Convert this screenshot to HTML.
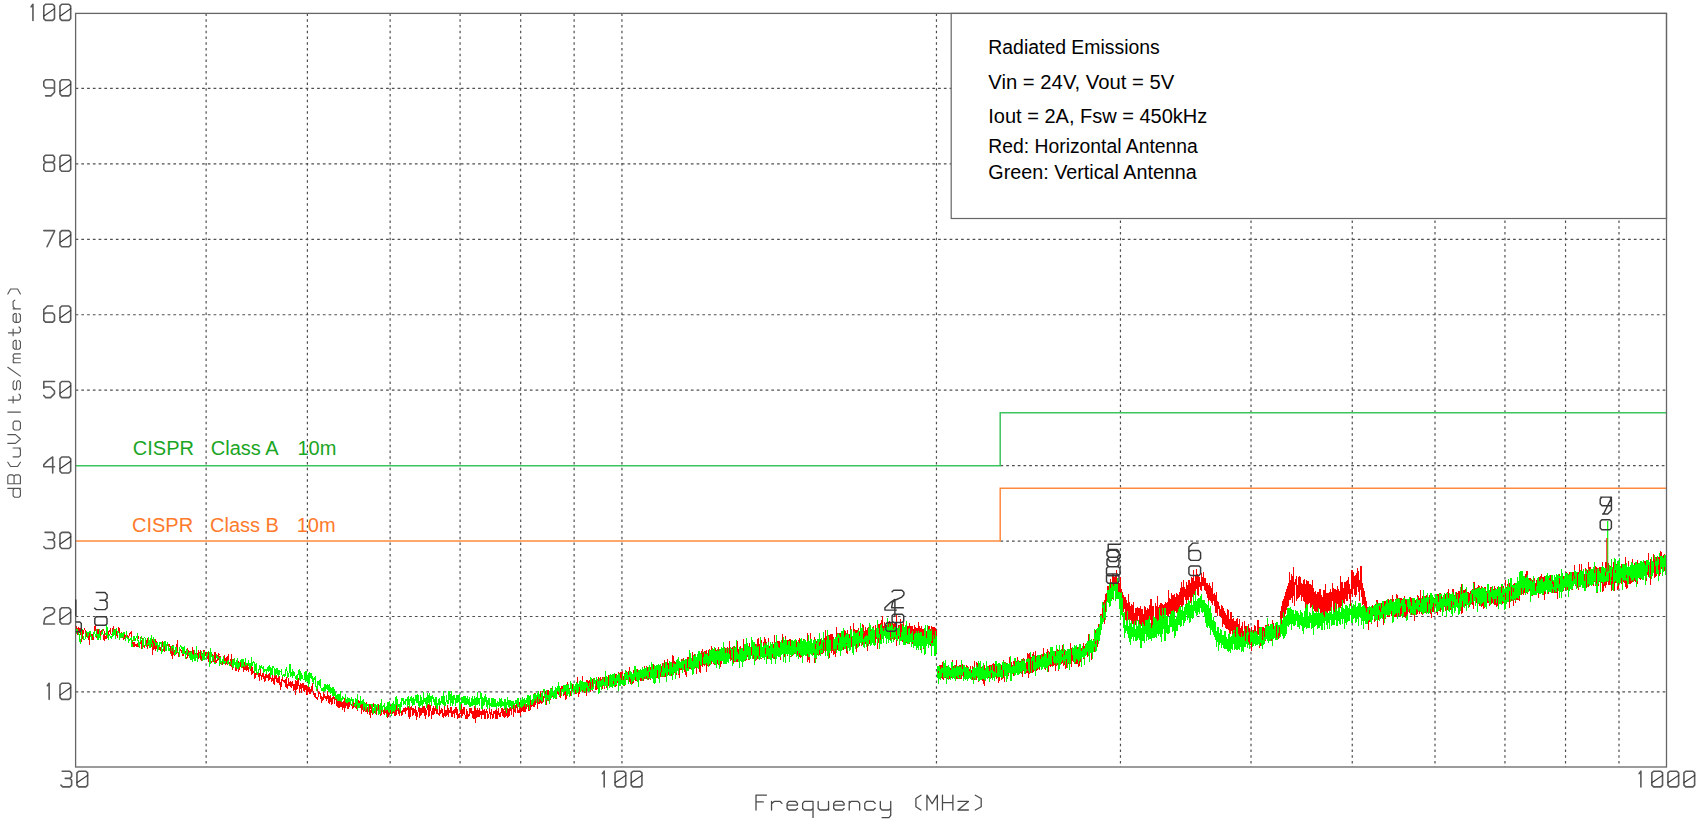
<!DOCTYPE html>
<html><head><meta charset="utf-8"><title>Radiated Emissions</title>
<style>html,body{margin:0;padding:0;background:#fff;overflow:hidden}svg{display:block}</style>
</head><body>
<svg width="1701" height="824" viewBox="0 0 1701 824"><rect x="0" y="0" width="1701" height="824" fill="#fff"/>
<path d="M75.60 691.96H1666.80 M75.60 616.52H1666.80 M1000.50 541.08H1666.80 M1000.50 465.64H1666.80 M75.60 390.20H1666.80 M75.60 314.76H1666.80 M75.60 239.32H1666.80 M75.60 163.88H1666.80 M75.60 88.44H1666.80" stroke="#4f4f4f" stroke-width="1.2" stroke-dasharray="2.7 3.05" fill="none"/>
<path d="M206.14 13.40V767.00 M307.40 13.40V767.00 M390.14 13.40V767.00 M460.09 13.40V767.00 M520.68 13.40V767.00 M574.13 13.40V767.00 M621.94 13.40V767.00 M936.47 13.40V767.00 M1120.46 13.40V767.00 M1251.01 13.40V767.00 M1352.26 13.40V767.00 M1435.00 13.40V767.00 M1504.95 13.40V767.00 M1565.54 13.40V767.00 M1618.99 13.40V767.00" stroke="#4f4f4f" stroke-width="1.2" stroke-dasharray="2.7 3.05" fill="none"/>
<rect x="951.20" y="13.40" width="715.30" height="205.10" fill="#fff" stroke="#666" stroke-width="1.2"/>
<text x="988.3" y="53.7" font-family="Liberation Sans, sans-serif" font-size="20" fill="#000" textLength="171.5" lengthAdjust="spacingAndGlyphs">Radiated Emissions</text>
<text x="988.3" y="89.3" font-family="Liberation Sans, sans-serif" font-size="20" fill="#000" textLength="186.0" lengthAdjust="spacingAndGlyphs">Vin = 24V, Vout = 5V</text>
<text x="988.3" y="122.8" font-family="Liberation Sans, sans-serif" font-size="20" fill="#000" textLength="219.0" lengthAdjust="spacingAndGlyphs">Iout = 2A, Fsw = 450kHz</text>
<text x="988.3" y="152.8" font-family="Liberation Sans, sans-serif" font-size="20" fill="#000" textLength="209.5" lengthAdjust="spacingAndGlyphs">Red: Horizontal Antenna</text>
<text x="988.3" y="179.4" font-family="Liberation Sans, sans-serif" font-size="20" fill="#000" textLength="208.5" lengthAdjust="spacingAndGlyphs">Green: Vertical Antenna</text>
<path d="M75.60 465.64H1000.20V412.83H1666.80" stroke="#3cc45e" stroke-width="1.5" fill="none"/>
<path d="M75.60 541.08H1000.20V488.27H1666.80" stroke="#ff8a3c" stroke-width="1.5" fill="none"/>
<text x="132.8" y="455" font-family="Liberation Sans, sans-serif" font-size="20" fill="#1aa524">CISPR</text>
<text x="210.8" y="455" font-family="Liberation Sans, sans-serif" font-size="20" fill="#1aa524">Class A</text>
<text x="297.5" y="455" font-family="Liberation Sans, sans-serif" font-size="20" fill="#1aa524">10m</text>
<text x="132" y="531.8" font-family="Liberation Sans, sans-serif" font-size="20" fill="#ff7a2a">CISPR</text>
<text x="210" y="531.8" font-family="Liberation Sans, sans-serif" font-size="20" fill="#ff7a2a">Class B</text>
<text x="296.7" y="531.8" font-family="Liberation Sans, sans-serif" font-size="20" fill="#ff7a2a">10m</text>
<polyline points="75.6,633.4 76.4,626.1 77.1,628.9 77.9,634.6 78.7,628.0 79.4,628.1 80.2,634.8 81.0,627.8 81.7,641.7 82.5,629.5 83.2,634.3 84.0,630.2 84.7,628.3 85.5,633.6 86.3,632.7 87.0,636.4 87.8,636.6 88.5,631.8 89.3,644.6 90.0,632.3 90.7,632.0 91.5,637.9 92.2,638.9 93.0,640.3 93.7,634.3 94.4,631.0 95.2,624.6 95.9,629.3 96.7,638.1 97.4,629.4 98.1,640.4 98.9,629.8 99.6,629.6 100.3,638.3 101.0,635.3 101.8,630.7 102.5,630.0 103.2,629.8 104.0,631.0 104.7,640.5 105.4,637.5 106.1,639.2 106.8,633.0 107.6,632.6 108.3,632.0 109.0,630.9 109.7,631.7 110.4,628.4 111.1,634.6 111.8,634.7 112.5,632.8 113.3,625.9 114.0,633.8 114.7,628.7 115.4,634.6 116.1,635.7 116.8,628.8 117.5,638.1 118.2,628.2 118.9,627.5 119.6,630.0 120.3,636.4 121.0,638.2 121.7,632.0 122.4,637.6 123.1,631.9 123.8,640.0 124.5,633.2 125.1,636.6 125.8,636.0 126.5,633.0 127.2,638.2 127.9,635.9 128.6,639.0 129.3,633.6 129.9,634.2 130.6,633.0 131.3,632.2 132.0,645.4 132.7,641.7 133.4,643.2 134.0,646.8 134.7,641.6 135.4,646.3 136.1,644.1 136.7,646.8 137.4,644.1 138.1,645.9 138.7,646.6 139.4,643.7 140.1,643.4 140.7,637.3 141.4,648.7 142.1,638.6 142.7,641.5 143.4,644.0 144.1,647.3 144.7,646.3 145.4,644.6 146.1,640.2 146.7,643.6 147.4,648.9 148.0,637.9 148.7,646.2 149.3,640.1 150.0,641.0 150.6,639.3 151.3,646.5 151.9,643.8 152.6,654.5 153.2,645.9 153.9,640.5 154.5,649.2 155.2,639.4 155.8,650.8 156.5,641.4 157.1,642.9 157.8,644.7 158.4,645.8 159.0,650.1 159.7,644.0 160.3,650.8 161.0,648.9 161.6,644.1 162.2,640.7 162.9,646.2 163.5,650.8 164.1,642.6 164.8,648.6 165.4,648.8 166.0,651.0 166.7,648.1 167.3,644.0 167.9,643.9 168.6,647.6 169.2,644.2 169.8,646.4 170.4,648.7 171.1,651.7 171.7,652.3 172.3,658.7 172.9,644.6 173.5,650.8 174.2,656.0 174.8,650.4 175.4,653.5 176.0,651.7 176.6,652.8 177.2,640.5 177.9,653.0 178.5,655.4 179.1,657.4 179.7,648.7 180.3,650.1 180.9,649.9 181.5,652.0 182.1,651.4 182.8,655.4 183.4,655.5 184.0,650.0 184.6,647.8 185.2,652.5 185.8,656.5 186.4,658.0 187.0,658.2 187.6,649.5 188.2,650.5 188.8,654.9 189.4,657.5 190.0,651.2 190.6,657.7 191.2,655.5 191.8,657.9 192.4,646.8 193.0,654.3 193.6,655.2 194.2,659.6 194.7,652.8 195.3,653.0 195.9,654.0 196.5,649.0 197.1,653.2 197.7,658.1 198.3,649.9 198.9,658.3 199.5,652.5 200.0,652.4 200.6,656.1 201.2,661.2 201.8,651.1 202.4,657.1 203.0,653.2 203.5,650.2 204.1,650.5 204.7,652.1 205.3,655.5 205.9,653.7 206.4,655.6 207.0,651.9 207.6,657.3 208.2,660.0 208.7,660.3 209.3,659.0 209.9,663.2 210.5,654.6 211.0,661.0 211.6,662.9 212.2,659.7 212.7,654.4 213.3,661.4 213.9,661.1 214.4,656.6 215.0,652.2 215.6,660.3 216.1,661.3 216.7,663.3 217.3,658.7 217.8,655.1 218.4,654.3 219.0,659.8 219.5,660.2 220.1,655.8 220.6,663.8 221.2,664.2 221.8,661.7 222.3,661.4 222.9,663.6 223.4,660.3 224.0,660.0 224.5,655.2 225.1,665.3 225.6,660.8 226.2,660.4 226.7,657.7 227.3,656.2 227.8,664.9 228.4,654.4 228.9,661.5 229.5,662.9 230.0,664.5 230.6,659.4 231.1,666.9 231.7,654.2 232.2,670.4 232.8,667.4 233.3,663.3 233.9,659.5 234.4,664.5 234.9,663.3 235.5,666.8 236.0,670.8 236.6,663.8 237.1,666.8 237.6,664.9 238.2,661.2 238.7,672.3 239.3,668.2 239.8,664.1 240.3,661.9 240.9,666.0 241.4,664.7 241.9,661.4 242.5,668.2 243.0,658.8 243.5,672.3 244.1,669.9 244.6,663.6 245.1,661.9 245.7,669.1 246.2,669.6 246.7,664.5 247.2,664.2 247.8,668.6 248.3,672.3 248.8,668.0 249.3,668.4 249.9,668.0 250.4,667.1 250.9,670.1 251.4,674.8 252.0,666.5 252.5,674.0 253.0,671.5 253.5,672.2 254.0,672.9 254.6,679.4 255.1,672.7 255.6,676.2 256.1,674.9 256.6,670.1 257.1,674.2 257.7,673.3 258.2,673.7 258.7,675.4 259.2,677.9 259.7,680.8 260.2,668.3 260.7,672.1 261.3,680.1 261.8,677.1 262.3,673.1 262.8,676.8 263.3,677.7 263.8,672.6 264.3,682.1 264.8,677.7 265.3,674.0 265.8,678.3 266.3,677.5 266.8,672.2 267.3,677.9 267.9,675.9 268.4,674.1 268.9,680.6 269.4,676.8 269.9,673.5 270.4,671.6 270.9,677.4 271.4,682.1 271.9,680.4 272.4,672.3 272.9,679.4 273.4,684.0 273.9,677.6 274.4,683.7 274.9,674.4 275.3,679.3 275.8,677.3 276.3,674.8 276.8,681.9 277.3,677.7 277.8,682.5 278.3,676.1 278.8,683.2 279.3,676.1 279.8,681.6 280.3,690.4 280.8,684.7 281.3,679.0 281.7,686.5 282.2,677.1 282.7,680.0 283.2,680.1 283.7,680.5 284.2,682.8 284.7,682.6 285.2,679.2 285.6,686.9 286.1,676.9 286.6,683.2 287.1,688.4 287.6,686.6 288.1,683.7 288.5,678.4 289.0,686.3 289.5,682.3 290.0,685.4 290.5,686.9 290.9,681.1 291.4,687.4 291.9,687.5 292.4,682.6 292.8,681.8 293.3,687.5 293.8,690.0 294.3,689.1 294.8,689.5 295.2,680.0 295.7,695.2 296.2,686.1 296.6,689.5 297.1,685.2 297.6,689.1 298.1,677.8 298.5,682.6 299.0,685.8 299.5,692.5 299.9,684.8 300.4,688.9 300.9,683.5 301.3,687.0 301.8,692.5 302.3,683.1 302.8,684.6 303.2,690.7 303.7,685.0 304.1,685.8 304.6,691.6 305.1,689.3 305.5,684.7 306.0,689.5 306.5,685.5 306.9,694.9 307.4,686.2 307.9,694.9 308.3,684.8 308.8,687.1 309.2,694.3 309.7,686.9 310.2,689.8 310.6,693.8 311.1,691.6 311.5,686.4 312.0,687.7 312.4,683.3 312.9,690.4 313.4,691.9 313.8,695.0 314.3,695.9 314.7,693.4 315.2,695.3 315.6,692.8 316.1,698.7 316.5,697.8 317.0,697.3 317.4,699.1 317.9,698.3 318.3,695.3 318.8,691.0 319.2,693.4 319.7,693.4 320.1,693.7 320.6,698.8 321.0,698.8 321.5,695.6 321.9,702.7 322.4,697.0 322.8,700.2 323.3,698.8 323.7,692.5 324.2,697.8 324.6,695.2 325.1,696.3 325.5,699.3 325.9,697.1 326.4,701.1 326.8,695.7 327.3,697.3 327.7,691.5 328.2,703.4 328.6,695.4 329.0,701.9 329.5,696.1 329.9,704.0 330.4,695.2 330.8,696.1 331.2,699.2 331.7,705.4 332.1,700.7 332.5,703.8 333.0,697.5 333.4,698.9 333.9,695.2 334.3,703.4 334.7,703.1 335.2,695.6 335.6,699.5 336.0,696.8 336.5,701.7 336.9,705.5 337.3,697.7 337.8,706.5 338.2,700.1 338.6,697.7 339.0,707.7 339.5,704.6 339.9,694.5 340.3,707.4 340.8,698.6 341.2,699.2 341.6,704.6 342.1,707.4 342.5,702.0 342.9,708.1 343.3,707.3 343.8,703.3 344.2,699.8 344.6,712.1 345.0,698.3 345.5,702.3 345.9,707.5 346.3,703.8 346.7,705.6 347.2,697.5 347.6,708.8 348.0,709.3 348.4,700.9 348.8,706.1 349.3,704.4 349.7,706.9 350.1,699.2 350.5,704.3 350.9,703.8 351.4,704.4 351.8,705.3 352.2,705.7 352.6,709.2 353.0,703.4 353.5,705.3 353.9,707.0 354.3,703.8 354.7,704.4 355.1,707.5 355.5,705.0 356.0,700.1 356.4,704.8 356.8,709.4 357.2,699.4 357.6,709.5 358.0,706.1 358.4,702.7 358.9,700.1 359.3,704.6 359.7,704.1 360.1,707.8 360.5,702.5 360.9,704.5 361.3,700.7 361.7,713.6 362.1,704.4 362.5,709.7 363.0,709.2 363.4,711.1 363.8,709.9 364.2,707.0 364.6,710.7 365.0,704.7 365.4,711.6 365.8,707.0 366.2,705.4 366.6,701.9 367.0,712.1 367.4,707.4 367.8,713.5 368.2,705.3 368.6,706.9 369.0,711.3 369.4,707.7 369.8,712.6 370.2,717.7 370.7,709.9 371.1,712.9 371.5,703.9 371.9,706.4 372.3,714.5 372.7,711.2 373.1,702.8 373.5,704.1 373.9,706.9 374.3,705.7 374.7,706.3 375.0,712.9 375.4,711.4 375.8,706.3 376.2,714.6 376.6,706.9 377.0,704.7 377.4,707.5 377.8,709.9 378.2,704.2 378.6,707.1 379.0,713.2 379.4,707.1 379.8,706.7 380.2,710.2 380.6,714.4 381.0,715.5 381.4,708.3 381.8,710.9 382.2,706.0 382.5,711.4 382.9,711.6 383.3,710.0 383.7,713.8 384.1,710.0 384.5,714.0 384.9,711.1 385.3,709.1 385.7,713.2 386.1,706.7 386.4,706.6 386.8,709.9 387.2,711.0 387.6,710.7 388.0,718.1 388.4,705.8 388.8,709.9 389.1,709.3 389.5,713.5 389.9,714.8 390.3,710.5 390.7,706.9 391.1,707.8 391.5,707.9 391.8,710.4 392.2,711.2 392.6,714.0 393.0,707.3 393.4,712.5 393.8,710.7 394.1,708.8 394.5,715.9 394.9,710.3 395.3,716.2 395.7,710.0 396.0,705.1 396.4,715.2 396.8,709.4 397.2,709.8 397.6,705.3 397.9,708.9 398.3,713.6 398.7,708.0 399.1,707.9 399.4,716.0 399.8,709.1 400.2,709.9 400.6,712.8 400.9,709.3 401.3,715.4 401.7,715.7 402.1,710.0 402.4,710.3 402.8,714.6 403.2,709.6 403.6,712.0 403.9,708.0 404.3,711.1 404.7,710.9 405.1,707.0 405.4,710.2 405.8,713.9 406.2,709.0 406.5,708.0 406.9,710.5 407.3,702.4 407.7,709.1 408.0,707.8 408.4,706.2 408.8,716.8 409.1,709.9 409.5,707.1 409.9,718.9 410.2,715.2 410.6,706.8 411.0,708.9 411.3,707.9 411.7,706.5 412.1,711.1 412.4,707.7 412.8,709.2 413.2,714.0 413.5,708.5 413.9,714.5 414.3,710.7 414.6,712.7 415.0,708.7 415.4,706.4 415.7,712.8 416.1,716.3 416.5,709.7 416.8,719.5 417.2,714.2 417.5,717.3 417.9,712.7 418.3,711.2 418.6,706.8 419.0,710.0 419.4,709.4 419.7,710.9 420.1,708.1 420.4,708.9 420.8,710.1 421.2,707.8 421.5,714.2 421.9,714.2 422.2,710.5 422.6,706.6 422.9,706.5 423.3,712.7 423.7,709.6 424.0,706.0 424.4,716.2 424.7,708.8 425.1,707.8 425.4,712.8 425.8,718.9 426.2,712.3 426.5,712.4 426.9,710.3 427.2,708.7 427.6,704.0 427.9,702.7 428.3,707.0 428.6,709.0 429.0,716.8 429.3,707.5 429.7,713.2 430.0,705.2 430.4,709.8 430.8,710.9 431.1,711.5 431.5,711.6 431.8,718.7 432.2,708.4 432.5,715.0 432.9,713.3 433.2,713.0 433.6,712.1 433.9,710.6 434.3,709.2 434.6,713.7 435.0,707.7 435.3,708.7 435.7,711.0 436.0,705.7 436.3,706.2 436.7,706.4 437.0,714.1 437.4,707.0 437.7,708.2 438.1,714.8 438.4,714.5 438.8,713.6 439.1,713.6 439.5,709.1 439.8,715.1 440.2,712.5 440.5,710.2 440.8,712.6 441.2,712.1 441.5,713.2 441.9,707.6 442.2,712.3 442.6,708.7 442.9,716.7 443.2,712.9 443.6,716.4 443.9,717.4 444.3,713.9 444.6,706.1 445.0,714.2 445.3,714.9 445.6,712.0 446.0,710.0 446.3,715.1 446.7,714.8 447.0,710.3 447.3,714.7 447.7,705.4 448.0,715.2 448.4,707.9 448.7,716.8 449.0,711.6 449.4,709.7 449.7,712.6 450.0,713.3 450.4,708.6 450.7,710.3 451.1,706.6 451.4,716.5 451.7,707.0 452.1,711.8 452.4,717.2 452.7,716.3 453.1,711.0 453.4,710.6 453.7,713.9 454.1,709.5 454.4,713.2 454.7,717.8 455.1,712.0 455.4,708.4 455.7,708.3 456.1,707.3 456.4,715.2 456.7,712.4 457.1,708.9 457.4,718.7 457.7,712.8 458.1,715.1 458.4,715.9 458.7,714.1 459.1,717.7 459.4,714.9 459.7,717.3 460.0,713.4 460.4,711.2 460.7,714.4 461.0,703.2 461.4,714.2 461.7,710.0 462.0,711.6 462.3,715.4 462.7,715.5 463.0,714.7 463.3,708.0 463.7,710.9 464.0,706.9 464.3,711.6 464.6,713.1 465.0,714.8 465.3,717.2 465.6,715.7 465.9,718.5 466.3,718.2 466.6,711.7 466.9,709.0 467.2,714.9 467.6,711.4 467.9,718.6 468.2,714.4 468.5,714.6 468.9,714.2 469.2,715.9 469.5,708.6 469.8,708.4 470.2,708.4 470.5,712.4 470.8,712.0 471.1,709.8 471.4,713.8 471.8,707.6 472.1,712.4 472.4,714.1 472.7,716.5 473.0,717.9 473.4,710.9 473.7,718.8 474.0,717.4 474.3,718.8 474.6,710.0 475.0,705.8 475.3,703.8 475.6,713.3 475.9,722.5 476.2,710.3 476.6,717.4 476.9,713.7 477.2,714.7 477.5,708.3 477.8,716.6 478.1,710.3 478.5,717.4 478.8,713.9 479.1,717.3 479.4,709.3 479.7,708.7 480.0,711.6 480.4,714.7 480.7,712.1 481.0,711.1 481.3,718.1 481.6,719.1 481.9,715.0 482.2,713.0 482.6,712.7 482.9,711.6 483.2,715.0 483.5,714.7 483.8,709.7 484.1,715.7 484.4,709.1 484.8,718.6 485.1,711.8 485.4,719.2 485.7,716.1 486.0,711.2 486.3,709.2 486.6,712.5 486.9,709.9 487.2,712.8 487.6,718.5 487.9,715.7 488.2,714.2 488.5,717.6 488.8,717.4 489.1,712.7 489.4,706.7 489.7,712.6 490.0,712.3 490.3,712.5 490.7,718.8 491.0,715.4 491.3,710.2 491.6,708.9 491.9,713.1 492.2,716.8 492.5,718.6 492.8,713.6 493.1,717.7 493.4,711.5 493.7,715.7 494.0,711.2 494.3,714.1 494.6,712.7 494.9,712.6 495.3,715.0 495.6,718.5 495.9,712.6 496.2,705.2 496.5,715.3 496.8,718.9 497.1,712.5 497.4,714.7 497.7,718.6 498.0,711.4 498.3,711.6 498.6,708.0 498.9,714.6 499.2,715.6 499.5,716.4 499.8,716.0 500.1,712.4 500.4,717.0 500.7,713.7 501.0,713.2 501.3,708.2 501.6,710.4 501.9,708.3 502.2,708.4 502.5,712.8 502.8,715.9 503.1,711.7 503.4,709.4 503.7,713.3 504.0,716.7 504.3,716.7 504.6,718.1 504.9,711.5 505.2,716.8 505.5,711.9 505.8,706.9 506.1,716.2 506.4,715.0 506.7,712.9 507.0,708.0 507.3,717.8 507.6,716.3 507.9,711.2 508.2,709.3 508.5,716.8 508.8,711.7 509.1,716.2 509.4,706.0 509.7,709.0 510.0,709.1 510.3,708.5 510.6,710.4 510.9,709.5 511.1,710.4 511.4,714.8 511.7,711.1 512.0,709.5 512.3,705.9 512.6,708.3 512.9,707.2 513.2,710.1 513.5,709.1 513.8,717.0 514.1,710.2 514.4,711.0 514.7,707.4 515.0,710.7 515.3,709.5 515.5,712.4 515.8,704.6 516.1,706.5 516.4,708.2 516.7,705.5 517.0,704.1 517.3,711.2 517.6,706.5 517.9,712.6 518.2,710.1 518.5,711.4 518.7,709.7 519.0,713.1 519.3,702.5 519.6,708.0 519.9,710.6 520.2,709.8 520.5,700.7 520.8,715.6 521.1,710.4 521.3,706.7 521.6,702.8 521.9,709.9 522.2,702.7 522.5,711.2 522.8,707.5 523.1,702.5 523.4,712.1 523.6,711.6 523.9,705.7 524.2,710.5 524.5,710.8 524.8,701.0 525.1,704.9 525.4,711.2 525.6,708.4 525.9,709.3 526.2,708.8 526.5,706.9 526.8,704.1 527.1,704.1 527.4,706.0 527.6,706.5 527.9,701.2 528.2,711.1 528.5,707.7 528.8,702.6 529.1,706.1 529.3,700.1 529.6,710.5 529.9,707.5 530.2,706.2 530.5,710.2 530.8,698.7 531.0,707.3 531.3,701.9 531.6,705.6 531.9,706.1 532.2,704.2 532.4,699.4 532.7,704.1 533.0,706.4 533.3,699.4 533.6,704.0 533.8,705.6 534.1,707.0 534.4,692.8 534.7,700.4 535.0,700.9 535.2,697.3 535.5,698.7 535.8,695.6 536.1,698.2 536.4,698.0 536.6,700.6 536.9,698.0 537.2,700.5 537.5,705.8 537.8,708.9 538.0,700.4 538.3,700.1 538.6,704.4 538.9,696.5 539.1,704.3 539.4,702.3 539.7,698.2 540.0,701.3 540.2,691.5 540.5,695.1 540.8,697.8 541.1,703.1 541.4,692.6 541.6,703.1 541.9,703.2 542.2,701.6 542.5,699.0 542.7,691.2 543.0,702.4 543.3,700.7 543.6,696.5 543.8,696.4 544.1,696.3 544.4,695.9 544.6,698.3 544.9,695.6 545.2,695.5 545.5,701.3 545.7,691.2 546.0,693.5 546.3,700.7 546.6,699.5 546.8,704.9 547.1,690.4 547.4,695.0 547.7,697.3 547.9,696.4 548.2,700.6 548.5,698.3 548.7,690.1 549.0,695.9 549.3,698.7 549.5,694.9 549.8,697.7 550.1,694.2 550.4,689.2 550.6,700.1 550.9,690.1 551.2,688.3 551.4,691.2 551.7,694.4 552.0,696.1 552.2,690.7 552.5,696.6 552.8,689.5 553.1,693.5 553.3,691.6 553.6,695.5 553.9,693.8 554.1,698.1 554.4,690.1 554.7,691.2 554.9,695.4 555.2,693.7 555.5,696.4 555.7,689.6 556.0,699.0 556.3,691.2 556.5,698.3 556.8,696.4 557.1,690.7 557.3,691.2 557.6,693.8 557.9,692.2 558.1,692.1 558.4,692.4 558.7,687.0 558.9,694.6 559.2,695.2 559.5,696.8 559.7,689.9 560.0,694.7 560.3,693.0 560.5,696.6 560.8,697.4 561.0,690.2 561.3,688.9 561.6,694.4 561.8,687.6 562.1,685.9 562.4,687.5 562.6,691.7 562.9,692.1 563.2,691.5 563.4,694.6 563.7,688.7 563.9,696.3 564.2,686.7 564.5,691.7 564.7,694.5 565.0,692.7 565.2,692.0 565.5,687.0 565.8,691.4 566.0,700.0 566.3,684.8 566.6,686.2 566.8,686.7 567.1,686.7 567.3,690.2 567.6,689.7 567.9,683.9 568.1,684.2 568.4,691.4 568.6,689.5 568.9,687.5 569.2,694.6 569.4,688.6 569.7,689.1 569.9,694.8 570.2,695.0 570.5,690.9 570.7,692.9 571.0,695.1 571.2,685.0 571.5,685.8 571.7,684.7 572.0,688.5 572.3,687.0 572.5,688.8 572.8,691.3 573.0,687.2 573.3,688.6 573.5,689.6 573.8,688.1 574.1,688.5 574.3,690.2 574.6,687.2 574.8,692.2 575.1,692.5 575.3,685.1 575.6,694.3 575.8,687.1 576.1,693.8 576.4,687.8 576.6,692.3 576.9,685.8 577.1,684.2 577.4,693.1 577.6,677.4 577.9,691.5 578.1,691.6 578.4,692.3 578.7,684.2 578.9,697.0 579.2,687.5 579.4,691.1 579.7,692.6 579.9,685.9 580.2,682.1 580.4,685.4 580.7,685.6 580.9,690.3 581.2,690.4 581.4,682.0 581.7,681.1 581.9,688.0 582.2,676.5 582.4,692.4 582.7,686.5 582.9,684.6 583.2,682.1 583.4,682.9 583.7,690.0 584.0,686.5 584.2,683.3 584.5,688.1 584.7,691.9 585.0,691.7 585.2,682.4 585.5,692.0 585.7,683.7 586.0,686.2 586.2,679.7 586.5,696.2 586.7,685.4 587.0,682.4 587.2,686.7 587.5,683.3 587.7,679.6 587.9,685.8 588.2,681.5 588.4,681.8 588.7,691.3 588.9,684.3 589.2,688.6 589.4,687.0 589.7,680.3 589.9,684.9 590.2,692.4 590.4,680.8 590.7,679.0 590.9,685.5 591.2,687.6 591.4,682.3 591.7,686.6 591.9,684.0 592.2,679.3 592.4,690.5 592.7,686.5 592.9,686.9 593.1,679.3 593.4,685.2 593.6,682.9 593.9,686.5 594.1,678.0 594.4,679.1 594.6,683.6 594.9,678.2 595.1,683.4 595.4,689.9 595.6,684.5 595.8,684.9 596.1,690.1 596.3,681.0 596.6,688.4 596.8,682.3 597.1,688.6 597.3,687.3 597.6,682.6 597.8,682.4 598.0,680.7 598.3,682.0 598.5,686.8 598.8,682.7 599.0,677.4 599.3,684.6 599.5,684.3 599.7,686.1 600.0,685.8 600.2,676.8 600.5,685.0 600.7,684.8 600.9,686.3 601.2,689.1 601.4,685.4 601.7,681.4 601.9,679.2 602.2,678.7 602.4,689.1 602.6,688.0 602.9,683.5 603.1,685.5 603.4,685.1 603.6,685.6 603.8,678.8 604.1,683.0 604.3,688.7 604.6,685.9 604.8,685.1 605.0,676.8 605.3,682.8 605.5,681.8 605.8,683.5 606.0,679.2 606.2,677.4 606.5,676.9 606.7,681.1 607.0,688.3 607.2,687.8 607.4,685.1 607.7,678.8 607.9,684.1 608.1,677.8 608.4,681.9 608.6,679.6 608.9,676.5 609.1,686.4 609.3,684.6 609.6,676.8 609.8,675.5 610.0,684.4 610.3,680.9 610.5,674.5 610.8,683.7 611.0,683.7 611.2,686.1 611.5,680.5 611.7,680.0 611.9,677.5 612.2,682.2 612.4,681.4 612.6,675.8 612.9,685.0 613.1,679.7 613.3,685.1 613.6,678.8 613.8,683.3 614.1,685.7 614.3,676.9 614.5,678.5 614.8,683.3 615.0,683.0 615.2,684.9 615.5,681.3 615.7,673.8 615.9,686.8 616.2,685.1 616.4,674.5 616.6,682.7 616.9,676.8 617.1,682.6 617.3,679.4 617.6,680.7 617.8,677.8 618.0,676.8 618.3,672.9 618.5,680.9 618.7,674.2 619.0,672.2 619.2,684.9 619.4,681.2 619.7,682.1 619.9,678.2 620.1,679.4 620.4,679.7 620.6,683.3 620.8,680.7 621.0,672.5 621.3,672.6 621.5,680.8 621.7,674.8 622.0,684.0 622.2,682.5 622.4,677.5 622.7,684.3 622.9,670.6 623.1,680.1 623.4,685.4 623.6,678.9 623.8,683.8 624.0,685.5 624.3,685.5 624.5,673.5 624.7,680.4 625.0,679.3 625.2,676.2 625.4,682.0 625.6,679.4 625.9,677.7 626.1,676.1 626.3,678.7 626.6,679.1 626.8,671.1 627.0,680.2 627.2,671.8 627.5,675.5 627.7,673.8 627.9,672.0 628.2,674.3 628.4,675.9 628.6,670.9 628.8,672.4 629.1,670.8 629.3,677.0 629.5,666.7 629.7,673.9 630.0,680.9 630.2,683.5 630.4,678.1 630.7,681.8 630.9,680.1 631.1,676.9 631.3,685.4 631.6,673.7 631.8,675.8 632.0,673.0 632.2,681.7 632.5,683.6 632.7,678.5 632.9,679.7 633.1,670.2 633.4,674.8 633.6,669.9 633.8,683.4 634.0,673.9 634.3,677.6 634.5,674.1 634.7,676.2 634.9,680.0 635.2,672.3 635.4,679.3 635.6,681.3 635.8,671.4 636.1,680.9 636.3,679.4 636.5,679.0 636.7,680.5 637.0,670.8 637.2,668.8 637.4,673.5 637.6,680.6 637.8,681.6 638.1,669.8 638.3,670.9 638.5,671.0 638.7,670.4 639.0,675.8 639.2,670.1 639.4,675.3 639.6,674.7 639.8,676.7 640.1,672.6 640.3,680.6 640.5,673.3 640.7,681.3 641.0,673.1 641.2,672.9 641.4,680.7 641.6,671.5 641.8,678.3 642.1,677.5 642.3,676.4 642.5,672.9 642.7,674.7 642.9,671.1 643.2,679.7 643.4,675.8 643.6,681.2 643.8,669.0 644.0,679.3 644.3,665.9 644.5,672.6 644.7,668.5 644.9,667.5 645.1,670.6 645.4,675.4 645.6,673.0 645.8,679.0 646.0,676.6 646.2,678.8 646.5,674.5 646.7,666.2 646.9,666.1 647.1,670.1 647.3,673.0 647.5,666.9 647.8,669.3 648.0,676.6 648.2,679.7 648.4,671.7 648.6,676.8 648.9,675.9 649.1,677.3 649.3,670.2 649.5,674.7 649.7,666.0 649.9,668.1 650.2,673.9 650.4,679.8 650.6,666.7 650.8,672.1 651.0,669.2 651.2,664.8 651.5,666.7 651.7,665.4 651.9,665.4 652.1,665.8 652.3,666.8 652.5,677.2 652.8,666.5 653.0,675.7 653.2,663.7 653.4,669.1 653.6,679.2 653.8,676.2 654.0,671.5 654.3,671.6 654.5,673.4 654.7,672.0 654.9,666.2 655.1,674.5 655.3,673.2 655.5,671.8 655.8,666.2 656.0,678.0 656.2,670.0 656.4,669.3 656.6,678.1 656.8,674.1 657.0,666.0 657.3,672.9 657.5,670.4 657.7,669.2 657.9,673.2 658.1,663.7 658.3,667.5 658.5,677.0 658.8,664.4 659.0,666.6 659.2,672.5 659.4,677.6 659.6,665.4 659.8,664.8 660.0,673.1 660.2,676.9 660.5,666.2 660.7,672.2 660.9,667.5 661.1,670.9 661.3,672.7 661.5,677.0 661.7,665.9 661.9,676.6 662.1,663.3 662.4,664.8 662.6,677.2 662.8,666.1 663.0,671.0 663.2,665.0 663.4,674.1 663.6,668.8 663.8,673.5 664.0,664.1 664.3,664.8 664.5,659.9 664.7,667.8 664.9,677.1 665.1,664.0 665.3,671.2 665.5,673.8 665.7,675.4 665.9,669.8 666.1,671.8 666.3,668.1 666.6,671.7 666.8,667.1 667.0,672.6 667.2,659.3 667.4,671.5 667.6,666.4 667.8,673.8 668.0,666.9 668.2,663.5 668.4,675.2 668.6,665.2 668.9,664.7 669.1,675.4 669.3,668.5 669.5,665.6 669.7,665.3 669.9,661.4 670.1,673.4 670.3,663.8 670.5,662.0 670.7,670.2 670.9,667.8 671.1,665.7 671.3,667.2 671.6,675.8 671.8,675.0 672.0,665.1 672.2,666.6 672.4,669.1 672.6,661.8 672.8,662.8 673.0,655.5 673.2,661.0 673.4,670.3 673.6,672.4 673.8,662.6 674.0,666.5 674.2,671.2 674.4,668.9 674.6,672.9 674.9,662.1 675.1,662.3 675.3,664.9 675.5,668.6 675.7,672.0 675.9,673.0 676.1,674.6 676.3,668.2 676.5,673.5 676.7,663.7 676.9,668.8 677.1,665.9 677.3,662.5 677.5,663.3 677.7,660.9 677.9,662.3 678.1,668.4 678.3,674.8 678.5,663.9 678.7,669.8 678.9,672.1 679.1,677.6 679.3,667.7 679.6,662.4 679.8,670.1 680.0,662.8 680.2,662.3 680.4,669.9 680.6,665.3 680.8,665.7 681.0,665.5 681.2,669.5 681.4,667.1 681.6,658.7 681.8,663.7 682.0,659.1 682.2,672.9 682.4,666.3 682.6,662.7 682.8,662.6 683.0,667.0 683.2,662.2 683.4,657.6 683.6,661.0 683.8,669.9 684.0,660.2 684.2,669.5 684.4,661.9 684.6,662.7 684.8,669.7 685.0,669.9 685.2,667.9 685.4,672.1 685.6,675.3 685.8,669.5 686.0,661.4 686.2,670.0 686.4,659.6 686.6,677.3 686.8,661.9 687.0,660.9 687.2,671.3 687.4,669.3 687.6,659.9 687.8,661.4 688.0,656.8 688.2,662.4 688.4,662.1 688.6,660.3 688.8,666.5 689.0,663.4 689.2,659.8 689.4,660.1 689.6,657.1 689.8,663.0 690.0,669.4 690.2,662.3 690.4,655.4 690.6,667.7 690.8,662.9 691.0,667.0 691.2,667.6 691.4,662.6 691.6,661.1 691.8,663.2 692.0,663.0 692.2,651.6 692.4,674.1 692.6,664.0 692.8,666.3 693.0,661.9 693.2,669.6 693.4,663.2 693.6,666.2 693.8,665.9 694.0,668.2 694.2,657.4 694.4,668.0 694.5,658.1 694.7,665.1 694.9,654.4 695.1,659.7 695.3,658.8 695.5,667.8 695.7,661.0 695.9,660.4 696.1,664.1 696.3,658.4 696.5,660.7 696.7,662.6 696.9,674.2 697.1,654.2 697.3,656.6 697.5,663.2 697.7,658.3 697.9,660.1 698.1,655.8 698.3,666.2 698.5,656.1 698.7,665.2 698.9,661.7 699.0,653.7 699.2,671.9 699.4,664.3 699.6,660.3 699.8,660.5 700.0,657.1 700.2,654.0 700.4,657.7 700.6,655.2 700.8,673.0 701.0,654.4 701.2,663.8 701.4,663.4 701.6,650.7 701.8,662.0 702.0,659.1 702.2,660.0 702.3,648.6 702.5,662.4 702.7,661.4 702.9,665.7 703.1,664.0 703.3,654.0 703.5,661.9 703.7,652.3 703.9,657.1 704.1,654.2 704.3,657.3 704.5,665.6 704.7,650.7 704.9,662.3 705.0,662.5 705.2,656.1 705.4,651.4 705.6,651.0 705.8,665.3 706.0,660.2 706.2,671.7 706.4,654.9 706.6,650.2 706.8,660.6 707.0,652.8 707.2,663.7 707.3,666.3 707.5,664.0 707.7,666.3 707.9,664.7 708.1,649.8 708.3,655.5 708.5,653.3 708.7,654.1 708.9,651.1 709.1,656.1 709.3,659.4 709.4,662.8 709.6,665.7 709.8,658.2 710.0,649.5 710.2,664.2 710.4,657.4 710.6,653.6 710.8,650.2 711.0,653.8 711.2,658.9 711.3,663.5 711.5,649.9 711.7,661.5 711.9,645.6 712.1,657.9 712.3,659.3 712.5,651.0 712.7,652.7 712.9,653.2 713.0,654.9 713.2,653.0 713.4,653.6 713.6,653.9 713.8,663.7 714.0,658.8 714.2,661.9 714.4,654.0 714.6,658.1 714.7,649.9 714.9,665.1 715.1,648.2 715.3,649.2 715.5,665.2 715.7,648.3 715.9,659.9 716.1,656.9 716.2,656.6 716.4,649.9 716.6,659.8 716.8,660.9 717.0,654.8 717.2,652.4 717.4,662.8 717.6,660.8 717.7,650.9 717.9,664.0 718.1,664.2 718.3,648.6 718.5,648.3 718.7,658.0 718.9,654.3 719.1,649.9 719.2,655.7 719.4,653.6 719.6,661.1 719.8,661.3 720.0,648.9 720.2,657.5 720.4,666.9 720.5,658.8 720.7,659.3 720.9,651.2 721.1,663.4 721.3,664.0 721.5,653.2 721.7,651.0 721.8,652.0 722.0,661.9 722.2,648.3 722.4,650.3 722.6,657.4 722.8,648.5 722.9,647.8 723.1,660.6 723.3,660.8 723.5,653.5 723.7,646.8 723.9,655.9 724.1,662.9 724.2,650.5 724.4,654.9 724.6,656.1 724.8,658.5 725.0,647.5 725.2,662.6 725.3,660.8 725.5,650.0 725.7,659.0 725.9,655.3 726.1,648.0 726.3,655.8 726.4,654.7 726.6,657.5 726.8,648.8 727.0,657.5 727.2,657.0 727.4,648.9 727.5,646.9 727.7,651.3 727.9,660.3 728.1,662.1 728.3,661.6 728.5,652.3 728.6,659.5 728.8,663.3 729.0,653.7 729.2,642.6 729.4,655.6 729.5,641.1 729.7,656.9 729.9,657.9 730.1,650.5 730.3,647.4 730.5,647.6 730.6,660.3 730.8,660.9 731.0,653.8 731.2,659.7 731.4,653.2 731.5,654.0 731.7,648.2 731.9,653.4 732.1,660.3 732.3,661.0 732.5,648.8 732.6,660.5 732.8,657.2 733.0,646.8 733.2,653.4 733.4,654.4 733.5,649.5 733.7,655.6 733.9,662.0 734.1,649.5 734.3,646.4 734.4,651.3 734.6,655.3 734.8,650.1 735.0,661.6 735.2,650.7 735.3,650.8 735.5,650.3 735.7,655.6 735.9,661.2 736.1,662.3 736.2,650.2 736.4,651.1 736.6,646.4 736.8,649.9 737.0,659.1 737.1,658.8 737.3,652.0 737.5,661.3 737.7,641.3 737.8,661.8 738.0,655.7 738.2,652.2 738.4,649.9 738.6,660.6 738.7,649.4 738.9,651.9 739.1,660.2 739.3,654.4 739.5,655.0 739.6,655.0 739.8,649.4 740.0,652.9 740.2,660.0 740.3,654.1 740.5,648.2 740.7,646.5 740.9,649.8 741.1,648.3 741.2,654.0 741.4,656.0 741.6,655.6 741.8,655.4 741.9,652.7 742.1,648.3 742.3,654.7 742.5,651.0 742.7,654.0 742.8,649.4 743.0,651.9 743.2,656.8 743.4,660.9 743.5,638.9 743.7,650.8 743.9,644.3 744.1,656.5 744.2,657.6 744.4,656.9 744.6,654.9 744.8,655.4 744.9,645.3 745.1,656.0 745.3,660.6 745.5,646.5 745.6,649.8 745.8,659.0 746.0,655.9 746.2,652.4 746.4,652.8 746.5,658.3 746.7,660.3 746.9,641.2 747.1,646.0 747.2,650.8 747.4,655.3 747.6,652.4 747.8,652.6 747.9,653.3 748.1,659.5 748.3,647.5 748.5,657.9 748.6,654.0 748.8,647.6 749.0,646.6 749.1,649.9 749.3,647.2 749.5,650.7 749.7,656.5 749.8,659.4 750.0,648.1 750.2,654.8 750.4,654.3 750.5,657.4 750.7,657.6 750.9,649.3 751.1,651.4 751.2,652.1 751.4,650.9 751.6,647.6 751.8,643.2 751.9,650.8 752.1,651.0 752.3,653.0 752.5,645.2 752.6,643.2 752.8,651.0 753.0,641.8 753.1,658.4 753.3,646.5 753.5,650.8 753.7,658.7 753.8,645.9 754.0,656.6 754.2,652.7 754.4,646.6 754.5,651.3 754.7,646.4 754.9,652.7 755.0,660.0 755.2,660.0 755.4,651.4 755.6,643.9 755.7,644.2 755.9,643.9 756.1,645.9 756.2,656.0 756.4,645.0 756.6,660.1 756.8,650.3 756.9,654.9 757.1,638.7 757.3,646.8 757.4,644.3 757.6,651.5 757.8,652.4 758.0,659.2 758.1,657.0 758.3,638.3 758.5,649.6 758.6,654.2 758.8,655.4 759.0,648.1 759.2,648.8 759.3,656.3 759.5,651.1 759.7,645.1 759.8,647.0 760.0,646.9 760.2,650.2 760.3,650.1 760.5,652.4 760.7,651.3 760.9,647.9 761.0,638.4 761.2,653.8 761.4,646.5 761.5,643.0 761.7,653.2 761.9,650.6 762.0,654.4 762.2,656.3 762.4,646.8 762.6,656.3 762.7,651.7 762.9,652.5 763.1,652.0 763.2,643.8 763.4,652.0 763.6,650.9 763.7,652.7 763.9,650.0 764.1,637.3 764.2,648.3 764.4,653.2 764.6,647.0 764.7,654.4 764.9,653.5 765.1,653.4 765.3,646.8 765.4,654.9 765.6,639.1 765.8,648.0 765.9,650.0 766.1,655.9 766.3,656.8 766.4,659.7 766.6,650.3 766.8,647.9 766.9,642.2 767.1,648.7 767.3,647.1 767.4,659.2 767.6,658.3 767.8,656.1 767.9,647.1 768.1,657.8 768.3,647.3 768.4,644.0 768.6,637.6 768.8,651.0 768.9,648.7 769.1,656.6 769.3,653.8 769.4,646.4 769.6,652.2 769.8,654.6 769.9,658.6 770.1,651.9 770.3,653.6 770.4,652.4 770.6,656.7 770.8,642.4 770.9,645.2 771.1,652.9 771.3,651.7 771.4,646.1 771.6,649.9 771.8,651.9 771.9,646.0 772.1,641.9 772.3,654.7 772.4,657.6 772.6,653.2 772.8,657.5 772.9,656.5 773.1,658.4 773.3,644.4 773.4,644.0 773.6,648.0 773.8,647.7 773.9,648.3 774.1,655.5 774.3,653.9 774.4,658.7 774.6,645.7 774.8,635.5 774.9,640.7 775.1,647.5 775.3,652.2 775.4,654.5 775.6,648.5 775.8,656.1 775.9,643.5 776.1,645.0 776.3,648.2 776.4,655.5 776.6,645.6 776.8,658.0 776.9,645.0 777.1,652.8 777.3,656.1 777.4,649.5 777.6,652.8 777.8,641.4 777.9,646.0 778.1,645.7 778.3,640.9 778.4,654.2 778.6,642.1 778.8,641.8 778.9,649.2 779.1,654.6 779.3,649.8 779.4,640.7 779.6,652.8 779.8,655.2 779.9,648.0 780.1,642.9 780.3,657.1 780.4,659.5 780.6,651.0 780.8,643.2 780.9,648.1 781.1,640.7 781.3,642.0 781.4,648.7 781.6,654.1 781.8,645.2 781.9,639.9 782.1,640.5 782.3,648.9 782.4,634.3 782.6,652.2 782.8,647.7 782.9,647.2 783.1,645.9 783.3,643.4 783.4,647.4 783.6,640.6 783.8,652.6 783.9,648.2 784.1,643.3 784.3,652.9 784.4,657.2 784.6,646.7 784.8,639.9 784.9,644.3 785.1,652.8 785.3,635.8 785.4,651.4 785.6,647.9 785.8,648.2 785.9,646.8 786.1,642.8 786.3,648.6 786.4,650.4 786.6,645.3 786.8,644.0 786.9,648.4 787.1,642.1 787.3,642.4 787.4,639.7 787.6,651.2 787.8,656.4 787.9,647.3 788.1,642.6 788.3,652.4 788.4,640.1 788.6,652.6 788.8,641.0 788.9,642.0 789.1,650.3 789.3,640.2 789.4,652.3 789.6,639.5 789.8,654.5 789.9,643.1 790.1,654.2 790.3,640.6 790.4,642.6 790.6,639.0 790.8,644.7 790.9,652.8 791.1,652.9 791.3,640.2 791.4,649.1 791.6,657.1 791.8,652.5 791.9,654.2 792.1,648.1 792.3,642.3 792.4,647.1 792.6,653.4 792.8,656.2 792.9,655.4 793.1,647.0 793.3,650.3 793.4,649.7 793.6,652.2 793.8,642.0 793.9,647.0 794.1,644.0 794.3,652.5 794.4,644.8 794.6,653.4 794.8,654.3 794.9,640.1 795.1,647.4 795.3,654.1 795.4,639.2 795.6,639.8 795.8,650.1 795.9,648.9 796.1,649.3 796.3,644.5 796.4,641.8 796.6,645.7 796.8,651.4 796.9,650.2 797.1,652.7 797.3,649.9 797.4,653.7 797.6,655.8 797.8,650.3 797.9,650.5 798.1,642.2 798.3,651.0 798.4,656.0 798.6,640.6 798.8,645.2 798.9,639.9 799.1,655.1 799.3,639.1 799.4,637.7 799.6,656.9 799.8,647.7 799.9,639.4 800.1,658.1 800.3,651.5 800.4,640.4 800.6,653.6 800.8,657.1 800.9,653.4 801.1,653.5 801.3,649.5 801.4,641.6 801.6,647.0 801.8,656.7 801.9,653.1 802.1,640.9 802.3,643.1 802.4,650.1 802.6,646.4 802.8,641.6 802.9,645.9 803.1,654.2 803.3,646.9 803.4,656.4 803.6,642.7 803.8,639.3 803.9,640.3 804.1,648.5 804.3,643.0 804.4,644.8 804.6,640.0 804.8,643.4 804.9,650.7 805.1,656.0 805.3,646.7 805.4,647.5 805.6,650.0 805.8,642.3 805.9,651.0 806.1,643.1 806.3,643.5 806.4,652.0 806.6,654.1 806.8,644.8 806.9,650.5 807.1,649.4 807.3,643.5 807.4,640.1 807.6,640.7 807.8,633.4 807.9,661.7 808.1,639.2 808.3,645.8 808.4,640.3 808.6,639.4 808.8,648.1 808.9,656.4 809.1,663.4 809.3,654.1 809.4,653.2 809.6,645.7 809.8,645.6 809.9,646.9 810.1,652.5 810.3,648.4 810.4,633.5 810.6,652.1 810.8,652.0 810.9,637.8 811.1,651.5 811.3,649.1 811.4,646.8 811.6,644.9 811.8,651.0 811.9,643.0 812.1,646.5 812.3,647.9 812.4,652.0 812.6,653.7 812.8,650.7 812.9,650.6 813.1,648.6 813.3,654.7 813.4,641.9 813.6,654.1 813.8,653.6 813.9,654.2 814.1,650.7 814.3,647.9 814.4,646.2 814.6,637.0 814.8,663.1 814.9,650.1 815.1,644.1 815.3,655.5 815.4,656.8 815.6,650.2 815.8,656.3 815.9,643.6 816.1,641.5 816.3,648.9 816.4,641.0 816.6,651.0 816.8,659.4 816.9,647.7 817.1,640.7 817.3,655.4 817.4,654.3 817.6,651.7 817.8,647.1 817.9,650.4 818.1,655.6 818.3,641.2 818.4,652.5 818.6,650.0 818.8,641.3 818.9,651.1 819.1,639.1 819.3,645.2 819.4,640.5 819.6,649.5 819.8,648.0 819.9,654.5 820.1,648.8 820.3,653.1 820.4,648.6 820.6,650.9 820.8,638.6 820.9,641.1 821.1,643.6 821.3,653.6 821.4,641.8 821.6,637.8 821.8,650.2 821.9,648.4 822.1,646.6 822.3,641.9 822.4,646.8 822.6,654.0 822.8,643.0 822.9,650.3 823.1,640.3 823.3,644.2 823.4,644.4 823.6,651.6 823.8,647.1 823.9,643.8 824.1,637.6 824.3,640.8 824.4,642.3 824.6,646.8 824.8,640.4 824.9,639.2 825.1,638.3 825.3,639.3 825.4,645.3 825.6,629.9 825.8,646.1 825.9,641.9 826.1,635.6 826.3,637.9 826.4,643.6 826.6,641.4 826.8,651.4 826.9,643.6 827.1,639.9 827.3,641.5 827.4,653.6 827.6,631.0 827.8,639.3 827.9,645.3 828.1,651.3 828.3,647.0 828.4,638.5 828.6,635.5 828.8,652.9 828.9,648.7 829.1,635.1 829.3,639.7 829.4,643.8 829.6,652.0 829.8,658.0 829.9,650.6 830.1,641.0 830.3,635.2 830.4,634.3 830.6,647.8 830.8,639.2 830.9,639.7 831.1,642.2 831.3,636.4 831.4,644.6 831.6,641.7 831.8,634.5 831.9,648.1 832.1,651.2 832.3,637.1 832.4,646.6 832.6,640.2 832.8,633.8 832.9,644.4 833.1,639.5 833.3,654.9 833.4,651.4 833.6,644.3 833.8,637.5 833.9,650.3 834.1,646.8 834.3,641.6 834.4,654.1 834.6,641.9 834.8,650.2 834.9,649.9 835.1,640.8 835.3,642.4 835.4,651.8 835.6,656.5 835.8,646.9 835.9,640.5 836.1,634.7 836.3,626.9 836.4,637.3 836.6,642.8 836.8,650.6 836.9,640.7 837.1,633.4 837.3,644.1 837.4,642.0 837.6,649.6 837.8,636.7 837.9,638.3 838.1,640.4 838.3,646.7 838.4,642.7 838.6,638.6 838.8,638.8 838.9,634.0 839.1,642.7 839.3,640.8 839.4,642.2 839.6,640.6 839.8,636.2 839.9,633.2 840.1,648.6 840.3,643.0 840.4,647.0 840.6,640.2 840.8,649.5 840.9,633.4 841.1,633.2 841.3,635.9 841.4,644.0 841.6,648.8 841.8,635.3 841.9,638.4 842.1,631.4 842.3,646.5 842.4,638.0 842.6,636.7 842.8,642.6 842.9,631.6 843.1,649.9 843.3,636.3 843.4,629.3 843.6,642.8 843.8,636.1 843.9,635.2 844.1,632.5 844.3,640.5 844.4,633.1 844.6,643.5 844.8,634.6 844.9,630.9 845.1,631.1 845.3,632.8 845.4,639.6 845.6,631.9 845.8,648.6 845.9,643.9 846.1,647.2 846.3,633.1 846.4,648.7 846.6,637.4 846.8,633.9 846.9,652.5 847.1,654.1 847.3,643.5 847.4,641.0 847.6,636.9 847.8,630.4 847.9,646.6 848.1,639.1 848.3,639.6 848.4,646.5 848.6,647.7 848.8,646.0 848.9,635.8 849.1,633.8 849.3,644.9 849.4,647.0 849.6,635.0 849.8,644.7 849.9,648.5 850.1,632.8 850.3,643.6 850.4,625.9 850.6,637.2 850.8,640.0 850.9,644.9 851.1,645.5 851.3,632.3 851.4,641.7 851.6,632.1 851.8,640.4 851.9,645.0 852.1,648.3 852.3,646.5 852.4,636.8 852.6,645.1 852.8,646.4 852.9,645.9 853.1,642.7 853.3,647.6 853.4,640.0 853.6,629.9 853.8,622.8 853.9,631.7 854.1,644.3 854.3,628.9 854.4,635.9 854.6,638.7 854.8,638.9 854.9,643.1 855.1,629.6 855.3,636.4 855.4,638.9 855.6,635.9 855.8,644.1 855.9,631.8 856.1,633.3 856.3,652.0 856.4,645.0 856.6,635.0 856.8,637.6 856.9,629.6 857.1,640.2 857.3,640.0 857.4,638.8 857.6,640.9 857.8,631.7 857.9,632.6 858.1,627.8 858.3,637.9 858.4,644.2 858.6,630.0 858.8,629.1 858.9,636.2 859.1,646.4 859.3,630.6 859.4,640.5 859.6,635.2 859.8,635.2 859.9,638.7 860.1,636.8 860.3,638.5 860.4,641.9 860.6,636.2 860.8,629.2 860.9,630.8 861.1,638.3 861.3,643.7 861.4,645.8 861.6,635.9 861.8,638.0 861.9,638.3 862.1,624.4 862.3,633.9 862.4,637.5 862.6,644.6 862.8,628.1 862.9,644.3 863.1,641.1 863.3,632.2 863.4,635.1 863.6,625.2 863.8,645.5 863.9,636.9 864.1,634.5 864.3,638.8 864.4,631.2 864.6,633.2 864.8,634.4 864.9,636.0 865.1,644.0 865.3,627.2 865.4,639.0 865.6,635.9 865.8,638.6 865.9,631.7 866.1,631.4 866.3,642.7 866.4,638.4 866.6,633.4 866.8,638.5 866.9,640.4 867.1,636.5 867.3,651.0 867.4,628.2 867.6,632.3 867.8,637.4 867.9,636.0 868.1,637.5 868.3,639.5 868.4,641.5 868.6,637.8 868.8,626.9 868.9,638.6 869.1,644.0 869.3,634.8 869.4,644.1 869.6,630.1 869.8,632.2 869.9,627.7 870.1,642.6 870.3,636.3 870.4,643.3 870.6,638.6 870.8,635.3 870.9,643.4 871.1,641.2 871.3,629.4 871.4,632.9 871.6,631.8 871.8,632.2 871.9,633.9 872.1,628.2 872.3,635.9 872.4,639.0 872.6,628.7 872.8,636.1 872.9,630.4 873.1,632.5 873.3,641.2 873.4,635.0 873.6,626.8 873.8,626.9 873.9,638.5 874.1,638.0 874.3,637.2 874.4,642.6 874.6,641.1 874.8,631.7 874.9,640.4 875.1,640.8 875.3,632.0 875.4,634.0 875.6,641.5 875.8,632.0 875.9,635.0 876.1,633.5 876.3,633.6 876.4,634.5 876.6,638.5 876.8,629.0 876.9,628.2 877.1,631.9 877.3,638.5 877.4,648.5 877.6,629.2 877.8,623.5 877.9,624.1 878.1,634.8 878.3,642.7 878.4,623.6 878.6,627.9 878.8,637.7 878.9,640.5 879.1,627.6 879.3,633.5 879.4,629.1 879.6,623.6 879.8,627.1 879.9,641.4 880.1,629.3 880.3,627.8 880.4,635.5 880.6,636.6 880.8,622.6 880.9,623.0 881.1,640.0 881.3,632.5 881.4,633.7 881.6,620.4 881.8,639.9 881.9,632.5 882.1,628.3 882.3,623.8 882.4,623.7 882.6,630.7 882.8,627.8 882.9,616.3 883.1,639.7 883.3,632.9 883.4,640.7 883.6,632.6 883.8,631.0 883.9,630.8 884.1,623.5 884.3,622.5 884.4,623.8 884.6,633.5 884.8,627.2 884.9,627.5 885.1,627.7 885.3,634.5 885.4,632.3 885.6,626.8 885.8,628.7 885.9,627.0 886.1,634.3 886.3,630.9 886.4,638.7 886.6,638.5 886.8,642.8 886.9,629.3 887.1,621.6 887.3,633.2 887.4,634.2 887.6,628.6 887.8,635.4 887.9,625.7 888.1,640.3 888.3,623.1 888.4,639.2 888.6,638.3 888.8,623.8 888.9,635.4 889.1,621.4 889.3,624.5 889.4,629.2 889.6,620.9 889.8,630.3 889.9,630.4 890.1,629.9 890.3,633.5 890.4,631.6 890.6,625.4 890.8,622.9 890.9,638.9 891.1,623.4 891.3,627.3 891.4,627.6 891.6,632.7 891.8,629.1 891.9,638.3 892.1,632.3 892.3,639.0 892.4,625.0 892.6,622.7 892.8,629.5 892.9,624.5 893.1,637.0 893.3,635.1 893.4,628.3 893.6,626.4 893.8,629.0 893.9,626.3 894.1,622.1 894.3,624.8 894.4,629.0 894.6,638.2 894.8,640.3 894.9,637.2 895.1,625.7 895.3,627.9 895.4,623.5 895.6,635.2 895.8,630.6 895.9,631.3 896.1,629.2 896.3,646.3 896.4,629.6 896.6,615.5 896.8,628.2 896.9,634.3 897.1,641.2 897.3,638.3 897.4,635.5 897.6,636.4 897.8,634.8 897.9,636.4 898.1,636.3 898.3,631.6 898.4,631.3 898.6,632.1 898.8,625.0 898.9,638.4 899.1,639.0 899.3,629.1 899.4,633.4 899.6,625.1 899.8,639.8 899.9,629.3 900.1,640.3 900.3,625.1 900.4,618.6 900.6,632.7 900.8,640.6 900.9,626.8 901.1,631.8 901.3,631.8 901.4,623.7 901.6,639.1 901.8,626.3 901.9,641.3 902.1,626.0 902.3,640.3 902.4,637.2 902.6,641.2 902.8,641.6 902.9,637.6 903.1,623.7 903.3,628.1 903.4,622.4 903.6,636.4 903.8,624.1 903.9,629.3 904.1,638.6 904.3,636.4 904.4,629.7 904.6,638.4 904.8,634.1 904.9,629.7 905.1,632.7 905.3,638.9 905.4,632.1 905.6,633.5 905.8,639.0 905.9,633.8 906.1,630.4 906.3,639.6 906.4,639.9 906.6,642.2 906.8,642.9 906.9,643.0 907.1,634.3 907.3,635.1 907.4,637.4 907.6,634.7 907.8,626.5 907.9,629.6 908.1,632.4 908.3,630.7 908.4,626.1 908.6,631.8 908.8,625.8 908.9,643.6 909.1,629.2 909.3,631.9 909.4,628.2 909.6,643.4 909.8,644.0 909.9,623.2 910.1,635.3 910.3,632.2 910.4,634.0 910.6,633.8 910.8,632.7 910.9,635.4 911.1,631.0 911.3,637.3 911.4,642.7 911.6,626.2 911.8,626.7 911.9,628.5 912.1,628.0 912.3,628.5 912.4,628.6 912.6,625.9 912.8,643.7 912.9,631.1 913.1,635.1 913.3,637.8 913.4,643.0 913.6,643.1 913.8,640.2 913.9,629.0 914.1,642.0 914.3,625.5 914.4,627.8 914.6,643.6 914.8,641.7 914.9,641.1 915.1,636.4 915.3,639.6 915.4,638.6 915.6,630.0 915.8,628.2 915.9,627.4 916.1,628.7 916.3,644.9 916.4,635.2 916.6,630.4 916.8,637.6 916.9,628.7 917.1,640.1 917.3,631.1 917.4,630.7 917.6,636.7 917.8,628.3 917.9,630.8 918.1,628.7 918.3,626.6 918.4,622.5 918.6,625.6 918.8,638.0 918.9,642.0 919.1,635.8 919.3,629.0 919.4,630.7 919.6,625.8 919.8,642.1 919.9,625.7 920.1,642.0 920.3,634.0 920.4,644.0 920.6,650.2 920.8,631.8 920.9,629.5 921.1,626.2 921.3,647.2 921.4,639.1 921.6,643.9 921.8,635.3 921.9,636.7 922.1,628.8 922.3,638.0 922.4,645.3 922.6,640.3 922.8,632.6 922.9,630.6 923.1,648.6 923.3,630.9 923.4,642.8 923.6,636.8 923.8,630.4 923.9,629.1 924.1,638.3 924.3,634.7 924.4,628.8 924.6,628.7 924.8,635.3 924.9,627.6 925.1,635.0 925.3,629.0 925.4,636.9 925.6,647.9 925.8,636.0 925.9,631.1 926.1,639.5 926.3,631.0 926.4,645.6 926.6,639.6 926.8,644.6 926.9,635.8 927.1,634.3 927.3,629.8 927.4,627.8 927.6,632.4 927.8,632.0 927.9,634.0 928.1,626.4 928.3,626.9 928.4,632.1 928.6,628.6 928.8,631.6 928.9,632.0 929.1,632.7 929.3,626.3 929.4,631.6 929.6,642.8 929.8,638.7 929.9,627.0 930.1,635.9 930.3,642.6 930.4,629.2 930.6,634.1 930.8,629.3 930.9,645.7 931.1,626.0 931.3,630.0 931.4,645.1 931.6,639.2 931.8,626.2 931.9,632.4 932.1,636.7 932.3,626.8 932.4,628.7 932.6,644.0 932.8,638.9 932.9,645.6 933.1,634.0 933.3,646.0 933.4,626.6 933.6,645.9 933.8,630.0 933.9,629.0 934.1,632.8 934.3,643.6 934.4,627.4 934.6,640.6 934.8,635.2 934.9,632.2 935.1,630.2 935.3,649.3 935.4,638.6 935.6,628.2 935.8,642.5 935.9,641.2 936.1,634.3 936.3,630.4 936.4,639.5 936.6,639.4 936.8,638.2" stroke="#ff0000" stroke-width="1" fill="none" shape-rendering="crispEdges"/>
<polyline points="937.2,671.7 937.4,671.2 937.5,674.4 937.7,674.0 937.9,669.0 938.0,666.6 938.2,669.1 938.4,678.8 938.5,677.9 938.7,671.2 938.9,673.9 939.0,667.9 939.2,668.4 939.4,669.7 939.5,674.1 939.7,670.6 939.9,665.1 940.0,677.9 940.2,668.0 940.4,669.1 940.5,665.5 940.7,675.4 940.9,677.1 941.0,678.3 941.2,676.4 941.4,673.7 941.5,664.8 941.7,668.0 941.9,670.0 942.0,674.4 942.2,669.3 942.4,678.8 942.5,674.3 942.7,661.6 942.9,666.0 943.0,666.3 943.2,673.9 943.4,679.8 943.5,678.8 943.7,666.8 943.9,668.3 944.0,664.6 944.2,678.3 944.4,666.7 944.5,665.1 944.7,675.5 944.9,665.1 945.0,667.5 945.2,678.4 945.4,666.0 945.5,670.7 945.7,666.2 945.9,677.1 946.0,677.8 946.2,667.6 946.4,674.5 946.5,674.0 946.7,673.8 946.9,669.1 947.0,666.3 947.2,679.4 947.4,672.0 947.5,671.6 947.7,672.0 947.9,665.7 948.0,674.5 948.2,669.2 948.4,676.6 948.5,665.2 948.7,667.0 948.9,670.5 949.0,667.8 949.2,675.3 949.4,667.8 949.5,673.9 949.7,678.1 949.9,673.9 950.0,678.9 950.2,667.8 950.4,677.2 950.5,678.9 950.7,674.1 950.9,678.3 951.0,673.7 951.2,672.2 951.4,673.2 951.5,675.2 951.7,678.1 951.9,664.8 952.0,669.1 952.2,659.9 952.4,674.4 952.5,675.9 952.7,678.8 952.9,667.5 953.0,667.2 953.2,665.6 953.4,666.7 953.5,676.2 953.7,670.8 953.9,666.2 954.0,675.6 954.2,666.3 954.4,667.4 954.5,670.1 954.7,667.3 954.9,678.8 955.0,676.3 955.2,670.7 955.4,672.8 955.5,679.5 955.7,674.3 955.9,679.0 956.0,665.3 956.2,670.5 956.4,659.9 956.5,679.1 956.7,677.8 956.9,673.2 957.0,679.1 957.2,677.2 957.4,678.1 957.5,672.6 957.7,677.1 957.9,673.7 958.0,669.0 958.2,670.9 958.4,673.7 958.5,665.7 958.7,678.4 958.9,668.9 959.0,678.9 959.2,675.4 959.4,676.8 959.5,671.6 959.7,678.9 959.9,664.8 960.0,678.0 960.2,678.9 960.4,677.2 960.5,679.1 960.7,664.6 960.9,665.8 961.0,679.1 961.2,678.0 961.4,662.3 961.5,677.2 961.7,678.5 961.9,672.7 962.0,670.9 962.2,676.0 962.4,667.7 962.5,665.2 962.7,664.6 962.9,666.1 963.0,668.7 963.2,672.2 963.4,664.7 963.5,668.5 963.7,666.5 963.9,672.0 964.0,666.3 964.2,669.3 964.4,667.5 964.5,679.2 964.7,678.2 964.9,678.8 965.0,674.4 965.2,668.8 965.4,680.3 965.5,677.0 965.7,676.8 965.9,669.9 966.0,673.0 966.2,665.1 966.4,668.3 966.5,671.1 966.7,672.9 966.9,672.9 967.0,665.5 967.2,670.4 967.4,668.8 967.5,672.6 967.7,671.3 967.9,675.9 968.0,671.2 968.2,679.2 968.4,674.5 968.5,671.5 968.7,668.2 968.9,668.3 969.0,674.1 969.2,673.9 969.4,674.1 969.5,677.4 969.7,672.0 969.9,672.1 970.0,668.8 970.2,673.0 970.4,668.9 970.5,666.7 970.7,666.3 970.9,674.7 971.0,669.2 971.2,676.2 971.4,678.6 971.5,670.5 971.7,670.2 971.9,669.8 972.0,675.1 972.2,680.0 972.4,666.7 972.5,666.5 972.7,679.7 972.9,676.4 973.0,678.8 973.2,667.6 973.4,676.4 973.5,673.3 973.7,671.7 973.9,666.7 974.0,676.6 974.2,678.0 974.4,661.2 974.5,679.9 974.7,675.9 974.9,675.5 975.0,667.5 975.2,672.0 975.4,673.9 975.5,676.0 975.7,671.4 975.9,674.1 976.0,673.6 976.2,669.9 976.4,670.6 976.5,671.8 976.7,667.5 976.9,679.5 977.0,662.3 977.2,668.4 977.4,666.4 977.5,673.6 977.7,673.3 977.9,675.5 978.0,677.6 978.2,681.6 978.4,679.5 978.5,666.9 978.7,670.7 978.9,676.9 979.0,663.6 979.2,669.7 979.4,675.9 979.5,678.2 979.7,669.2 979.9,678.8 980.0,670.4 980.2,680.1 980.4,676.6 980.5,675.0 980.7,670.2 980.9,668.0 981.0,666.5 981.2,675.6 981.4,673.8 981.5,667.5 981.7,671.3 981.9,678.4 982.0,668.5 982.2,670.1 982.4,667.0 982.5,678.2 982.7,680.8 982.9,675.5 983.0,672.4 983.2,684.3 983.4,670.1 983.5,673.5 983.7,673.4 983.9,667.6 984.0,674.7 984.2,680.6 984.4,673.2 984.5,685.5 984.7,665.9 984.9,665.8 985.0,678.9 985.2,676.5 985.4,671.3 985.5,670.0 985.7,677.4 985.9,669.5 986.0,668.7 986.2,675.9 986.4,673.0 986.5,669.7 986.7,671.0 986.9,677.6 987.0,671.1 987.2,669.9 987.4,675.2 987.5,669.8 987.7,668.8 987.9,667.6 988.0,676.6 988.2,666.8 988.4,667.9 988.5,674.2 988.7,666.6 988.9,666.8 989.0,678.1 989.2,670.2 989.4,675.9 989.5,676.5 989.7,676.0 989.9,668.0 990.0,665.4 990.2,677.7 990.4,667.2 990.5,666.1 990.7,666.6 990.9,673.1 991.0,664.7 991.2,676.5 991.4,664.6 991.5,672.8 991.7,671.3 991.9,667.7 992.0,672.8 992.2,667.7 992.4,676.4 992.5,666.9 992.7,664.3 992.9,668.4 993.0,664.4 993.2,673.5 993.4,664.9 993.5,667.3 993.7,666.6 993.9,671.1 994.0,663.4 994.2,674.3 994.4,668.3 994.5,679.0 994.7,666.6 994.9,668.8 995.0,674.3 995.2,668.1 995.4,665.5 995.5,670.2 995.7,667.6 995.9,667.8 996.0,666.3 996.2,678.5 996.4,669.9 996.5,671.6 996.7,671.0 996.9,669.1 997.0,672.1 997.2,677.6 997.4,670.1 997.5,676.4 997.7,667.9 997.9,677.8 998.0,673.4 998.2,671.2 998.4,668.6 998.5,667.7 998.7,673.5 998.9,666.7 999.0,682.5 999.2,674.7 999.4,676.0 999.5,674.5 999.7,670.3 999.9,663.7 1000.0,677.2 1000.2,673.9 1000.4,676.8 1000.5,666.6 1000.7,672.7 1000.9,673.3 1001.0,676.2 1001.2,666.2 1001.4,674.9 1001.5,676.9 1001.7,676.4 1001.9,674.0 1002.0,680.4 1002.2,668.1 1002.4,672.1 1002.5,664.5 1002.7,662.8 1002.9,677.7 1003.0,671.7 1003.2,667.5 1003.4,668.0 1003.5,677.9 1003.7,674.8 1003.9,663.5 1004.0,660.0 1004.2,675.1 1004.4,670.7 1004.5,671.3 1004.7,663.3 1004.9,682.4 1005.0,662.3 1005.2,672.3 1005.4,669.7 1005.5,663.6 1005.7,666.4 1005.9,666.4 1006.0,664.3 1006.2,672.9 1006.4,663.4 1006.5,677.6 1006.7,670.3 1006.9,666.0 1007.0,666.9 1007.2,671.7 1007.4,674.0 1007.5,672.4 1007.7,666.3 1007.9,671.7 1008.0,677.2 1008.2,669.9 1008.4,675.0 1008.5,673.1 1008.7,675.8 1008.9,666.3 1009.0,673.2 1009.2,669.6 1009.4,668.9 1009.5,673.1 1009.7,656.7 1009.9,667.9 1010.0,664.2 1010.2,662.1 1010.4,674.9 1010.5,668.8 1010.7,670.0 1010.9,661.6 1011.0,671.5 1011.2,674.7 1011.4,668.6 1011.5,662.3 1011.7,670.3 1011.9,676.3 1012.0,673.0 1012.2,671.0 1012.4,670.3 1012.5,666.7 1012.7,665.4 1012.9,668.9 1013.0,665.5 1013.2,670.8 1013.4,672.8 1013.5,661.1 1013.7,674.9 1013.9,661.8 1014.0,663.0 1014.2,672.1 1014.4,675.8 1014.5,660.6 1014.7,660.7 1014.9,667.1 1015.0,669.3 1015.2,665.8 1015.4,674.7 1015.5,673.0 1015.7,662.0 1015.9,666.7 1016.0,668.1 1016.2,660.9 1016.4,668.2 1016.5,662.1 1016.7,665.5 1016.9,670.1 1017.0,672.6 1017.2,669.2 1017.4,670.7 1017.5,660.9 1017.7,675.3 1017.9,657.3 1018.0,663.2 1018.2,668.7 1018.4,669.2 1018.5,674.6 1018.7,673.3 1018.9,659.9 1019.0,660.4 1019.2,668.5 1019.4,671.9 1019.5,665.2 1019.7,667.9 1019.9,664.4 1020.0,672.3 1020.2,664.8 1020.4,665.9 1020.5,664.8 1020.7,672.7 1020.9,668.2 1021.0,661.1 1021.2,659.6 1021.4,664.6 1021.5,668.9 1021.7,660.7 1021.9,663.3 1022.0,661.3 1022.2,659.5 1022.4,661.7 1022.5,676.8 1022.7,665.7 1022.9,664.4 1023.0,672.5 1023.2,657.7 1023.4,669.0 1023.5,661.9 1023.7,659.6 1023.9,658.7 1024.0,665.5 1024.2,662.2 1024.4,667.0 1024.5,670.1 1024.7,664.6 1024.9,659.3 1025.0,666.4 1025.2,663.4 1025.4,667.7 1025.5,673.7 1025.7,664.8 1025.9,664.0 1026.0,664.0 1026.2,662.1 1026.4,667.2 1026.5,672.8 1026.7,670.0 1026.9,665.1 1027.0,665.9 1027.2,672.5 1027.4,666.5 1027.5,670.6 1027.7,661.3 1027.9,663.9 1028.0,652.9 1028.2,662.2 1028.4,666.9 1028.5,678.0 1028.7,672.9 1028.9,661.3 1029.0,658.9 1029.2,652.7 1029.4,658.0 1029.5,667.9 1029.7,658.7 1029.9,672.9 1030.0,672.8 1030.2,671.9 1030.4,666.0 1030.5,672.3 1030.7,664.2 1030.9,657.3 1031.0,658.3 1031.2,662.2 1031.4,667.2 1031.5,666.2 1031.7,657.2 1031.9,661.5 1032.0,663.7 1032.2,664.2 1032.4,666.0 1032.5,654.2 1032.7,669.5 1032.9,668.3 1033.0,663.8 1033.2,651.7 1033.4,657.1 1033.5,671.5 1033.7,661.5 1033.9,668.9 1034.0,663.7 1034.2,657.0 1034.4,658.5 1034.5,663.8 1034.7,666.5 1034.9,659.9 1035.0,663.1 1035.2,665.9 1035.4,651.0 1035.5,658.7 1035.7,661.7 1035.9,666.5 1036.0,671.0 1036.2,670.2 1036.4,659.8 1036.5,662.3 1036.7,656.1 1036.9,665.2 1037.0,660.0 1037.2,665.3 1037.4,669.7 1037.5,665.2 1037.7,655.2 1037.9,669.6 1038.0,666.5 1038.2,655.6 1038.4,659.7 1038.5,663.1 1038.7,663.3 1038.9,661.2 1039.0,666.0 1039.2,657.9 1039.4,657.3 1039.5,669.6 1039.7,664.2 1039.9,666.8 1040.0,657.2 1040.2,659.9 1040.4,658.8 1040.5,654.6 1040.7,664.2 1040.9,664.3 1041.0,655.1 1041.2,668.9 1041.4,665.1 1041.5,661.6 1041.7,654.0 1041.9,657.1 1042.0,664.9 1042.2,658.9 1042.4,668.0 1042.5,660.7 1042.7,654.5 1042.9,661.5 1043.0,665.4 1043.2,659.8 1043.4,666.1 1043.5,657.0 1043.7,667.1 1043.9,648.2 1044.0,657.9 1044.2,657.9 1044.4,660.2 1044.5,661.4 1044.7,662.6 1044.9,666.4 1045.0,654.5 1045.2,669.8 1045.4,662.7 1045.5,663.7 1045.7,661.8 1045.9,657.4 1046.0,660.2 1046.2,663.5 1046.4,652.5 1046.5,655.1 1046.7,659.4 1046.9,658.0 1047.0,665.3 1047.2,654.1 1047.4,648.9 1047.5,665.4 1047.7,665.0 1047.9,664.5 1048.0,665.5 1048.2,672.3 1048.4,650.8 1048.5,657.8 1048.7,657.6 1048.9,665.4 1049.0,662.9 1049.2,653.1 1049.4,662.0 1049.5,665.9 1049.7,652.4 1049.9,662.0 1050.0,652.7 1050.2,657.4 1050.4,654.9 1050.5,664.9 1050.7,666.1 1050.9,665.9 1051.0,652.2 1051.2,655.2 1051.4,665.4 1051.5,663.3 1051.7,656.9 1051.9,665.8 1052.0,663.2 1052.2,655.9 1052.4,662.8 1052.5,651.0 1052.7,654.9 1052.9,664.7 1053.0,655.4 1053.2,654.9 1053.4,661.7 1053.5,662.4 1053.7,661.7 1053.9,657.9 1054.0,660.4 1054.2,652.6 1054.4,660.6 1054.5,664.4 1054.7,654.9 1054.9,652.8 1055.0,665.4 1055.2,663.9 1055.4,671.0 1055.5,650.8 1055.7,663.9 1055.9,655.2 1056.0,658.8 1056.2,666.1 1056.4,664.5 1056.5,657.2 1056.7,657.6 1056.9,662.5 1057.0,664.2 1057.2,658.5 1057.4,661.7 1057.5,663.7 1057.7,652.3 1057.9,649.5 1058.0,665.1 1058.2,650.0 1058.4,659.2 1058.5,654.9 1058.7,658.3 1058.9,670.6 1059.0,651.4 1059.2,664.1 1059.4,663.0 1059.5,664.8 1059.7,664.0 1059.9,647.2 1060.0,655.9 1060.2,649.8 1060.4,655.8 1060.5,653.1 1060.7,659.1 1060.9,650.0 1061.0,663.9 1061.2,661.2 1061.4,657.7 1061.5,658.6 1061.7,655.6 1061.9,657.0 1062.0,650.6 1062.2,645.3 1062.4,653.3 1062.5,656.8 1062.7,651.2 1062.9,656.7 1063.0,663.4 1063.2,658.0 1063.4,652.4 1063.5,666.3 1063.7,653.6 1063.9,660.4 1064.0,660.4 1064.2,652.2 1064.4,663.8 1064.5,660.3 1064.7,661.8 1064.9,663.6 1065.0,664.7 1065.2,650.4 1065.4,652.3 1065.5,649.7 1065.7,664.9 1065.9,650.1 1066.0,669.3 1066.2,657.3 1066.4,660.5 1066.5,651.6 1066.7,656.3 1066.9,659.8 1067.0,659.9 1067.2,651.2 1067.4,662.1 1067.5,659.4 1067.7,652.8 1067.9,649.5 1068.0,650.8 1068.2,660.6 1068.4,651.7 1068.5,664.3 1068.7,659.1 1068.9,650.1 1069.0,663.2 1069.2,655.1 1069.4,657.6 1069.5,663.7 1069.7,652.8 1069.9,655.8 1070.0,649.6 1070.2,657.1 1070.4,642.9 1070.5,651.4 1070.7,655.6 1070.9,657.9 1071.0,658.5 1071.2,649.6 1071.4,648.5 1071.5,667.4 1071.7,649.3 1071.9,648.6 1072.0,658.0 1072.2,652.6 1072.4,658.1 1072.5,661.4 1072.7,658.2 1072.9,658.5 1073.0,648.1 1073.2,661.9 1073.4,661.1 1073.5,647.9 1073.7,661.9 1073.9,648.0 1074.0,654.7 1074.2,654.7 1074.4,645.0 1074.5,653.5 1074.7,656.6 1074.9,648.5 1075.0,650.0 1075.2,658.7 1075.4,663.8 1075.5,648.4 1075.7,658.6 1075.9,661.3 1076.0,663.0 1076.2,658.3 1076.4,648.8 1076.5,652.1 1076.7,656.1 1076.9,663.6 1077.0,652.0 1077.2,658.0 1077.4,663.7 1077.5,655.9 1077.7,657.1 1077.9,646.8 1078.0,660.5 1078.2,659.8 1078.4,654.2 1078.5,646.9 1078.7,650.9 1078.9,653.5 1079.0,666.9 1079.2,650.6 1079.4,654.9 1079.5,648.2 1079.7,654.7 1079.9,654.4 1080.0,662.1 1080.2,661.0 1080.4,654.1 1080.5,651.4 1080.7,646.7 1080.9,660.3 1081.0,661.6 1081.2,653.1 1081.4,648.0 1081.5,658.4 1081.7,656.0 1081.9,654.4 1082.0,650.8 1082.2,656.5 1082.4,649.0 1082.5,648.3 1082.7,648.2 1082.9,651.7 1083.0,650.9 1083.2,642.6 1083.4,647.8 1083.5,644.8 1083.7,649.6 1083.9,658.0 1084.0,658.4 1084.2,647.2 1084.4,645.8 1084.5,647.2 1084.7,647.4 1084.9,646.4 1085.0,647.8 1085.2,652.5 1085.4,653.9 1085.5,643.6 1085.7,654.8 1085.9,651.9 1086.0,643.7 1086.2,651.6 1086.4,654.3 1086.5,646.7 1086.7,643.3 1086.9,644.1 1087.0,655.3 1087.2,645.2 1087.4,647.6 1087.5,643.1 1087.7,645.0 1087.9,651.6 1088.0,656.6 1088.2,651.7 1088.4,653.4 1088.5,634.0 1088.7,642.0 1088.9,643.4 1089.0,655.8 1089.2,648.7 1089.4,648.3 1089.5,642.9 1089.7,643.8 1089.9,640.5 1090.0,652.7 1090.2,649.0 1090.4,648.8 1090.5,649.5 1090.7,643.0 1090.9,642.6 1091.0,652.9 1091.2,654.4 1091.4,641.6 1091.5,646.8 1091.7,660.3 1091.9,653.3 1092.0,656.9 1092.2,647.7 1092.4,650.3 1092.5,645.4 1092.7,651.6 1092.9,641.7 1093.0,646.1 1093.2,647.1 1093.4,645.9 1093.5,645.5 1093.7,640.2 1093.9,638.8 1094.0,648.3 1094.2,651.7 1094.4,642.2 1094.5,634.0 1094.7,643.9 1094.9,633.0 1095.0,648.7 1095.2,641.6 1095.4,639.0 1095.5,644.7 1095.7,637.9 1095.9,629.6 1096.0,635.9 1096.2,643.7 1096.4,636.6 1096.5,637.1 1096.7,634.7 1096.9,637.5 1097.0,634.8 1097.2,633.0 1097.4,628.6 1097.5,647.3 1097.7,634.3 1097.9,636.7 1098.0,635.4 1098.2,635.4 1098.4,625.0 1098.5,623.6 1098.7,624.8 1098.9,635.4 1099.0,630.1 1099.2,625.6 1099.4,625.5 1099.5,631.8 1099.7,640.7 1099.9,631.8 1100.0,631.7 1100.2,616.8 1100.4,613.6 1100.5,619.4 1100.7,616.1 1100.9,617.7 1101.0,620.3 1101.2,618.1 1101.4,627.2 1101.5,614.5 1101.7,618.9 1101.9,620.6 1102.0,617.4 1102.2,617.1 1102.4,613.6 1102.5,607.3 1102.7,602.9 1102.9,608.6 1103.0,622.2 1103.2,617.6 1103.4,607.1 1103.5,602.9 1103.7,610.1 1103.9,601.9 1104.0,604.0 1104.2,600.4 1104.4,623.8 1104.5,612.6 1104.7,611.9 1104.9,600.9 1105.0,601.8 1105.2,608.5 1105.4,596.4 1105.5,604.3 1105.7,605.0 1105.9,611.2 1106.0,594.4 1106.2,612.3 1106.4,597.4 1106.5,599.3 1106.7,592.7 1106.9,605.9 1107.0,602.5 1107.2,595.0 1107.4,591.3 1107.5,600.3 1107.7,588.2 1107.9,596.3 1108.0,585.6 1108.2,601.4 1108.4,593.6 1108.5,600.6 1108.7,593.2 1108.9,588.4 1109.0,590.3 1109.2,599.5 1109.4,599.9 1109.5,583.0 1109.7,584.1 1109.9,596.7 1110.0,598.7 1110.2,579.7 1110.4,580.0 1110.5,594.5 1110.7,587.7 1110.9,595.1 1111.0,596.7 1111.2,583.4 1111.4,586.1 1111.5,589.4 1111.7,593.7 1111.9,588.4 1112.0,594.5 1112.2,584.9 1112.4,575.2 1112.5,599.3 1112.7,577.3 1112.9,586.2 1113.0,574.5 1113.2,587.8 1113.4,591.1 1113.5,583.6 1113.7,578.9 1113.9,576.3 1114.0,576.1 1114.2,581.8 1114.4,588.5 1114.5,589.5 1114.7,584.5 1114.9,581.6 1115.0,588.0 1115.2,581.7 1115.4,575.4 1115.5,580.7 1115.7,588.1 1115.9,585.7 1116.0,594.7 1116.2,578.2 1116.4,570.0 1116.5,591.3 1116.7,577.7 1116.9,576.6 1117.0,595.2 1117.2,578.8 1117.4,596.3 1117.5,594.2 1117.7,578.9 1117.9,592.2 1118.0,584.6 1118.2,584.3 1118.4,580.7 1118.5,582.0 1118.7,593.2 1118.9,583.1 1119.0,597.5 1119.2,585.7 1119.4,583.0 1119.5,583.6 1119.7,591.7 1119.9,588.8 1120.0,586.7 1120.2,599.0 1120.4,595.5 1120.5,592.3 1120.7,577.1 1120.9,586.6 1121.0,602.2 1121.2,604.7 1121.4,604.8 1121.5,607.3 1121.7,588.7 1121.9,593.4 1122.0,611.9 1122.2,602.7 1122.4,592.8 1122.5,594.3 1122.7,599.3 1122.9,592.4 1123.0,606.8 1123.2,609.6 1123.4,594.7 1123.5,610.8 1123.7,611.9 1123.9,608.8 1124.0,597.6 1124.2,607.5 1124.4,597.0 1124.5,609.3 1124.7,597.8 1124.9,608.0 1125.0,597.1 1125.2,617.1 1125.4,602.5 1125.5,609.3 1125.7,620.4 1125.9,605.3 1126.0,615.1 1126.2,604.5 1126.4,615.0 1126.5,601.3 1126.7,599.8 1126.9,602.2 1127.0,619.3 1127.2,613.1 1127.4,609.1 1127.5,602.8 1127.7,614.1 1127.9,602.7 1128.0,616.4 1128.2,608.0 1128.4,594.5 1128.5,614.4 1128.7,609.4 1128.9,619.5 1129.0,610.2 1129.2,607.5 1129.4,621.2 1129.5,602.1 1129.7,612.2 1129.9,606.4 1130.0,619.4 1130.2,607.2 1130.4,606.2 1130.5,617.8 1130.7,619.3 1130.9,620.3 1131.0,615.0 1131.2,618.8 1131.4,606.1 1131.5,604.3 1131.7,622.7 1131.9,609.3 1132.0,622.9 1132.2,623.9 1132.4,608.0 1132.5,604.6 1132.7,615.6 1132.9,617.7 1133.0,612.6 1133.2,622.2 1133.4,616.1 1133.5,614.5 1133.7,602.2 1133.9,612.0 1134.0,625.8 1134.2,622.2 1134.4,615.7 1134.5,620.0 1134.7,612.7 1134.9,621.0 1135.0,625.4 1135.2,617.6 1135.4,614.5 1135.5,608.4 1135.7,614.3 1135.9,624.7 1136.0,623.2 1136.2,616.0 1136.4,608.4 1136.5,611.3 1136.7,609.1 1136.9,617.2 1137.0,613.7 1137.2,610.0 1137.4,607.3 1137.5,611.4 1137.7,620.0 1137.9,620.0 1138.0,616.0 1138.2,612.7 1138.4,608.1 1138.5,607.7 1138.7,609.4 1138.9,609.5 1139.0,613.2 1139.2,608.2 1139.4,617.2 1139.5,608.5 1139.7,614.3 1139.9,615.0 1140.0,624.3 1140.2,607.9 1140.4,627.4 1140.5,624.8 1140.7,607.6 1140.9,607.9 1141.0,618.5 1141.2,621.4 1141.4,625.6 1141.5,608.7 1141.7,621.3 1141.9,612.5 1142.0,618.9 1142.2,618.6 1142.4,612.7 1142.5,617.8 1142.7,608.6 1142.9,634.6 1143.0,620.3 1143.2,627.4 1143.4,614.2 1143.5,615.3 1143.7,618.3 1143.9,614.7 1144.0,627.2 1144.2,618.7 1144.4,606.2 1144.5,619.0 1144.7,630.6 1144.9,612.7 1145.0,624.5 1145.2,616.2 1145.4,611.5 1145.5,606.7 1145.7,615.9 1145.9,611.9 1146.0,625.5 1146.2,617.3 1146.4,609.6 1146.5,622.3 1146.7,615.1 1146.9,622.6 1147.0,627.4 1147.2,618.0 1147.4,607.6 1147.5,620.8 1147.7,610.2 1147.9,618.3 1148.0,611.0 1148.2,608.7 1148.4,628.0 1148.5,623.7 1148.7,612.8 1148.9,619.8 1149.0,615.2 1149.2,626.0 1149.4,625.4 1149.5,606.8 1149.7,604.7 1149.9,606.2 1150.0,621.3 1150.2,615.6 1150.4,615.4 1150.5,619.3 1150.7,602.2 1150.9,617.5 1151.0,599.4 1151.2,618.8 1151.4,612.0 1151.5,623.0 1151.7,627.8 1151.9,608.4 1152.0,615.8 1152.2,606.3 1152.4,624.6 1152.5,619.1 1152.7,607.0 1152.9,631.5 1153.0,613.1 1153.2,626.9 1153.4,609.7 1153.5,609.8 1153.7,610.0 1153.9,624.8 1154.0,621.0 1154.2,624.3 1154.4,626.1 1154.5,621.0 1154.7,626.2 1154.9,625.4 1155.0,624.5 1155.2,612.2 1155.4,607.0 1155.5,625.0 1155.7,602.8 1155.9,629.0 1156.0,627.4 1156.2,612.9 1156.4,606.4 1156.5,615.3 1156.7,614.9 1156.9,610.2 1157.0,622.5 1157.2,611.0 1157.4,620.9 1157.5,617.7 1157.7,595.8 1157.9,619.4 1158.0,615.0 1158.2,607.5 1158.4,615.9 1158.5,619.5 1158.7,621.0 1158.9,622.5 1159.0,618.5 1159.2,621.6 1159.4,612.6 1159.5,609.4 1159.7,605.1 1159.9,607.3 1160.0,620.2 1160.2,607.4 1160.4,606.6 1160.5,603.9 1160.7,615.9 1160.9,604.9 1161.0,603.2 1161.2,620.8 1161.4,620.3 1161.5,614.9 1161.7,614.8 1161.9,613.0 1162.0,620.2 1162.2,619.4 1162.4,619.0 1162.5,614.9 1162.7,604.5 1162.9,617.7 1163.0,617.3 1163.2,607.3 1163.4,608.6 1163.5,607.7 1163.7,604.7 1163.9,609.5 1164.0,618.5 1164.2,614.0 1164.4,604.0 1164.5,616.9 1164.7,613.3 1164.9,615.8 1165.0,615.4 1165.2,607.5 1165.4,601.6 1165.5,617.7 1165.7,604.0 1165.9,611.8 1166.0,602.3 1166.2,609.3 1166.4,606.5 1166.5,602.7 1166.7,613.3 1166.9,612.0 1167.0,615.3 1167.2,613.6 1167.4,605.6 1167.5,605.0 1167.7,609.2 1167.9,616.0 1168.0,603.5 1168.2,610.3 1168.4,590.4 1168.5,603.6 1168.7,616.2 1168.9,606.0 1169.0,597.6 1169.2,601.2 1169.4,607.3 1169.5,614.3 1169.7,601.4 1169.9,598.6 1170.0,612.4 1170.2,599.3 1170.4,598.6 1170.5,604.2 1170.7,615.4 1170.9,612.1 1171.0,613.2 1171.2,592.9 1171.4,604.1 1171.5,605.1 1171.7,611.9 1171.9,608.3 1172.0,609.9 1172.2,612.3 1172.4,598.3 1172.5,604.6 1172.7,615.6 1172.9,612.8 1173.0,595.3 1173.2,610.9 1173.4,598.3 1173.5,598.9 1173.7,595.5 1173.9,608.9 1174.0,599.5 1174.2,594.4 1174.4,610.7 1174.5,601.7 1174.7,612.0 1174.9,599.3 1175.0,604.5 1175.2,599.1 1175.4,596.9 1175.5,607.8 1175.7,604.5 1175.9,611.0 1176.0,605.6 1176.2,593.2 1176.4,612.8 1176.5,604.6 1176.7,613.0 1176.9,595.9 1177.0,600.8 1177.2,610.6 1177.4,596.7 1177.5,596.9 1177.7,609.5 1177.9,595.0 1178.0,594.4 1178.2,603.4 1178.4,597.6 1178.5,608.3 1178.7,601.7 1178.9,609.1 1179.0,596.4 1179.2,607.7 1179.4,601.7 1179.5,609.0 1179.7,600.1 1179.9,591.8 1180.0,605.1 1180.2,604.6 1180.4,591.0 1180.5,592.4 1180.7,592.4 1180.9,591.0 1181.0,596.4 1181.2,605.3 1181.4,607.3 1181.5,601.2 1181.7,592.7 1181.9,581.6 1182.0,601.7 1182.2,597.8 1182.4,606.7 1182.5,600.3 1182.7,587.2 1182.9,593.2 1183.0,595.6 1183.2,604.9 1183.4,602.8 1183.5,596.3 1183.7,590.4 1183.9,579.8 1184.0,594.8 1184.2,586.8 1184.4,590.7 1184.5,597.0 1184.7,590.2 1184.9,596.3 1185.0,595.8 1185.2,591.5 1185.4,600.0 1185.5,588.7 1185.7,598.7 1185.9,597.9 1186.0,592.2 1186.2,593.2 1186.4,585.9 1186.5,582.3 1186.7,595.6 1186.9,607.9 1187.0,595.3 1187.2,590.7 1187.4,599.6 1187.5,586.2 1187.7,585.8 1187.9,586.1 1188.0,592.4 1188.2,592.8 1188.4,599.5 1188.5,582.1 1188.7,595.1 1188.9,599.1 1189.0,579.8 1189.2,592.8 1189.4,595.7 1189.5,594.6 1189.7,583.4 1189.9,597.0 1190.0,583.1 1190.2,584.7 1190.4,584.5 1190.5,591.9 1190.7,584.8 1190.9,587.5 1191.0,603.0 1191.2,591.2 1191.4,578.5 1191.5,599.8 1191.7,584.4 1191.9,577.3 1192.0,577.6 1192.2,580.8 1192.4,593.4 1192.5,587.8 1192.7,596.5 1192.9,583.1 1193.0,580.1 1193.2,595.1 1193.4,585.1 1193.5,570.3 1193.7,579.9 1193.9,581.5 1194.0,593.6 1194.2,593.9 1194.4,580.9 1194.5,587.7 1194.7,582.7 1194.9,581.3 1195.0,595.3 1195.2,582.2 1195.4,587.8 1195.5,586.0 1195.7,577.5 1195.9,589.7 1196.0,577.5 1196.2,588.7 1196.4,568.8 1196.5,582.5 1196.7,575.6 1196.9,586.3 1197.0,588.6 1197.2,573.9 1197.4,579.8 1197.5,586.8 1197.7,594.8 1197.9,590.3 1198.0,575.5 1198.2,596.1 1198.4,575.7 1198.5,580.1 1198.7,590.8 1198.9,576.7 1199.0,576.7 1199.2,586.0 1199.4,586.2 1199.5,578.5 1199.7,582.3 1199.9,586.8 1200.0,587.4 1200.2,585.6 1200.4,583.3 1200.5,582.5 1200.7,589.8 1200.9,585.3 1201.0,587.8 1201.2,578.6 1201.4,586.4 1201.5,573.4 1201.7,582.6 1201.9,590.9 1202.0,576.0 1202.2,583.3 1202.4,582.3 1202.5,585.3 1202.7,586.4 1202.9,584.3 1203.0,581.6 1203.2,579.8 1203.4,586.1 1203.5,577.2 1203.7,582.0 1203.9,572.2 1204.0,580.7 1204.2,589.6 1204.4,584.6 1204.5,584.8 1204.7,580.9 1204.9,580.7 1205.0,578.3 1205.2,580.8 1205.4,578.0 1205.5,590.9 1205.7,582.2 1205.9,581.1 1206.0,582.1 1206.2,590.3 1206.4,588.8 1206.5,594.2 1206.7,593.4 1206.9,590.2 1207.0,591.4 1207.2,592.6 1207.4,583.0 1207.5,584.6 1207.7,586.4 1207.9,593.1 1208.0,598.3 1208.2,590.3 1208.4,585.2 1208.5,595.6 1208.7,592.9 1208.9,598.9 1209.0,600.7 1209.2,590.0 1209.4,583.0 1209.5,589.5 1209.7,589.4 1209.9,585.7 1210.0,586.5 1210.2,592.0 1210.4,600.9 1210.5,594.1 1210.7,595.9 1210.9,586.3 1211.0,592.7 1211.2,601.1 1211.4,593.6 1211.5,600.9 1211.7,593.2 1211.9,588.2 1212.0,596.4 1212.2,603.6 1212.4,594.3 1212.5,581.9 1212.7,594.1 1212.9,604.7 1213.0,598.6 1213.2,593.6 1213.4,595.1 1213.5,599.9 1213.7,601.2 1213.9,599.6 1214.0,599.1 1214.2,606.2 1214.4,600.1 1214.5,603.7 1214.7,593.4 1214.9,596.3 1215.0,600.6 1215.2,610.4 1215.4,603.7 1215.5,598.1 1215.7,594.9 1215.9,607.4 1216.0,613.2 1216.2,606.1 1216.4,613.4 1216.5,598.0 1216.7,592.3 1216.9,596.5 1217.0,598.8 1217.2,612.2 1217.4,615.9 1217.5,611.4 1217.7,616.4 1217.9,603.4 1218.0,609.4 1218.2,604.0 1218.4,606.9 1218.5,604.0 1218.7,606.5 1218.9,602.1 1219.0,608.5 1219.2,607.6 1219.4,605.9 1219.5,616.4 1219.7,611.8 1219.9,610.5 1220.0,610.5 1220.2,610.5 1220.4,615.7 1220.5,609.2 1220.7,608.7 1220.9,612.9 1221.0,616.4 1221.2,614.9 1221.4,617.6 1221.5,614.9 1221.7,617.8 1221.9,605.2 1222.0,606.1 1222.2,607.5 1222.4,626.5 1222.5,618.4 1222.7,624.1 1222.9,608.2 1223.0,624.3 1223.2,617.9 1223.4,609.3 1223.5,618.3 1223.7,615.3 1223.9,624.3 1224.0,611.2 1224.2,620.6 1224.4,615.2 1224.5,624.0 1224.7,610.8 1224.9,612.5 1225.0,622.0 1225.2,613.4 1225.4,628.1 1225.5,613.1 1225.7,614.1 1225.9,622.9 1226.0,617.5 1226.2,629.4 1226.4,625.2 1226.5,621.2 1226.7,625.7 1226.9,614.6 1227.0,624.4 1227.2,618.9 1227.4,615.0 1227.5,617.3 1227.7,617.9 1227.9,628.9 1228.0,608.9 1228.2,619.7 1228.4,619.4 1228.5,625.5 1228.7,621.7 1228.9,625.3 1229.0,629.6 1229.2,624.1 1229.4,624.8 1229.5,626.3 1229.7,625.4 1229.9,633.1 1230.0,618.6 1230.2,620.7 1230.4,623.9 1230.5,625.3 1230.7,631.0 1230.9,634.3 1231.0,611.7 1231.2,620.2 1231.4,631.3 1231.5,626.0 1231.7,620.2 1231.9,624.5 1232.0,624.4 1232.2,630.7 1232.4,626.9 1232.5,622.4 1232.7,619.0 1232.9,634.3 1233.0,619.3 1233.2,636.3 1233.4,622.4 1233.5,630.4 1233.7,620.5 1233.9,618.4 1234.0,620.5 1234.2,626.9 1234.4,624.6 1234.5,630.8 1234.7,634.9 1234.9,627.4 1235.0,637.0 1235.2,620.9 1235.4,635.6 1235.5,634.1 1235.7,622.0 1235.9,636.4 1236.0,637.8 1236.2,637.3 1236.4,634.1 1236.5,633.4 1236.7,633.2 1236.9,630.0 1237.0,619.4 1237.2,633.5 1237.4,617.8 1237.5,623.0 1237.7,625.6 1237.9,627.2 1238.0,628.6 1238.2,630.7 1238.4,624.2 1238.5,635.5 1238.7,631.5 1238.9,634.6 1239.0,630.3 1239.2,632.3 1239.4,631.5 1239.5,636.2 1239.7,628.8 1239.9,619.4 1240.0,630.3 1240.2,647.0 1240.4,637.8 1240.5,639.5 1240.7,639.5 1240.9,635.8 1241.0,628.4 1241.2,637.1 1241.4,626.0 1241.5,642.3 1241.7,632.3 1241.9,628.6 1242.0,641.3 1242.2,631.8 1242.4,639.7 1242.5,632.6 1242.7,621.6 1242.9,631.2 1243.0,634.6 1243.2,639.6 1243.4,632.4 1243.5,634.6 1243.7,641.5 1243.9,632.9 1244.0,631.2 1244.2,643.0 1244.4,632.4 1244.5,636.4 1244.7,620.8 1244.9,641.4 1245.0,646.1 1245.2,642.7 1245.4,643.7 1245.5,630.2 1245.7,625.7 1245.9,635.8 1246.0,630.2 1246.2,637.6 1246.4,625.6 1246.5,630.6 1246.7,640.9 1246.9,641.8 1247.0,632.5 1247.2,641.4 1247.4,636.6 1247.5,635.3 1247.7,630.9 1247.9,635.3 1248.0,634.2 1248.2,637.5 1248.4,624.5 1248.5,628.9 1248.7,627.9 1248.9,644.8 1249.0,643.3 1249.2,629.0 1249.4,638.9 1249.5,642.3 1249.7,640.5 1249.9,637.3 1250.0,634.6 1250.2,634.7 1250.4,630.8 1250.5,631.2 1250.7,645.1 1250.9,637.5 1251.0,630.9 1251.2,629.7 1251.4,637.1 1251.5,627.5 1251.7,650.6 1251.9,637.5 1252.0,639.4 1252.2,640.6 1252.4,644.0 1252.5,634.4 1252.7,640.5 1252.9,644.7 1253.0,629.6 1253.2,644.8 1253.4,641.2 1253.5,640.8 1253.7,643.3 1253.9,641.1 1254.0,642.0 1254.2,629.4 1254.4,639.2 1254.5,641.6 1254.7,625.4 1254.9,634.1 1255.0,642.1 1255.2,643.9 1255.4,626.5 1255.5,626.8 1255.7,628.4 1255.9,630.6 1256.0,633.7 1256.2,643.0 1256.4,637.5 1256.5,645.2 1256.7,643.0 1256.9,633.7 1257.0,642.3 1257.2,628.9 1257.4,629.6 1257.5,643.4 1257.7,643.7 1257.9,620.4 1258.0,635.8 1258.2,631.6 1258.4,628.8 1258.5,620.2 1258.7,630.3 1258.9,632.2 1259.0,632.0 1259.2,632.8 1259.4,647.5 1259.5,626.7 1259.7,627.7 1259.9,626.8 1260.0,646.7 1260.2,629.8 1260.4,641.4 1260.5,632.6 1260.7,639.3 1260.9,642.9 1261.0,627.8 1261.2,638.3 1261.4,630.8 1261.5,641.9 1261.7,631.0 1261.9,634.3 1262.0,629.9 1262.2,639.0 1262.4,639.5 1262.5,637.9 1262.7,632.2 1262.9,626.8 1263.0,642.1 1263.2,641.1 1263.4,627.5 1263.5,635.4 1263.7,628.2 1263.9,631.4 1264.0,629.9 1264.2,628.9 1264.4,638.3 1264.5,637.4 1264.7,637.5 1264.9,640.3 1265.0,630.9 1265.2,627.5 1265.4,634.1 1265.5,634.0 1265.7,641.1 1265.9,624.9 1266.0,640.0 1266.2,628.0 1266.4,626.9 1266.5,635.6 1266.7,626.5 1266.9,638.9 1267.0,624.9 1267.2,628.5 1267.4,628.0 1267.5,627.5 1267.7,625.8 1267.9,628.8 1268.0,640.6 1268.2,640.7 1268.4,631.1 1268.5,639.0 1268.7,638.5 1268.9,624.1 1269.0,637.8 1269.2,635.3 1269.4,638.5 1269.5,629.8 1269.7,625.6 1269.9,628.4 1270.0,628.5 1270.2,632.0 1270.4,636.0 1270.5,638.4 1270.7,626.4 1270.9,635.2 1271.0,625.6 1271.2,639.0 1271.4,634.6 1271.5,640.5 1271.7,636.7 1271.9,628.9 1272.0,625.0 1272.2,628.6 1272.4,620.4 1272.5,629.4 1272.7,626.7 1272.9,635.7 1273.0,626.6 1273.2,629.5 1273.4,623.4 1273.5,635.5 1273.7,635.1 1273.9,638.5 1274.0,633.8 1274.2,631.0 1274.4,629.6 1274.5,633.8 1274.7,634.5 1274.9,625.8 1275.0,628.2 1275.2,635.9 1275.4,631.1 1275.5,637.8 1275.7,628.7 1275.9,639.2 1276.0,635.5 1276.2,631.5 1276.4,633.7 1276.5,623.8 1276.7,629.9 1276.9,640.1 1277.0,635.4 1277.2,629.4 1277.4,627.5 1277.5,634.6 1277.7,638.3 1277.9,630.0 1278.0,624.2 1278.2,634.9 1278.4,636.6 1278.5,626.8 1278.7,639.3 1278.9,627.7 1279.0,625.9 1279.2,630.1 1279.4,628.1 1279.5,635.9 1279.7,632.8 1279.9,637.6 1280.0,626.9 1280.2,633.0 1280.4,618.6 1280.5,622.0 1280.7,627.3 1280.9,632.2 1281.0,610.9 1281.2,628.0 1281.4,624.2 1281.5,618.5 1281.7,621.3 1281.9,605.6 1282.0,610.0 1282.2,606.3 1282.4,616.0 1282.5,614.9 1282.7,611.6 1282.9,601.5 1283.0,617.5 1283.2,605.0 1283.4,600.5 1283.5,602.9 1283.7,605.9 1283.9,598.6 1284.0,626.9 1284.2,602.6 1284.4,613.8 1284.5,615.1 1284.7,596.2 1284.9,604.4 1285.0,614.8 1285.2,599.2 1285.4,601.3 1285.5,595.2 1285.7,600.0 1285.9,592.0 1286.0,606.9 1286.2,606.4 1286.4,603.4 1286.5,609.5 1286.7,593.0 1286.9,589.2 1287.0,589.7 1287.2,590.2 1287.4,590.4 1287.5,601.3 1287.7,604.4 1287.9,586.0 1288.0,607.0 1288.2,583.0 1288.4,603.1 1288.5,594.1 1288.7,587.6 1288.9,590.5 1289.0,599.4 1289.2,584.3 1289.4,599.8 1289.5,589.3 1289.7,572.4 1289.9,592.7 1290.0,583.8 1290.2,588.1 1290.4,587.7 1290.5,599.7 1290.7,584.7 1290.9,579.6 1291.0,600.2 1291.2,588.6 1291.4,587.3 1291.5,587.6 1291.7,574.4 1291.9,587.6 1292.0,591.9 1292.2,576.5 1292.4,602.8 1292.5,576.0 1292.7,579.4 1292.9,576.9 1293.0,586.2 1293.2,579.4 1293.4,594.1 1293.5,566.6 1293.7,586.9 1293.9,596.4 1294.0,588.9 1294.2,595.9 1294.4,594.2 1294.5,593.9 1294.7,592.8 1294.9,606.4 1295.0,582.0 1295.2,579.7 1295.4,579.1 1295.5,581.9 1295.7,585.3 1295.9,583.8 1296.0,581.2 1296.2,593.3 1296.4,579.2 1296.5,576.4 1296.7,601.3 1296.9,593.0 1297.0,586.0 1297.2,597.7 1297.4,591.5 1297.5,598.7 1297.7,590.8 1297.9,585.4 1298.0,595.8 1298.2,580.8 1298.4,586.8 1298.5,597.6 1298.7,584.8 1298.9,580.6 1299.0,576.6 1299.2,576.0 1299.4,577.5 1299.5,596.9 1299.7,576.8 1299.9,590.0 1300.0,583.5 1300.2,582.8 1300.4,594.6 1300.5,576.7 1300.7,579.0 1300.9,593.4 1301.0,594.4 1301.2,589.7 1301.4,601.3 1301.5,586.2 1301.7,584.0 1301.9,590.5 1302.0,583.2 1302.2,591.1 1302.4,595.3 1302.5,594.8 1302.7,596.5 1302.9,589.1 1303.0,586.8 1303.2,593.9 1303.4,581.1 1303.5,582.5 1303.7,579.8 1303.9,583.0 1304.0,600.9 1304.2,592.4 1304.4,602.0 1304.5,598.2 1304.7,580.4 1304.9,578.7 1305.0,601.2 1305.2,591.4 1305.4,606.5 1305.5,588.1 1305.7,587.1 1305.9,583.7 1306.0,608.1 1306.2,599.1 1306.4,594.7 1306.5,582.2 1306.7,590.9 1306.9,579.8 1307.0,595.7 1307.2,587.8 1307.4,612.2 1307.5,604.1 1307.7,593.9 1307.9,602.9 1308.0,580.6 1308.2,600.3 1308.4,587.7 1308.5,598.6 1308.7,599.4 1308.9,592.7 1309.0,603.5 1309.2,598.5 1309.4,592.0 1309.5,602.9 1309.7,601.6 1309.9,592.7 1310.0,584.1 1310.2,606.9 1310.4,606.7 1310.5,606.3 1310.7,605.9 1310.9,607.6 1311.0,604.2 1311.2,586.3 1311.4,600.0 1311.5,585.5 1311.7,587.7 1311.9,603.9 1312.0,606.5 1312.2,603.3 1312.4,579.6 1312.5,600.9 1312.7,605.2 1312.9,586.0 1313.0,587.8 1313.2,594.6 1313.4,604.0 1313.5,599.8 1313.7,605.4 1313.9,600.2 1314.0,608.6 1314.2,598.8 1314.4,591.7 1314.5,611.3 1314.7,593.6 1314.9,592.5 1315.0,607.0 1315.2,591.4 1315.4,591.8 1315.5,610.4 1315.7,595.9 1315.9,612.3 1316.0,594.1 1316.2,610.1 1316.4,603.8 1316.5,602.9 1316.7,602.1 1316.9,596.4 1317.0,611.1 1317.2,591.6 1317.4,597.8 1317.5,611.0 1317.7,603.8 1317.9,611.6 1318.0,596.3 1318.2,592.2 1318.4,592.7 1318.5,599.2 1318.7,602.2 1318.9,598.0 1319.0,610.0 1319.2,598.0 1319.4,597.7 1319.5,607.4 1319.7,598.2 1319.9,597.3 1320.0,588.9 1320.2,607.5 1320.4,619.5 1320.5,614.4 1320.7,600.4 1320.9,599.9 1321.0,609.0 1321.2,594.6 1321.4,603.3 1321.5,614.8 1321.7,615.9 1321.9,603.0 1322.0,611.2 1322.2,616.1 1322.4,603.7 1322.5,597.0 1322.7,614.9 1322.9,612.4 1323.0,607.3 1323.2,589.9 1323.4,609.7 1323.5,593.2 1323.7,597.1 1323.9,593.3 1324.0,619.4 1324.2,624.7 1324.4,596.2 1324.5,609.4 1324.7,608.6 1324.9,590.2 1325.0,597.9 1325.2,596.2 1325.4,596.4 1325.5,596.0 1325.7,608.2 1325.9,584.0 1326.0,615.4 1326.2,592.8 1326.4,613.4 1326.5,618.3 1326.7,608.3 1326.9,599.0 1327.0,599.8 1327.2,612.7 1327.4,593.0 1327.5,613.6 1327.7,604.0 1327.9,607.9 1328.0,612.7 1328.2,600.9 1328.4,599.4 1328.5,593.1 1328.7,602.2 1328.9,605.4 1329.0,597.5 1329.2,614.5 1329.4,596.0 1329.5,592.0 1329.7,594.1 1329.9,593.6 1330.0,608.9 1330.2,604.0 1330.4,589.5 1330.5,605.5 1330.7,611.0 1330.9,609.6 1331.0,604.8 1331.2,592.0 1331.4,607.2 1331.5,595.0 1331.7,607.7 1331.9,609.8 1332.0,593.1 1332.2,591.5 1332.4,594.1 1332.5,582.9 1332.7,594.1 1332.9,600.7 1333.0,587.8 1333.2,611.7 1333.4,604.2 1333.5,606.4 1333.7,589.7 1333.9,610.1 1334.0,588.8 1334.2,611.5 1334.4,601.6 1334.5,611.1 1334.7,600.4 1334.9,606.6 1335.0,597.5 1335.2,598.4 1335.4,588.9 1335.5,608.6 1335.7,592.0 1335.9,604.2 1336.0,590.4 1336.2,606.5 1336.4,598.7 1336.5,599.0 1336.7,609.9 1336.9,604.5 1337.0,604.9 1337.2,589.1 1337.4,593.0 1337.5,593.9 1337.7,587.1 1337.9,587.2 1338.0,601.5 1338.2,588.6 1338.4,595.3 1338.5,600.2 1338.7,612.4 1338.9,597.5 1339.0,592.9 1339.2,591.1 1339.4,598.4 1339.5,608.0 1339.7,601.6 1339.9,606.7 1340.0,601.8 1340.2,589.0 1340.4,585.9 1340.5,575.6 1340.7,591.7 1340.9,597.9 1341.0,607.5 1341.2,585.3 1341.4,591.0 1341.5,582.3 1341.7,602.9 1341.9,596.3 1342.0,594.2 1342.2,583.9 1342.4,586.8 1342.5,611.3 1342.7,605.3 1342.9,581.7 1343.0,600.1 1343.2,590.7 1343.4,589.5 1343.5,588.6 1343.7,588.5 1343.9,602.9 1344.0,587.7 1344.2,587.2 1344.4,583.5 1344.5,581.8 1344.7,604.0 1344.9,602.5 1345.0,583.4 1345.2,588.2 1345.4,596.9 1345.5,588.4 1345.7,599.3 1345.9,582.5 1346.0,591.0 1346.2,581.0 1346.4,583.4 1346.5,590.5 1346.7,582.7 1346.9,600.7 1347.0,582.8 1347.2,601.3 1347.4,583.1 1347.5,582.1 1347.7,583.6 1347.9,581.5 1348.0,581.7 1348.2,593.5 1348.4,588.7 1348.5,577.1 1348.7,579.6 1348.9,577.1 1349.0,584.5 1349.2,591.2 1349.4,591.9 1349.5,597.7 1349.7,598.7 1349.9,586.5 1350.0,589.1 1350.2,605.7 1350.4,594.6 1350.5,599.5 1350.7,591.6 1350.9,588.9 1351.0,594.6 1351.2,590.8 1351.4,576.4 1351.5,591.3 1351.7,586.3 1351.9,583.7 1352.0,569.9 1352.2,593.8 1352.4,597.4 1352.5,592.8 1352.7,581.6 1352.9,593.3 1353.0,587.2 1353.2,581.6 1353.4,589.4 1353.5,580.4 1353.7,580.7 1353.9,572.2 1354.0,576.6 1354.2,594.5 1354.4,577.3 1354.5,594.6 1354.7,576.4 1354.9,578.2 1355.0,589.4 1355.2,575.5 1355.4,592.0 1355.5,594.2 1355.7,596.7 1355.9,583.6 1356.0,579.4 1356.2,594.8 1356.4,572.7 1356.5,591.7 1356.7,575.6 1356.9,593.0 1357.0,573.8 1357.2,568.5 1357.4,571.6 1357.5,587.4 1357.7,577.5 1357.9,574.4 1358.0,578.5 1358.2,571.0 1358.4,585.0 1358.5,576.8 1358.7,575.7 1358.9,591.8 1359.0,591.3 1359.2,589.2 1359.4,600.8 1359.5,583.9 1359.7,596.1 1359.9,579.6 1360.0,590.8 1360.2,584.9 1360.4,586.9 1360.5,576.7 1360.7,586.9 1360.9,583.1 1361.0,566.1 1361.2,583.0 1361.4,589.0 1361.5,596.8 1361.7,587.8 1361.9,592.1 1362.0,590.9 1362.2,590.0 1362.4,583.2 1362.5,588.1 1362.7,597.3 1362.9,597.6 1363.0,604.7 1363.2,600.0 1363.4,588.2 1363.5,589.5 1363.7,600.4 1363.9,596.0 1364.0,599.4 1364.2,613.5 1364.4,591.0 1364.5,607.2 1364.7,599.9 1364.9,596.0 1365.0,610.6 1365.2,600.9 1365.4,600.8 1365.5,600.7 1365.7,596.8 1365.9,613.6 1366.0,619.4 1366.2,600.8 1366.4,603.5 1366.5,613.8 1366.7,617.7 1366.9,624.4 1367.0,608.8 1367.2,618.8 1367.4,609.6 1367.5,606.6 1367.7,615.0 1367.9,619.0 1368.0,613.5 1368.2,618.7 1368.4,607.1 1368.5,612.4 1368.7,630.3 1368.9,616.2 1369.0,615.7 1369.2,619.4 1369.4,621.7 1369.5,618.8 1369.7,613.3 1369.9,607.1 1370.0,622.1 1370.2,613.8 1370.4,614.0 1370.5,613.8 1370.7,618.6 1370.9,621.6 1371.0,606.8 1371.2,605.9 1371.4,617.7 1371.5,620.8 1371.7,623.6 1371.9,611.0 1372.0,612.5 1372.2,620.4 1372.4,605.5 1372.5,619.4 1372.7,608.5 1372.9,605.7 1373.0,613.5 1373.2,612.9 1373.4,615.5 1373.5,610.9 1373.7,605.9 1373.9,609.6 1374.0,616.2 1374.2,606.5 1374.4,616.0 1374.5,621.5 1374.7,610.1 1374.9,610.5 1375.0,618.6 1375.2,618.3 1375.4,609.7 1375.5,604.2 1375.7,617.0 1375.9,620.6 1376.0,607.9 1376.2,607.3 1376.4,607.3 1376.5,612.9 1376.7,604.9 1376.9,608.4 1377.0,600.0 1377.2,614.5 1377.4,603.9 1377.5,610.9 1377.7,604.3 1377.9,627.1 1378.0,614.3 1378.2,620.2 1378.4,618.9 1378.5,616.5 1378.7,608.3 1378.9,613.4 1379.0,610.9 1379.2,607.6 1379.4,603.9 1379.5,611.0 1379.7,603.9 1379.9,619.1 1380.0,616.4 1380.2,618.0 1380.4,618.2 1380.5,616.2 1380.7,604.6 1380.9,604.5 1381.0,603.2 1381.2,602.6 1381.4,607.1 1381.5,617.2 1381.7,606.4 1381.9,607.8 1382.0,610.9 1382.2,604.3 1382.4,606.8 1382.5,605.6 1382.7,605.0 1382.9,609.6 1383.0,617.6 1383.2,619.2 1383.4,625.2 1383.5,615.4 1383.7,615.7 1383.9,617.0 1384.0,612.2 1384.2,606.7 1384.4,601.1 1384.5,610.7 1384.7,619.8 1384.9,603.2 1385.0,615.0 1385.2,618.7 1385.4,612.4 1385.5,601.1 1385.7,614.8 1385.9,612.9 1386.0,613.4 1386.2,608.7 1386.4,606.1 1386.5,602.3 1386.7,609.5 1386.9,614.4 1387.0,615.4 1387.2,601.4 1387.4,606.5 1387.5,603.0 1387.7,601.0 1387.9,603.4 1388.0,617.2 1388.2,610.8 1388.4,602.5 1388.5,614.8 1388.7,616.8 1388.9,599.0 1389.0,612.1 1389.2,612.1 1389.4,600.1 1389.5,616.6 1389.7,602.6 1389.9,609.4 1390.0,604.6 1390.2,611.2 1390.4,609.5 1390.5,607.7 1390.7,605.7 1390.9,600.2 1391.0,599.4 1391.2,601.7 1391.4,606.5 1391.5,598.8 1391.7,615.5 1391.9,610.7 1392.0,610.1 1392.2,616.3 1392.4,605.1 1392.5,611.3 1392.7,595.3 1392.9,601.7 1393.0,607.2 1393.2,618.6 1393.4,611.6 1393.5,612.5 1393.7,599.0 1393.9,615.5 1394.0,608.6 1394.2,604.7 1394.4,609.4 1394.5,611.6 1394.7,616.0 1394.9,611.4 1395.0,616.8 1395.2,613.9 1395.4,613.8 1395.5,604.9 1395.7,598.9 1395.9,609.4 1396.0,604.5 1396.2,611.2 1396.4,613.7 1396.5,615.4 1396.7,607.2 1396.9,616.5 1397.0,594.0 1397.2,605.5 1397.4,606.6 1397.5,615.0 1397.7,615.2 1397.9,606.5 1398.0,599.4 1398.2,600.5 1398.4,608.5 1398.5,598.5 1398.7,614.6 1398.9,610.5 1399.0,607.1 1399.2,603.8 1399.4,606.9 1399.5,601.4 1399.7,612.1 1399.9,614.7 1400.0,598.0 1400.2,615.9 1400.4,608.9 1400.5,603.9 1400.7,605.2 1400.9,615.9 1401.0,613.7 1401.2,610.1 1401.4,613.7 1401.5,599.6 1401.7,598.3 1401.9,602.6 1402.0,599.3 1402.2,598.7 1402.4,603.0 1402.5,606.3 1402.7,608.9 1402.9,612.0 1403.0,609.3 1403.2,615.3 1403.4,616.0 1403.5,615.9 1403.7,610.8 1403.9,600.2 1404.0,606.7 1404.2,603.0 1404.4,595.6 1404.5,599.8 1404.7,603.8 1404.9,600.0 1405.0,615.5 1405.2,603.7 1405.4,618.3 1405.5,599.5 1405.7,604.0 1405.9,615.6 1406.0,602.9 1406.2,606.1 1406.4,610.1 1406.5,611.7 1406.7,613.9 1406.9,605.3 1407.0,608.2 1407.2,612.5 1407.4,612.1 1407.5,606.0 1407.7,605.9 1407.9,602.4 1408.0,604.2 1408.2,611.1 1408.4,610.6 1408.5,598.6 1408.7,600.8 1408.9,610.7 1409.0,608.8 1409.2,608.4 1409.4,613.0 1409.5,603.1 1409.7,602.0 1409.9,607.1 1410.0,603.8 1410.2,615.3 1410.4,596.9 1410.5,604.5 1410.7,614.2 1410.9,608.2 1411.0,602.9 1411.2,598.5 1411.4,615.0 1411.5,611.5 1411.7,611.4 1411.9,604.1 1412.0,601.6 1412.2,609.7 1412.4,608.7 1412.5,607.7 1412.7,609.4 1412.9,604.9 1413.0,600.6 1413.2,602.2 1413.4,607.3 1413.5,615.4 1413.7,612.1 1413.9,614.1 1414.0,597.8 1414.2,601.9 1414.4,602.5 1414.5,610.4 1414.7,614.0 1414.9,620.7 1415.0,606.6 1415.2,608.6 1415.4,600.3 1415.5,605.3 1415.7,602.7 1415.9,602.7 1416.0,606.9 1416.2,600.1 1416.4,610.7 1416.5,599.1 1416.7,601.5 1416.9,614.6 1417.0,611.6 1417.2,612.7 1417.4,613.6 1417.5,596.8 1417.7,609.8 1417.9,613.4 1418.0,596.9 1418.2,597.2 1418.4,604.2 1418.5,610.8 1418.7,610.5 1418.9,595.7 1419.0,601.4 1419.2,614.4 1419.4,613.3 1419.5,603.4 1419.7,597.6 1419.9,607.4 1420.0,605.3 1420.2,610.6 1420.4,606.7 1420.5,590.4 1420.7,597.0 1420.9,604.8 1421.0,604.8 1421.2,601.6 1421.4,614.1 1421.5,606.5 1421.7,602.2 1421.9,608.6 1422.0,601.2 1422.2,596.2 1422.4,602.1 1422.5,600.0 1422.7,602.6 1422.9,614.9 1423.0,607.5 1423.2,611.3 1423.4,606.1 1423.5,596.9 1423.7,612.6 1423.9,613.4 1424.0,604.9 1424.2,599.4 1424.4,604.2 1424.5,600.7 1424.7,604.8 1424.9,604.8 1425.0,598.8 1425.2,608.5 1425.4,605.3 1425.5,613.4 1425.7,611.3 1425.9,596.6 1426.0,596.6 1426.2,595.5 1426.4,608.4 1426.5,602.0 1426.7,601.6 1426.9,608.7 1427.0,610.1 1427.2,611.6 1427.4,607.8 1427.5,608.1 1427.7,609.9 1427.9,600.9 1428.0,600.7 1428.2,608.2 1428.4,604.7 1428.5,603.5 1428.7,599.4 1428.9,606.8 1429.0,601.7 1429.2,610.9 1429.4,600.9 1429.5,595.2 1429.7,607.8 1429.9,600.3 1430.0,610.4 1430.2,614.2 1430.4,603.2 1430.5,603.5 1430.7,604.6 1430.9,602.8 1431.0,613.6 1431.2,599.7 1431.4,607.6 1431.5,617.8 1431.7,604.6 1431.9,595.2 1432.0,595.0 1432.2,611.9 1432.4,601.0 1432.5,601.7 1432.7,605.6 1432.9,600.8 1433.0,596.7 1433.2,608.7 1433.4,609.4 1433.5,608.7 1433.7,605.6 1433.9,608.0 1434.0,603.4 1434.2,597.6 1434.4,609.2 1434.5,600.4 1434.7,608.8 1434.9,610.5 1435.0,602.1 1435.2,600.1 1435.4,600.3 1435.5,603.3 1435.7,605.8 1435.9,601.9 1436.0,598.7 1436.2,598.6 1436.4,612.6 1436.5,597.4 1436.7,598.3 1436.9,595.9 1437.0,602.9 1437.2,614.7 1437.4,597.1 1437.5,610.3 1437.7,602.3 1437.9,610.5 1438.0,593.9 1438.2,609.6 1438.4,595.3 1438.5,600.6 1438.7,604.2 1438.9,602.3 1439.0,606.1 1439.2,597.8 1439.4,604.6 1439.5,593.1 1439.7,596.0 1439.9,611.3 1440.0,606.2 1440.2,593.4 1440.4,612.2 1440.5,608.8 1440.7,610.8 1440.9,601.5 1441.0,594.1 1441.2,595.0 1441.4,609.1 1441.5,599.2 1441.7,596.5 1441.9,601.1 1442.0,610.3 1442.2,604.4 1442.4,605.9 1442.5,601.1 1442.7,610.4 1442.9,609.0 1443.0,600.2 1443.2,597.2 1443.4,604.7 1443.5,610.4 1443.7,610.7 1443.9,595.2 1444.0,608.0 1444.2,593.1 1444.4,607.2 1444.5,598.9 1444.7,600.3 1444.9,603.1 1445.0,602.3 1445.2,607.7 1445.4,593.7 1445.5,601.0 1445.7,597.1 1445.9,597.9 1446.0,610.7 1446.2,593.9 1446.4,600.7 1446.5,607.9 1446.7,608.7 1446.9,602.7 1447.0,598.3 1447.2,610.4 1447.4,593.2 1447.5,594.2 1447.7,595.8 1447.9,609.1 1448.0,592.4 1448.2,589.5 1448.4,596.7 1448.5,610.6 1448.7,610.0 1448.9,605.5 1449.0,607.4 1449.2,606.2 1449.4,610.6 1449.5,592.7 1449.7,599.5 1449.9,602.3 1450.0,610.5 1450.2,595.0 1450.4,594.4 1450.5,602.8 1450.7,608.1 1450.9,598.5 1451.0,602.3 1451.2,596.3 1451.4,602.2 1451.5,608.9 1451.7,609.1 1451.9,608.2 1452.0,593.6 1452.2,597.7 1452.4,604.3 1452.5,599.6 1452.7,608.6 1452.9,604.5 1453.0,589.1 1453.2,606.7 1453.4,600.6 1453.5,604.5 1453.7,596.8 1453.9,600.4 1454.0,594.7 1454.2,598.5 1454.4,596.9 1454.5,604.3 1454.7,607.8 1454.9,595.2 1455.0,601.3 1455.2,594.3 1455.4,609.4 1455.5,596.1 1455.7,591.9 1455.9,599.1 1456.0,600.0 1456.2,592.2 1456.4,603.0 1456.5,596.9 1456.7,601.6 1456.9,603.0 1457.0,595.4 1457.2,598.0 1457.4,605.6 1457.5,593.8 1457.7,594.0 1457.9,606.0 1458.0,592.8 1458.2,591.1 1458.4,593.5 1458.5,594.7 1458.7,607.6 1458.9,602.1 1459.0,597.2 1459.2,591.1 1459.4,594.1 1459.5,601.9 1459.7,604.5 1459.9,608.9 1460.0,605.2 1460.2,599.1 1460.4,599.4 1460.5,597.8 1460.7,599.8 1460.9,596.3 1461.0,590.1 1461.2,608.6 1461.4,607.2 1461.5,584.3 1461.7,590.5 1461.9,593.6 1462.0,614.3 1462.2,601.9 1462.4,589.8 1462.5,591.4 1462.7,608.1 1462.9,605.0 1463.0,594.8 1463.2,600.0 1463.4,590.6 1463.5,589.9 1463.7,604.0 1463.9,596.8 1464.0,598.6 1464.2,594.7 1464.4,589.7 1464.5,607.4 1464.7,598.8 1464.9,592.2 1465.0,597.4 1465.2,592.5 1465.4,596.6 1465.5,596.4 1465.7,606.3 1465.9,589.3 1466.0,598.5 1466.2,607.0 1466.4,590.8 1466.5,590.3 1466.7,602.6 1466.9,594.2 1467.0,600.0 1467.2,602.0 1467.4,595.0 1467.5,594.9 1467.7,592.5 1467.9,591.9 1468.0,601.9 1468.2,598.4 1468.4,598.6 1468.5,606.3 1468.7,604.5 1468.9,593.9 1469.0,597.0 1469.2,605.5 1469.4,603.9 1469.5,598.0 1469.7,602.0 1469.9,606.7 1470.0,595.8 1470.2,599.3 1470.4,600.3 1470.5,598.8 1470.7,603.8 1470.9,592.9 1471.0,590.8 1471.2,591.0 1471.4,590.8 1471.5,603.7 1471.7,598.1 1471.9,603.5 1472.0,592.5 1472.2,588.6 1472.4,600.0 1472.5,600.6 1472.7,605.0 1472.9,604.0 1473.0,595.1 1473.2,604.8 1473.4,594.2 1473.5,592.0 1473.7,608.9 1473.9,592.6 1474.0,582.1 1474.2,596.8 1474.4,598.5 1474.5,588.0 1474.7,600.1 1474.9,598.9 1475.0,593.6 1475.2,598.2 1475.4,591.0 1475.5,601.4 1475.7,594.9 1475.9,604.7 1476.0,597.7 1476.2,596.2 1476.4,588.4 1476.5,601.5 1476.7,603.2 1476.9,602.2 1477.0,597.3 1477.2,602.8 1477.4,607.1 1477.5,604.5 1477.7,593.3 1477.9,586.7 1478.0,589.6 1478.2,596.6 1478.4,587.5 1478.5,599.6 1478.7,599.4 1478.9,601.1 1479.0,585.3 1479.2,597.5 1479.4,593.8 1479.5,597.5 1479.7,605.7 1479.9,592.4 1480.0,600.2 1480.2,595.0 1480.4,588.0 1480.5,595.2 1480.7,602.3 1480.9,589.5 1481.0,601.7 1481.2,596.3 1481.4,587.4 1481.5,605.1 1481.7,595.1 1481.9,586.3 1482.0,606.7 1482.2,603.3 1482.4,595.1 1482.5,603.2 1482.7,596.9 1482.9,588.4 1483.0,599.5 1483.2,596.8 1483.4,597.1 1483.5,598.0 1483.7,605.5 1483.9,590.0 1484.0,608.6 1484.2,592.7 1484.4,587.7 1484.5,599.0 1484.7,587.0 1484.9,593.7 1485.0,599.1 1485.2,587.5 1485.4,597.1 1485.5,600.7 1485.7,591.7 1485.9,604.2 1486.0,590.8 1486.2,599.3 1486.4,594.5 1486.5,596.4 1486.7,598.7 1486.9,602.9 1487.0,603.2 1487.2,598.0 1487.4,602.6 1487.5,597.8 1487.7,592.6 1487.9,599.2 1488.0,598.8 1488.2,586.9 1488.4,587.3 1488.5,602.8 1488.7,588.1 1488.9,602.0 1489.0,592.0 1489.2,606.1 1489.4,600.7 1489.5,593.4 1489.7,591.9 1489.9,604.8 1490.0,599.7 1490.2,593.1 1490.4,588.5 1490.5,591.5 1490.7,586.6 1490.9,599.2 1491.0,595.5 1491.2,591.3 1491.4,587.5 1491.5,603.7 1491.7,597.8 1491.9,603.3 1492.0,591.8 1492.2,598.8 1492.4,588.6 1492.5,591.0 1492.7,590.1 1492.9,602.6 1493.0,593.6 1493.2,590.4 1493.4,597.7 1493.5,589.4 1493.7,599.2 1493.9,600.8 1494.0,598.1 1494.2,603.9 1494.4,586.5 1494.5,588.9 1494.7,586.9 1494.9,599.7 1495.0,597.0 1495.2,594.2 1495.4,592.7 1495.5,596.1 1495.7,605.2 1495.9,589.5 1496.0,603.1 1496.2,595.6 1496.4,602.5 1496.5,592.5 1496.7,598.2 1496.9,589.4 1497.0,607.2 1497.2,600.2 1497.4,597.4 1497.5,589.1 1497.7,596.1 1497.9,591.1 1498.0,586.9 1498.2,597.3 1498.4,591.1 1498.5,589.6 1498.7,599.3 1498.9,598.7 1499.0,592.0 1499.2,589.6 1499.4,593.0 1499.5,601.9 1499.7,590.1 1499.9,593.6 1500.0,590.2 1500.2,593.8 1500.4,595.1 1500.5,601.3 1500.7,604.0 1500.9,588.8 1501.0,603.0 1501.2,592.2 1501.4,599.2 1501.5,596.7 1501.7,592.4 1501.9,589.4 1502.0,596.1 1502.2,597.5 1502.4,596.9 1502.5,592.9 1502.7,602.9 1502.9,603.8 1503.0,595.5 1503.2,586.4 1503.4,598.6 1503.5,590.9 1503.7,603.1 1503.9,592.9 1504.0,595.8 1504.2,604.3 1504.4,589.5 1504.5,598.4 1504.7,598.1 1504.9,594.7 1505.0,592.0 1505.2,602.8 1505.4,593.1 1505.5,579.7 1505.7,591.0 1505.9,590.7 1506.0,596.9 1506.2,599.6 1506.4,592.8 1506.5,600.3 1506.7,591.4 1506.9,593.6 1507.0,587.4 1507.2,599.3 1507.4,601.5 1507.5,584.4 1507.7,584.2 1507.9,591.7 1508.0,594.2 1508.2,599.2 1508.4,588.0 1508.5,580.1 1508.7,594.8 1508.9,592.7 1509.0,585.6 1509.2,608.0 1509.4,582.9 1509.5,600.0 1509.7,600.2 1509.9,592.7 1510.0,594.5 1510.2,600.2 1510.4,596.7 1510.5,582.0 1510.7,584.3 1510.9,596.4 1511.0,587.4 1511.2,601.2 1511.4,592.8 1511.5,597.6 1511.7,593.9 1511.9,586.9 1512.0,598.2 1512.2,592.9 1512.4,597.0 1512.5,593.8 1512.7,587.5 1512.9,589.1 1513.0,590.4 1513.2,584.2 1513.4,606.1 1513.5,592.4 1513.7,584.2 1513.9,588.3 1514.0,600.4 1514.2,598.8 1514.4,585.5 1514.5,586.1 1514.7,583.3 1514.9,594.6 1515.0,591.5 1515.2,600.2 1515.4,603.3 1515.5,596.7 1515.7,586.6 1515.9,588.5 1516.0,590.7 1516.2,589.6 1516.4,600.1 1516.5,584.9 1516.7,596.8 1516.9,590.6 1517.0,597.1 1517.2,596.8 1517.4,599.4 1517.5,599.8 1517.7,599.0 1517.9,586.5 1518.0,587.7 1518.2,590.2 1518.4,581.1 1518.5,600.0 1518.7,587.0 1518.9,581.3 1519.0,583.4 1519.2,586.8 1519.4,597.5 1519.5,582.3 1519.7,582.3 1519.9,600.7 1520.0,592.6 1520.2,593.0 1520.4,580.8 1520.5,581.9 1520.7,589.7 1520.9,591.5 1521.0,578.8 1521.2,582.1 1521.4,583.2 1521.5,586.2 1521.7,585.4 1521.9,594.5 1522.0,581.8 1522.2,590.5 1522.4,583.9 1522.5,580.6 1522.7,584.5 1522.9,588.9 1523.0,580.2 1523.2,594.5 1523.4,584.2 1523.5,582.9 1523.7,583.9 1523.9,577.8 1524.0,589.0 1524.2,586.3 1524.4,587.9 1524.5,578.5 1524.7,583.7 1524.9,577.9 1525.0,593.2 1525.2,591.1 1525.4,580.9 1525.5,584.2 1525.7,589.5 1525.9,594.9 1526.0,574.1 1526.2,592.8 1526.4,592.0 1526.5,591.0 1526.7,582.6 1526.9,583.5 1527.0,571.3 1527.2,592.0 1527.4,583.9 1527.5,594.4 1527.7,591.9 1527.9,578.7 1528.0,587.1 1528.2,590.8 1528.4,582.5 1528.5,592.1 1528.7,582.3 1528.9,585.9 1529.0,584.7 1529.2,578.4 1529.4,583.7 1529.5,584.9 1529.7,590.5 1529.9,583.8 1530.0,582.6 1530.2,593.8 1530.4,579.8 1530.5,595.2 1530.7,581.3 1530.9,577.8 1531.0,583.5 1531.2,582.6 1531.4,587.1 1531.5,579.5 1531.7,592.4 1531.9,581.3 1532.0,580.4 1532.2,580.3 1532.4,596.0 1532.5,589.1 1532.7,580.4 1532.9,589.8 1533.0,591.1 1533.2,591.0 1533.4,585.0 1533.5,577.6 1533.7,583.9 1533.9,594.0 1534.0,585.1 1534.2,578.3 1534.4,577.6 1534.5,591.2 1534.7,590.8 1534.9,587.2 1535.0,591.3 1535.2,584.2 1535.4,583.0 1535.5,588.8 1535.7,589.3 1535.9,583.9 1536.0,585.7 1536.2,588.7 1536.4,583.9 1536.5,585.0 1536.7,582.6 1536.9,584.5 1537.0,593.7 1537.2,581.0 1537.4,588.2 1537.5,578.0 1537.7,581.4 1537.9,588.2 1538.0,585.5 1538.2,598.4 1538.4,588.2 1538.5,587.4 1538.7,589.4 1538.9,594.8 1539.0,594.0 1539.2,577.9 1539.4,589.0 1539.5,594.2 1539.7,580.9 1539.9,578.2 1540.0,577.3 1540.2,576.3 1540.4,582.6 1540.5,579.6 1540.7,591.0 1540.9,584.9 1541.0,591.7 1541.2,583.7 1541.4,591.9 1541.5,573.8 1541.7,584.6 1541.9,590.9 1542.0,581.8 1542.2,577.5 1542.4,581.9 1542.5,594.5 1542.7,582.5 1542.9,586.4 1543.0,594.8 1543.2,595.4 1543.4,576.6 1543.5,583.8 1543.7,579.0 1543.9,590.8 1544.0,594.1 1544.2,600.4 1544.4,590.0 1544.5,576.1 1544.7,576.8 1544.9,582.6 1545.0,590.1 1545.2,586.4 1545.4,591.4 1545.5,594.4 1545.7,577.9 1545.9,592.2 1546.0,583.8 1546.2,577.2 1546.4,582.6 1546.5,584.0 1546.7,584.1 1546.9,582.1 1547.0,585.2 1547.2,592.8 1547.4,588.4 1547.5,584.3 1547.7,585.9 1547.9,582.4 1548.0,585.6 1548.2,588.3 1548.4,593.7 1548.5,581.0 1548.7,584.1 1548.9,581.2 1549.0,583.7 1549.2,591.5 1549.4,584.3 1549.5,579.9 1549.7,586.8 1549.9,579.5 1550.0,591.0 1550.2,584.0 1550.4,591.2 1550.5,586.3 1550.7,577.7 1550.9,584.6 1551.0,575.5 1551.2,576.7 1551.4,579.5 1551.5,578.4 1551.7,582.2 1551.9,577.3 1552.0,579.9 1552.2,588.5 1552.4,590.6 1552.5,578.4 1552.7,576.0 1552.9,593.3 1553.0,586.0 1553.2,586.0 1553.4,587.3 1553.5,589.1 1553.7,583.5 1553.9,582.1 1554.0,583.8 1554.2,579.2 1554.4,592.7 1554.5,584.5 1554.7,578.2 1554.9,584.7 1555.0,582.4 1555.2,590.5 1555.4,590.2 1555.5,585.4 1555.7,581.5 1555.9,577.7 1556.0,592.8 1556.2,592.3 1556.4,582.4 1556.5,586.9 1556.7,589.6 1556.9,577.4 1557.0,577.6 1557.2,591.5 1557.4,598.7 1557.5,585.2 1557.7,579.7 1557.9,589.3 1558.0,580.0 1558.2,579.0 1558.4,580.1 1558.5,586.3 1558.7,589.4 1558.9,573.6 1559.0,578.8 1559.2,586.4 1559.4,577.2 1559.5,573.8 1559.7,576.8 1559.9,578.5 1560.0,585.2 1560.2,580.2 1560.4,585.0 1560.5,579.3 1560.7,588.5 1560.9,587.4 1561.0,590.1 1561.2,573.7 1561.4,590.4 1561.5,585.1 1561.7,594.7 1561.9,574.6 1562.0,577.1 1562.2,590.8 1562.4,590.4 1562.5,591.3 1562.7,577.6 1562.9,573.3 1563.0,575.5 1563.2,582.5 1563.4,579.4 1563.5,583.9 1563.7,576.2 1563.9,590.9 1564.0,579.4 1564.2,579.6 1564.4,584.3 1564.5,579.2 1564.7,587.2 1564.9,579.3 1565.0,584.6 1565.2,574.3 1565.4,573.9 1565.5,590.3 1565.7,579.9 1565.9,577.0 1566.0,577.7 1566.2,586.6 1566.4,586.9 1566.5,580.6 1566.7,572.5 1566.9,582.7 1567.0,573.1 1567.2,585.7 1567.4,577.2 1567.5,577.6 1567.7,575.8 1567.9,589.7 1568.0,577.1 1568.2,585.7 1568.4,574.0 1568.5,574.7 1568.7,583.6 1568.9,579.7 1569.0,585.5 1569.2,578.3 1569.4,586.2 1569.5,575.3 1569.7,571.7 1569.9,589.6 1570.0,585.0 1570.2,575.7 1570.4,583.2 1570.5,576.0 1570.7,578.7 1570.9,578.5 1571.0,576.5 1571.2,585.0 1571.4,578.7 1571.5,581.8 1571.7,578.0 1571.9,588.6 1572.0,590.4 1572.2,586.7 1572.4,589.1 1572.5,585.2 1572.7,572.2 1572.9,578.2 1573.0,578.5 1573.2,571.6 1573.4,584.5 1573.5,579.5 1573.7,584.4 1573.9,586.3 1574.0,572.1 1574.2,576.3 1574.4,565.0 1574.5,579.5 1574.7,580.0 1574.9,576.3 1575.0,572.8 1575.2,574.5 1575.4,579.1 1575.5,582.1 1575.7,581.8 1575.9,575.7 1576.0,586.2 1576.2,572.7 1576.4,586.8 1576.5,577.2 1576.7,584.9 1576.9,588.4 1577.0,579.9 1577.2,574.8 1577.4,579.7 1577.5,579.1 1577.7,572.8 1577.9,580.4 1578.0,581.1 1578.2,575.4 1578.4,589.5 1578.5,580.3 1578.7,573.1 1578.9,571.7 1579.0,575.7 1579.2,564.2 1579.4,586.0 1579.5,570.0 1579.7,577.5 1579.9,586.7 1580.0,574.7 1580.2,581.7 1580.4,581.4 1580.5,580.9 1580.7,575.9 1580.9,570.1 1581.0,580.3 1581.2,580.7 1581.4,580.9 1581.5,571.8 1581.7,563.7 1581.9,583.1 1582.0,574.5 1582.2,584.6 1582.4,573.5 1582.5,578.3 1582.7,576.5 1582.9,579.5 1583.0,586.3 1583.2,573.7 1583.4,580.5 1583.5,584.0 1583.7,582.6 1583.9,577.6 1584.0,578.7 1584.2,585.4 1584.4,574.8 1584.5,583.8 1584.7,574.5 1584.9,579.8 1585.0,589.7 1585.2,572.4 1585.4,589.4 1585.5,579.1 1585.7,588.6 1585.9,568.3 1586.0,587.5 1586.2,587.6 1586.4,573.8 1586.5,585.7 1586.7,572.9 1586.9,577.2 1587.0,576.2 1587.2,578.0 1587.4,574.6 1587.5,570.3 1587.7,587.0 1587.9,576.7 1588.0,585.5 1588.2,580.3 1588.4,575.5 1588.5,562.5 1588.7,581.4 1588.9,586.5 1589.0,570.8 1589.2,577.9 1589.4,584.3 1589.5,585.5 1589.7,578.5 1589.9,577.6 1590.0,567.0 1590.2,572.4 1590.4,573.4 1590.5,575.5 1590.7,581.9 1590.9,578.2 1591.0,570.6 1591.2,574.9 1591.4,575.0 1591.5,577.2 1591.7,575.6 1591.9,571.4 1592.0,571.8 1592.2,577.8 1592.4,572.2 1592.5,574.1 1592.7,571.9 1592.9,571.1 1593.0,573.4 1593.2,586.1 1593.4,577.8 1593.5,576.9 1593.7,585.6 1593.9,577.7 1594.0,582.3 1594.2,578.1 1594.4,578.3 1594.5,570.2 1594.7,577.7 1594.9,576.2 1595.0,579.8 1595.2,576.7 1595.4,586.3 1595.5,573.4 1595.7,584.8 1595.9,565.6 1596.0,570.9 1596.2,569.9 1596.4,581.9 1596.5,582.3 1596.7,580.5 1596.9,573.1 1597.0,567.5 1597.2,570.4 1597.4,569.2 1597.5,592.8 1597.7,580.3 1597.9,584.2 1598.0,576.2 1598.2,585.7 1598.4,574.9 1598.5,574.5 1598.7,575.9 1598.9,578.0 1599.0,580.9 1599.2,571.1 1599.4,573.2 1599.5,567.2 1599.7,572.8 1599.9,581.7 1600.0,567.0 1600.2,583.5 1600.4,579.2 1600.5,574.6 1600.7,572.8 1600.9,579.1 1601.0,580.6 1601.2,573.1 1601.4,573.7 1601.5,583.0 1601.7,568.1 1601.9,571.3 1602.0,574.4 1602.2,567.9 1602.4,562.5 1602.5,579.0 1602.7,566.7 1602.9,584.7 1603.0,592.0 1603.2,575.4 1603.4,580.1 1603.5,579.2 1603.7,581.1 1603.9,572.8 1604.0,567.0 1604.2,578.0 1604.4,569.3 1604.5,577.4 1604.7,576.6 1604.9,585.5 1605.0,577.2 1605.2,584.9 1605.4,578.6 1605.5,580.9 1605.7,579.4 1605.9,587.8 1606.0,562.1 1606.2,580.0 1606.4,573.3 1606.5,575.0 1606.7,584.1 1606.9,584.7 1607.0,571.5 1607.2,579.6 1607.4,568.7 1607.5,569.6 1607.7,566.0 1607.9,568.5 1608.0,562.9 1608.2,584.1 1608.4,566.4 1608.5,584.8 1608.7,578.1 1608.9,570.3 1609.0,578.5 1609.2,577.6 1609.4,580.1 1609.5,581.2 1609.7,584.9 1609.9,576.3 1610.0,577.4 1610.2,572.5 1610.4,581.7 1610.5,568.0 1610.7,566.2 1610.9,576.1 1611.0,568.9 1611.2,567.7 1611.4,580.4 1611.5,570.0 1611.7,577.0 1611.9,579.6 1612.0,591.0 1612.2,572.8 1612.4,571.3 1612.5,584.5 1612.7,573.5 1612.9,584.8 1613.0,568.5 1613.2,585.5 1613.4,566.6 1613.5,573.0 1613.7,581.3 1613.9,562.2 1614.0,579.7 1614.2,570.1 1614.4,590.5 1614.5,558.4 1614.7,567.4 1614.9,567.9 1615.0,584.2 1615.2,575.2 1615.4,575.7 1615.5,564.9 1615.7,579.7 1615.9,569.1 1616.0,578.2 1616.2,569.9 1616.4,564.4 1616.5,569.9 1616.7,576.8 1616.9,566.4 1617.0,580.5 1617.2,569.7 1617.4,580.0 1617.5,577.2 1617.7,571.4 1617.9,562.0 1618.0,590.3 1618.2,574.1 1618.4,569.3 1618.5,576.8 1618.7,569.0 1618.9,572.6 1619.0,580.8 1619.2,569.6 1619.4,578.9 1619.5,583.9 1619.7,575.7 1619.9,572.2 1620.0,574.0 1620.2,574.2 1620.4,576.2 1620.5,577.1 1620.7,577.2 1620.9,573.1 1621.0,568.8 1621.2,573.0 1621.4,578.5 1621.5,564.4 1621.7,574.4 1621.9,576.2 1622.0,583.5 1622.2,581.7 1622.4,571.5 1622.5,581.1 1622.7,571.2 1622.9,568.9 1623.0,578.7 1623.2,566.6 1623.4,572.5 1623.5,576.7 1623.7,581.8 1623.9,576.7 1624.0,577.7 1624.2,572.4 1624.4,576.2 1624.5,582.8 1624.7,563.8 1624.9,566.8 1625.0,582.6 1625.2,570.8 1625.4,568.6 1625.5,587.0 1625.7,556.9 1625.9,565.0 1626.0,564.7 1626.2,582.7 1626.4,570.6 1626.5,578.1 1626.7,573.9 1626.9,580.0 1627.0,589.3 1627.2,577.3 1627.4,569.3 1627.5,571.9 1627.7,572.5 1627.9,566.8 1628.0,569.8 1628.2,582.2 1628.4,581.2 1628.5,568.4 1628.7,561.2 1628.9,564.3 1629.0,567.2 1629.2,578.1 1629.4,582.6 1629.5,579.0 1629.7,572.5 1629.9,572.2 1630.0,584.3 1630.2,579.7 1630.4,575.0 1630.5,580.7 1630.7,575.9 1630.9,566.9 1631.0,579.0 1631.2,582.3 1631.4,582.7 1631.5,562.3 1631.7,568.3 1631.9,581.9 1632.0,563.7 1632.2,566.6 1632.4,578.9 1632.5,559.1 1632.7,580.3 1632.9,574.0 1633.0,582.0 1633.2,568.8 1633.4,568.3 1633.5,564.8 1633.7,566.3 1633.9,579.8 1634.0,574.0 1634.2,566.0 1634.4,562.8 1634.5,581.0 1634.7,572.1 1634.9,567.9 1635.0,566.2 1635.2,581.9 1635.4,566.2 1635.5,577.0 1635.7,565.8 1635.9,565.9 1636.0,564.0 1636.2,570.9 1636.4,569.6 1636.5,571.6 1636.7,562.9 1636.9,573.7 1637.0,562.3 1637.2,559.6 1637.4,567.7 1637.5,584.0 1637.7,570.3 1637.9,579.8 1638.0,564.1 1638.2,575.3 1638.4,570.1 1638.5,567.7 1638.7,567.5 1638.9,565.4 1639.0,566.6 1639.2,570.3 1639.4,567.7 1639.5,563.5 1639.7,571.8 1639.9,578.7 1640.0,573.3 1640.2,574.3 1640.4,575.3 1640.5,577.3 1640.7,579.5 1640.9,579.3 1641.0,563.5 1641.2,566.1 1641.4,563.0 1641.5,577.1 1641.7,573.4 1641.9,567.4 1642.0,575.9 1642.2,576.7 1642.4,576.9 1642.5,571.8 1642.7,571.3 1642.9,563.9 1643.0,569.0 1643.2,577.3 1643.4,578.6 1643.5,565.6 1643.7,566.1 1643.9,578.5 1644.0,567.9 1644.2,560.9 1644.4,573.6 1644.5,567.0 1644.7,565.0 1644.9,563.4 1645.0,561.2 1645.2,580.0 1645.4,578.3 1645.5,568.1 1645.7,576.4 1645.9,561.5 1646.0,564.0 1646.2,561.4 1646.4,571.5 1646.5,576.3 1646.7,562.4 1646.9,581.1 1647.0,572.5 1647.2,560.6 1647.4,567.4 1647.5,559.8 1647.7,571.9 1647.9,567.5 1648.0,575.1 1648.2,559.4 1648.4,553.1 1648.5,568.0 1648.7,560.2 1648.9,573.5 1649.0,576.5 1649.2,574.4 1649.4,572.1 1649.5,569.7 1649.7,571.4 1649.9,578.0 1650.0,569.7 1650.2,560.1 1650.4,577.2 1650.5,562.4 1650.7,584.9 1650.9,570.9 1651.0,562.3 1651.2,567.3 1651.4,569.9 1651.5,567.1 1651.7,574.8 1651.9,558.6 1652.0,570.1 1652.2,576.0 1652.4,561.2 1652.5,565.3 1652.7,565.4 1652.9,566.2 1653.0,563.4 1653.2,565.6 1653.4,561.2 1653.5,553.6 1653.7,566.0 1653.9,561.8 1654.0,567.4 1654.2,573.7 1654.4,560.6 1654.5,564.4 1654.7,577.5 1654.9,564.8 1655.0,570.4 1655.2,573.3 1655.4,559.6 1655.5,577.1 1655.7,561.1 1655.9,565.3 1656.0,557.3 1656.2,572.4 1656.4,565.3 1656.5,575.8 1656.7,569.9 1656.9,570.1 1657.0,560.6 1657.2,565.0 1657.4,559.5 1657.5,574.4 1657.7,566.3 1657.9,565.3 1658.0,564.2 1658.2,560.4 1658.4,575.2 1658.5,573.0 1658.7,556.6 1658.9,570.1 1659.0,567.9 1659.2,568.5 1659.4,562.0 1659.5,575.8 1659.7,560.5 1659.9,567.7 1660.0,574.0 1660.2,572.9 1660.4,553.5 1660.5,571.6 1660.7,561.4 1660.9,574.3 1661.0,551.3 1661.2,557.5 1661.4,566.0 1661.5,560.8 1661.7,563.0 1661.9,569.1 1662.0,557.7 1662.2,562.0 1662.4,567.0 1662.5,568.5 1662.7,562.2 1662.9,556.0 1663.0,564.0 1663.2,555.8 1663.4,555.3 1663.5,561.6 1663.7,561.2 1663.9,556.6 1664.0,568.4 1664.2,570.8 1664.4,565.2 1664.5,558.5 1664.7,554.3 1664.9,568.5 1665.0,560.6 1665.2,571.8 1665.4,564.2 1665.5,574.2 1665.7,574.3 1665.9,565.6 1666.0,557.4 1666.2,559.9 1666.4,569.9 1666.5,560.3 1666.7,558.9" stroke="#ff0000" stroke-width="1" fill="none" shape-rendering="crispEdges"/>
<polyline points="75.6,633.4 76.4,633.7 77.1,628.1 77.9,631.1 78.7,634.8 79.4,634.5 80.2,643.5 81.0,638.9 81.7,628.0 82.5,629.7 83.2,638.3 84.0,639.6 84.7,640.0 85.5,636.8 86.3,631.4 87.0,632.0 87.8,638.1 88.5,632.8 89.3,632.1 90.0,630.7 90.7,635.0 91.5,639.9 92.2,634.8 93.0,636.6 93.7,632.7 94.4,632.1 95.2,635.1 95.9,636.8 96.7,629.5 97.4,639.7 98.1,633.7 98.9,640.0 99.6,628.9 100.3,639.5 101.0,635.2 101.8,632.5 102.5,630.8 103.2,635.0 104.0,636.4 104.7,637.0 105.4,633.4 106.1,634.0 106.8,624.3 107.6,634.5 108.3,640.2 109.0,633.6 109.7,635.6 110.4,637.2 111.1,636.2 111.8,639.0 112.5,633.3 113.3,631.2 114.0,635.5 114.7,630.1 115.4,638.7 116.1,628.0 116.8,629.6 117.5,634.4 118.2,632.5 118.9,631.3 119.6,638.8 120.3,637.9 121.0,632.7 121.7,638.2 122.4,633.5 123.1,638.0 123.8,632.5 124.5,633.0 125.1,638.3 125.8,641.4 126.5,631.5 127.2,638.6 127.9,637.5 128.6,641.3 129.3,639.9 129.9,639.4 130.6,639.7 131.3,637.4 132.0,646.5 132.7,645.4 133.4,636.3 134.0,641.0 134.7,636.0 135.4,639.7 136.1,637.7 136.7,637.5 137.4,633.3 138.1,641.4 138.7,644.1 139.4,647.5 140.1,640.9 140.7,638.7 141.4,637.1 142.1,639.5 142.7,648.6 143.4,643.7 144.1,637.6 144.7,637.4 145.4,639.4 146.1,647.2 146.7,645.3 147.4,643.8 148.0,645.0 148.7,637.4 149.3,642.1 150.0,648.3 150.6,642.6 151.3,634.7 151.9,642.4 152.6,641.5 153.2,650.1 153.9,639.2 154.5,640.3 155.2,643.2 155.8,645.1 156.5,643.7 157.1,643.2 157.8,652.1 158.4,644.7 159.0,647.1 159.7,642.6 160.3,643.0 161.0,641.9 161.6,652.5 162.2,651.3 162.9,650.8 163.5,641.6 164.1,645.5 164.8,641.8 165.4,641.7 166.0,651.1 166.7,645.8 167.3,641.7 167.9,643.6 168.6,651.3 169.2,647.8 169.8,649.9 170.4,653.6 171.1,646.2 171.7,651.1 172.3,645.9 172.9,647.9 173.5,645.3 174.2,654.5 174.8,653.5 175.4,654.2 176.0,646.6 176.6,652.3 177.2,651.5 177.9,651.1 178.5,654.2 179.1,656.5 179.7,647.6 180.3,646.5 180.9,645.7 181.5,649.0 182.1,647.0 182.8,654.3 183.4,647.4 184.0,653.8 184.6,646.4 185.2,656.4 185.8,658.4 186.4,649.3 187.0,652.2 187.6,650.2 188.2,654.5 188.8,654.1 189.4,657.5 190.0,652.2 190.6,659.9 191.2,651.0 191.8,659.6 192.4,660.8 193.0,653.7 193.6,658.6 194.2,659.4 194.7,650.3 195.3,656.6 195.9,660.8 196.5,646.4 197.1,656.5 197.7,661.5 198.3,655.3 198.9,654.8 199.5,657.6 200.0,652.8 200.6,659.8 201.2,653.7 201.8,650.8 202.4,659.3 203.0,660.4 203.5,652.5 204.1,651.9 204.7,659.7 205.3,658.2 205.9,658.6 206.4,655.1 207.0,656.5 207.6,653.3 208.2,652.1 208.7,655.1 209.3,651.7 209.9,667.3 210.5,648.3 211.0,652.4 211.6,656.0 212.2,656.6 212.7,662.3 213.3,655.5 213.9,657.9 214.4,661.0 215.0,664.0 215.6,658.6 216.1,657.8 216.7,655.3 217.3,656.8 217.8,658.4 218.4,657.6 219.0,658.2 219.5,665.6 220.1,657.4 220.6,658.1 221.2,664.6 221.8,661.6 222.3,662.6 222.9,660.7 223.4,655.9 224.0,664.3 224.5,662.1 225.1,662.6 225.6,662.7 226.2,660.6 226.7,658.7 227.3,663.3 227.8,663.6 228.4,659.7 228.9,664.1 229.5,665.3 230.0,664.0 230.6,660.8 231.1,664.8 231.7,658.4 232.2,667.2 232.8,658.6 233.3,667.7 233.9,660.3 234.4,658.5 234.9,664.5 235.5,666.5 236.0,661.8 236.6,660.8 237.1,669.2 237.6,658.4 238.2,669.1 238.7,662.6 239.3,666.8 239.8,663.6 240.3,660.1 240.9,660.6 241.4,658.9 241.9,667.6 242.5,664.1 243.0,659.0 243.5,663.7 244.1,666.2 244.6,666.1 245.1,664.6 245.7,657.9 246.2,665.6 246.7,663.7 247.2,663.4 247.8,663.2 248.3,666.1 248.8,659.6 249.3,668.6 249.9,668.8 250.4,668.1 250.9,664.8 251.4,656.7 252.0,666.0 252.5,662.8 253.0,663.4 253.5,661.5 254.0,662.2 254.6,672.9 255.1,667.6 255.6,671.0 256.1,662.7 256.6,672.3 257.1,672.5 257.7,673.9 258.2,672.8 258.7,670.1 259.2,669.3 259.7,665.8 260.2,666.6 260.7,668.7 261.3,666.3 261.8,667.9 262.3,668.1 262.8,667.3 263.3,666.8 263.8,672.2 264.3,671.7 264.8,668.8 265.3,670.5 265.8,670.7 266.3,670.1 266.8,673.8 267.3,667.1 267.9,670.6 268.4,665.9 268.9,671.8 269.4,667.5 269.9,665.0 270.4,675.5 270.9,676.6 271.4,668.4 271.9,670.2 272.4,675.0 272.9,666.9 273.4,667.5 273.9,666.4 274.4,674.6 274.9,673.6 275.3,669.3 275.8,677.0 276.3,667.6 276.8,673.2 277.3,673.9 277.8,667.7 278.3,673.1 278.8,677.4 279.3,670.8 279.8,670.9 280.3,671.8 280.8,671.7 281.3,669.5 281.7,673.5 282.2,675.6 282.7,678.0 283.2,675.2 283.7,674.5 284.2,676.4 284.7,675.8 285.2,673.7 285.6,676.3 286.1,667.5 286.6,670.4 287.1,671.4 287.6,677.9 288.1,676.7 288.5,676.5 289.0,673.1 289.5,668.4 290.0,663.6 290.5,667.7 290.9,676.8 291.4,671.9 291.9,673.5 292.4,668.7 292.8,678.0 293.3,673.5 293.8,671.2 294.3,674.0 294.8,675.6 295.2,676.9 295.7,678.9 296.2,675.9 296.6,676.4 297.1,680.1 297.6,677.3 298.1,673.3 298.5,670.0 299.0,674.7 299.5,668.8 299.9,680.1 300.4,671.2 300.9,681.1 301.3,673.8 301.8,673.9 302.3,677.0 302.8,677.7 303.2,679.7 303.7,680.0 304.1,679.3 304.6,673.5 305.1,671.3 305.5,681.7 306.0,673.2 306.5,671.2 306.9,680.6 307.4,675.4 307.9,681.5 308.3,672.8 308.8,686.6 309.2,681.0 309.7,671.6 310.2,677.7 310.6,673.5 311.1,673.4 311.5,679.3 312.0,676.0 312.4,679.1 312.9,681.6 313.4,682.7 313.8,678.9 314.3,677.9 314.7,679.7 315.2,676.5 315.6,685.1 316.1,686.9 316.5,686.8 317.0,690.8 317.4,681.9 317.9,682.3 318.3,685.4 318.8,681.6 319.2,681.2 319.7,685.8 320.1,681.5 320.6,678.9 321.0,687.9 321.5,688.4 321.9,690.9 322.4,687.8 322.8,691.1 323.3,688.6 323.7,691.7 324.2,684.5 324.6,690.3 325.1,689.8 325.5,690.2 325.9,683.7 326.4,688.8 326.8,686.3 327.3,684.5 327.7,689.4 328.2,688.9 328.6,685.2 329.0,692.0 329.5,684.4 329.9,686.6 330.4,690.7 330.8,694.2 331.2,691.1 331.7,688.1 332.1,688.0 332.5,690.8 333.0,696.0 333.4,690.5 333.9,687.5 334.3,694.3 334.7,691.7 335.2,698.0 335.6,692.3 336.0,698.5 336.5,696.6 336.9,698.0 337.3,700.5 337.8,694.5 338.2,696.4 338.6,694.5 339.0,701.0 339.5,693.6 339.9,698.9 340.3,690.8 340.8,701.2 341.2,698.0 341.6,702.1 342.1,699.6 342.5,695.7 342.9,697.5 343.3,698.1 343.8,697.3 344.2,698.7 344.6,699.2 345.0,702.1 345.5,693.6 345.9,700.5 346.3,702.5 346.7,702.4 347.2,697.5 347.6,701.3 348.0,700.4 348.4,699.5 348.8,701.8 349.3,697.8 349.7,701.1 350.1,700.5 350.5,704.9 350.9,701.3 351.4,700.0 351.8,696.7 352.2,704.9 352.6,706.0 353.0,699.4 353.5,701.3 353.9,703.6 354.3,704.5 354.7,705.1 355.1,705.6 355.5,698.5 356.0,699.9 356.4,703.7 356.8,704.7 357.2,694.4 357.6,710.4 358.0,702.5 358.4,707.9 358.9,705.2 359.3,703.0 359.7,707.6 360.1,704.2 360.5,695.9 360.9,704.8 361.3,701.7 361.7,703.5 362.1,700.2 362.5,700.6 363.0,703.7 363.4,699.5 363.8,710.4 364.2,704.3 364.6,702.9 365.0,702.2 365.4,710.9 365.8,710.6 366.2,707.9 366.6,705.1 367.0,703.7 367.4,705.5 367.8,705.4 368.2,704.7 368.6,705.3 369.0,711.6 369.4,711.6 369.8,707.5 370.2,709.3 370.7,704.1 371.1,705.4 371.5,705.9 371.9,703.7 372.3,704.9 372.7,707.7 373.1,713.9 373.5,713.3 373.9,708.1 374.3,707.0 374.7,704.2 375.0,711.2 375.4,714.0 375.8,703.7 376.2,705.7 376.6,709.1 377.0,711.3 377.4,705.5 377.8,704.9 378.2,714.8 378.6,710.3 379.0,714.6 379.4,708.6 379.8,707.2 380.2,702.8 380.6,714.1 381.0,702.8 381.4,710.4 381.8,699.0 382.2,712.3 382.5,710.6 382.9,706.8 383.3,704.6 383.7,706.6 384.1,704.5 384.5,703.1 384.9,709.0 385.3,709.6 385.7,710.1 386.1,706.5 386.4,717.1 386.8,713.5 387.2,707.1 387.6,702.8 388.0,701.7 388.4,709.7 388.8,709.4 389.1,712.7 389.5,701.5 389.9,705.1 390.3,708.4 390.7,707.1 391.1,710.6 391.5,716.3 391.8,704.6 392.2,702.8 392.6,707.2 393.0,711.8 393.4,701.2 393.8,703.5 394.1,711.8 394.5,711.4 394.9,706.4 395.3,696.6 395.7,709.9 396.0,700.5 396.4,707.6 396.8,695.7 397.2,709.6 397.6,699.1 397.9,703.9 398.3,704.5 398.7,707.0 399.1,703.6 399.4,709.7 399.8,704.7 400.2,705.8 400.6,713.2 400.9,702.4 401.3,706.8 401.7,697.6 402.1,700.9 402.4,698.1 402.8,698.1 403.2,698.7 403.6,704.7 403.9,700.2 404.3,702.1 404.7,703.5 405.1,704.4 405.4,703.8 405.8,698.8 406.2,701.1 406.5,698.8 406.9,700.8 407.3,697.5 407.7,706.8 408.0,705.0 408.4,698.5 408.8,695.8 409.1,705.7 409.5,706.5 409.9,699.2 410.2,697.6 410.6,700.9 411.0,696.9 411.3,696.4 411.7,696.8 412.1,705.4 412.4,697.7 412.8,706.2 413.2,703.5 413.5,703.9 413.9,697.4 414.3,705.4 414.6,704.1 415.0,699.4 415.4,701.4 415.7,695.2 416.1,695.2 416.5,703.2 416.8,696.2 417.2,702.7 417.5,702.7 417.9,694.3 418.3,705.9 418.6,695.2 419.0,701.1 419.4,708.4 419.7,702.4 420.1,706.3 420.4,697.4 420.8,695.2 421.2,704.5 421.5,697.6 421.9,696.9 422.2,704.2 422.6,702.8 422.9,708.2 423.3,692.4 423.7,704.3 424.0,698.4 424.4,701.2 424.7,701.8 425.1,702.5 425.4,698.3 425.8,703.5 426.2,698.5 426.5,708.2 426.9,699.2 427.2,693.1 427.6,704.8 427.9,703.5 428.3,701.2 428.6,696.5 429.0,695.6 429.3,704.9 429.7,692.8 430.0,701.6 430.4,700.7 430.8,696.5 431.1,699.6 431.5,705.5 431.8,696.5 432.2,696.2 432.5,699.0 432.9,697.8 433.2,696.6 433.6,701.8 433.9,700.6 434.3,705.0 434.6,704.8 435.0,699.1 435.3,701.8 435.7,706.3 436.0,697.2 436.3,702.3 436.7,705.8 437.0,708.8 437.4,705.1 437.7,706.4 438.1,702.7 438.4,698.6 438.8,704.5 439.1,702.3 439.5,705.8 439.8,697.8 440.2,703.2 440.5,703.8 440.8,701.6 441.2,701.9 441.5,696.4 441.9,698.4 442.2,701.6 442.6,696.2 442.9,703.9 443.2,695.3 443.6,691.1 443.9,705.2 444.3,696.2 444.6,704.8 445.0,706.0 445.3,703.5 445.6,705.7 446.0,701.9 446.3,695.6 446.7,694.7 447.0,700.0 447.3,702.1 447.7,703.6 448.0,703.9 448.4,700.1 448.7,700.2 449.0,691.1 449.4,700.4 449.7,697.8 450.0,695.5 450.4,706.2 450.7,703.8 451.1,691.1 451.4,700.0 451.7,697.0 452.1,704.5 452.4,705.7 452.7,700.6 453.1,695.1 453.4,696.8 453.7,704.4 454.1,698.7 454.4,694.9 454.7,697.0 455.1,698.2 455.4,700.8 455.7,705.9 456.1,698.5 456.4,695.4 456.7,703.4 457.1,697.6 457.4,695.4 457.7,703.3 458.1,700.9 458.4,695.1 458.7,696.4 459.1,695.2 459.4,693.6 459.7,701.7 460.0,709.8 460.4,705.3 460.7,703.4 461.0,704.1 461.4,701.0 461.7,700.5 462.0,697.0 462.3,697.5 462.7,698.1 463.0,702.7 463.3,701.6 463.7,698.0 464.0,695.6 464.3,701.5 464.6,698.1 465.0,705.2 465.3,704.4 465.6,701.9 465.9,695.6 466.3,702.9 466.6,704.5 466.9,700.9 467.2,700.0 467.6,704.3 467.9,695.6 468.2,704.3 468.5,703.0 468.9,705.0 469.2,697.4 469.5,704.8 469.8,706.4 470.2,706.4 470.5,702.2 470.8,705.0 471.1,705.0 471.4,698.8 471.8,703.8 472.1,696.4 472.4,697.1 472.7,702.8 473.0,705.9 473.4,698.9 473.7,705.1 474.0,703.0 474.3,704.9 474.6,696.0 475.0,702.8 475.3,704.5 475.6,708.2 475.9,697.6 476.2,705.3 476.6,697.0 476.9,700.1 477.2,704.4 477.5,704.4 477.8,691.9 478.1,703.5 478.5,700.1 478.8,699.2 479.1,700.0 479.4,697.7 479.7,706.1 480.0,698.4 480.4,696.0 480.7,699.3 481.0,692.1 481.3,706.6 481.6,704.1 481.9,708.3 482.2,710.8 482.6,697.6 482.9,697.9 483.2,705.0 483.5,698.4 483.8,705.2 484.1,705.0 484.4,699.5 484.8,696.6 485.1,696.0 485.4,702.0 485.7,698.5 486.0,699.4 486.3,702.9 486.6,697.5 486.9,707.2 487.2,701.2 487.6,708.8 487.9,699.9 488.2,700.9 488.5,698.5 488.8,698.4 489.1,707.8 489.4,697.7 489.7,703.3 490.0,705.9 490.3,705.0 490.7,706.2 491.0,703.1 491.3,703.6 491.6,697.9 491.9,707.2 492.2,698.1 492.5,707.2 492.8,697.9 493.1,698.6 493.4,705.1 493.7,707.0 494.0,707.2 494.3,704.5 494.6,703.8 494.9,699.2 495.3,707.4 495.6,699.5 495.9,707.1 496.2,703.3 496.5,708.6 496.8,707.1 497.1,700.6 497.4,702.4 497.7,705.6 498.0,702.1 498.3,707.2 498.6,702.8 498.9,706.8 499.2,698.3 499.5,706.4 499.8,703.4 500.1,698.6 500.4,706.4 500.7,705.4 501.0,707.7 501.3,703.8 501.6,698.1 501.9,701.0 502.2,701.8 502.5,700.8 502.8,706.2 503.1,701.8 503.4,704.9 503.7,704.4 504.0,705.3 504.3,709.3 504.6,709.7 504.9,698.9 505.2,708.0 505.5,700.9 505.8,699.1 506.1,706.8 506.4,703.3 506.7,713.4 507.0,702.2 507.3,699.2 507.6,705.1 507.9,697.5 508.2,704.5 508.5,702.7 508.8,706.7 509.1,707.2 509.4,705.7 509.7,704.9 510.0,699.6 510.3,700.8 510.6,699.9 510.9,703.5 511.1,707.1 511.4,708.8 511.7,701.0 512.0,708.0 512.3,702.0 512.6,701.8 512.9,701.2 513.2,706.2 513.5,701.8 513.8,701.9 514.1,704.1 514.4,708.9 514.7,704.8 515.0,703.9 515.3,699.8 515.5,704.0 515.8,702.8 516.1,701.6 516.4,703.0 516.7,702.6 517.0,699.7 517.3,700.6 517.6,698.1 517.9,707.1 518.2,706.0 518.5,705.7 518.7,698.1 519.0,706.8 519.3,706.0 519.6,706.7 519.9,706.8 520.2,710.0 520.5,699.5 520.8,701.0 521.1,707.1 521.3,708.1 521.6,700.3 521.9,703.2 522.2,697.4 522.5,707.1 522.8,700.3 523.1,699.2 523.4,705.3 523.6,705.9 523.9,700.7 524.2,699.8 524.5,700.1 524.8,698.4 525.1,706.2 525.4,699.8 525.6,706.6 525.9,702.8 526.2,698.6 526.5,701.8 526.8,698.0 527.1,704.6 527.4,707.2 527.6,695.2 527.9,705.0 528.2,695.1 528.5,704.6 528.8,695.5 529.1,705.2 529.3,709.5 529.6,697.5 529.9,696.1 530.2,694.6 530.5,697.3 530.8,698.9 531.0,699.5 531.3,705.1 531.6,700.4 531.9,700.2 532.2,698.6 532.4,704.6 532.7,699.2 533.0,702.9 533.3,695.3 533.6,694.5 533.8,703.0 534.1,702.3 534.4,693.7 534.7,695.6 535.0,693.8 535.2,693.2 535.5,695.9 535.8,702.7 536.1,697.2 536.4,695.4 536.6,701.6 536.9,703.0 537.2,695.1 537.5,695.4 537.8,694.6 538.0,692.9 538.3,692.5 538.6,702.4 538.9,696.3 539.1,700.9 539.4,702.4 539.7,693.8 540.0,697.4 540.2,697.9 540.5,697.8 540.8,697.1 541.1,700.8 541.4,698.9 541.6,693.1 541.9,698.1 542.2,701.5 542.5,694.9 542.7,695.6 543.0,691.7 543.3,690.3 543.6,691.0 543.8,689.9 544.1,689.9 544.4,697.3 544.6,693.4 544.9,694.6 545.2,693.6 545.5,704.7 545.7,696.6 546.0,698.1 546.3,694.0 546.6,690.2 546.8,697.0 547.1,700.6 547.4,695.9 547.7,699.1 547.9,695.8 548.2,695.8 548.5,700.4 548.7,699.2 549.0,698.2 549.3,703.9 549.5,697.1 549.8,699.0 550.1,688.0 550.4,690.9 550.6,699.0 550.9,692.8 551.2,690.4 551.4,694.2 551.7,698.0 552.0,689.0 552.2,696.4 552.5,687.0 552.8,687.5 553.1,694.1 553.3,696.0 553.6,699.0 553.9,694.8 554.1,697.5 554.4,691.2 554.7,698.0 554.9,690.9 555.2,691.1 555.5,698.3 555.7,699.0 556.0,687.5 556.3,692.1 556.5,698.1 556.8,690.4 557.1,690.0 557.3,691.4 557.6,687.1 557.9,687.3 558.1,691.2 558.4,690.9 558.7,681.9 558.9,689.2 559.2,691.0 559.5,692.4 559.7,686.3 560.0,695.9 560.3,695.1 560.5,693.1 560.8,695.9 561.0,696.1 561.3,692.6 561.6,695.2 561.8,689.3 562.1,690.1 562.4,690.0 562.6,690.7 562.9,691.6 563.2,684.7 563.4,689.0 563.7,693.8 563.9,686.9 564.2,687.7 564.5,692.2 564.7,685.2 565.0,691.3 565.2,685.1 565.5,690.2 565.8,690.6 566.0,687.0 566.3,689.6 566.6,684.3 566.8,695.2 567.1,693.0 567.3,695.6 567.6,684.6 567.9,695.3 568.1,684.7 568.4,687.7 568.6,684.2 568.9,692.9 569.2,692.7 569.4,697.3 569.7,689.1 569.9,688.5 570.2,688.6 570.5,688.4 570.7,686.1 571.0,681.4 571.2,695.6 571.5,685.7 571.7,684.3 572.0,686.8 572.3,686.6 572.5,685.8 572.8,689.7 573.0,683.8 573.3,686.8 573.5,692.3 573.8,690.4 574.1,686.5 574.3,693.5 574.6,687.6 574.8,688.9 575.1,688.2 575.3,685.7 575.6,685.0 575.8,689.5 576.1,681.8 576.4,691.1 576.6,684.3 576.9,692.5 577.1,693.0 577.4,683.6 577.6,687.0 577.9,684.0 578.1,684.3 578.4,686.5 578.7,691.6 578.9,689.0 579.2,681.2 579.4,685.9 579.7,686.3 579.9,681.8 580.2,692.2 580.4,689.7 580.7,686.9 580.9,680.5 581.2,682.3 581.4,691.3 581.7,683.7 581.9,683.8 582.2,689.8 582.4,682.0 582.7,682.1 582.9,688.6 583.2,682.5 583.4,689.7 583.7,692.2 584.0,682.1 584.2,685.8 584.5,682.1 584.7,690.6 585.0,691.1 585.2,693.3 585.5,685.5 585.7,687.8 586.0,681.8 586.2,682.0 586.5,684.9 586.7,683.3 587.0,688.3 587.2,690.4 587.5,683.3 587.7,687.2 587.9,690.6 588.2,687.6 588.4,686.2 588.7,687.9 588.9,691.1 589.2,690.8 589.4,684.0 589.7,684.0 589.9,688.0 590.2,676.8 590.4,689.4 590.7,689.5 590.9,676.9 591.2,680.2 591.4,686.6 591.7,690.1 591.9,685.6 592.2,689.5 592.4,688.5 592.7,687.6 592.9,690.1 593.1,687.7 593.4,689.1 593.6,687.6 593.9,678.4 594.1,683.6 594.4,680.5 594.6,680.1 594.9,679.4 595.1,680.7 595.4,683.5 595.6,683.1 595.8,685.9 596.1,679.2 596.3,676.9 596.6,680.8 596.8,678.0 597.1,682.3 597.3,683.6 597.6,688.1 597.8,679.1 598.0,685.1 598.3,686.0 598.5,689.7 598.8,680.9 599.0,693.8 599.3,680.1 599.5,685.8 599.7,677.9 600.0,687.6 600.2,681.9 600.5,684.6 600.7,680.6 600.9,682.7 601.2,680.3 601.4,689.2 601.7,689.2 601.9,686.3 602.2,680.1 602.4,686.4 602.6,678.8 602.9,686.4 603.1,677.2 603.4,684.0 603.6,677.1 603.8,684.2 604.1,684.9 604.3,680.9 604.6,682.2 604.8,686.7 605.0,680.9 605.3,671.0 605.5,685.6 605.8,680.1 606.0,681.9 606.2,676.5 606.5,683.1 606.7,685.7 607.0,676.3 607.2,687.9 607.4,681.6 607.7,690.4 607.9,684.5 608.1,679.7 608.4,681.7 608.6,678.0 608.9,683.5 609.1,682.6 609.3,684.4 609.6,675.4 609.8,685.7 610.0,687.8 610.3,678.0 610.5,682.1 610.8,674.8 611.0,674.7 611.2,686.6 611.5,686.0 611.7,678.3 611.9,676.1 612.2,687.3 612.4,674.1 612.6,678.8 612.9,687.5 613.1,684.5 613.3,682.4 613.6,684.7 613.8,675.7 614.1,672.7 614.3,686.5 614.5,684.7 614.8,679.6 615.0,683.4 615.2,681.6 615.5,677.7 615.7,684.7 615.9,683.3 616.2,678.4 616.4,680.1 616.6,684.9 616.9,674.7 617.1,681.0 617.3,675.1 617.6,679.0 617.8,675.1 618.0,678.1 618.3,675.6 618.5,676.9 618.7,690.8 619.0,673.1 619.2,684.6 619.4,685.5 619.7,677.2 619.9,678.8 620.1,685.8 620.4,683.6 620.6,678.8 620.8,684.8 621.0,678.0 621.3,680.3 621.5,678.8 621.7,683.5 622.0,673.4 622.2,684.6 622.4,677.3 622.7,678.0 622.9,675.5 623.1,683.9 623.4,679.9 623.6,683.4 623.8,685.2 624.0,685.1 624.3,682.5 624.5,675.5 624.7,678.5 625.0,673.6 625.2,678.7 625.4,669.7 625.6,671.3 625.9,684.5 626.1,674.7 626.3,675.6 626.6,675.0 626.8,673.2 627.0,671.8 627.2,673.3 627.5,673.5 627.7,680.4 627.9,674.9 628.2,676.9 628.4,684.1 628.6,675.2 628.8,678.2 629.1,675.2 629.3,670.8 629.5,676.5 629.7,672.4 630.0,672.5 630.2,674.3 630.4,670.7 630.7,672.3 630.9,671.4 631.1,684.7 631.3,672.1 631.6,674.1 631.8,682.0 632.0,679.2 632.2,674.0 632.5,681.8 632.7,678.4 632.9,675.7 633.1,673.9 633.4,676.6 633.6,681.1 633.8,675.0 634.0,673.5 634.3,677.7 634.5,666.0 634.7,673.7 634.9,679.6 635.2,666.1 635.4,675.4 635.6,669.4 635.8,671.4 636.1,679.4 636.3,679.4 636.5,668.7 636.7,677.2 637.0,676.7 637.2,672.3 637.4,677.7 637.6,673.0 637.8,681.5 638.1,677.7 638.3,669.7 638.5,678.7 638.7,687.0 639.0,674.8 639.2,680.0 639.4,669.7 639.6,673.0 639.8,677.1 640.1,677.2 640.3,671.0 640.5,668.8 640.7,670.1 641.0,669.7 641.2,676.0 641.4,676.1 641.6,674.3 641.8,677.2 642.1,677.7 642.3,680.9 642.5,673.7 642.7,667.3 642.9,669.9 643.2,678.8 643.4,675.8 643.6,679.3 643.8,669.0 644.0,670.9 644.3,671.1 644.5,668.4 644.7,669.2 644.9,675.6 645.1,678.7 645.4,668.4 645.6,673.1 645.8,678.5 646.0,674.0 646.2,670.9 646.5,666.8 646.7,671.0 646.9,676.4 647.1,670.7 647.3,679.8 647.5,672.3 647.8,670.6 648.0,676.8 648.2,672.4 648.4,677.5 648.6,667.3 648.9,676.7 649.1,671.4 649.3,677.7 649.5,665.4 649.7,674.7 649.9,679.4 650.2,677.3 650.4,673.8 650.6,677.2 650.8,673.3 651.0,670.3 651.2,678.1 651.5,671.2 651.7,675.0 651.9,662.4 652.1,665.2 652.3,666.8 652.5,667.7 652.8,665.2 653.0,679.2 653.2,672.8 653.4,671.8 653.6,677.8 653.8,668.9 654.0,683.2 654.3,669.8 654.5,684.0 654.7,676.0 654.9,664.9 655.1,675.1 655.3,671.4 655.5,683.0 655.8,666.2 656.0,665.9 656.2,676.1 656.4,677.2 656.6,671.5 656.8,665.9 657.0,664.7 657.3,669.1 657.5,674.6 657.7,665.5 657.9,678.1 658.1,672.2 658.3,670.7 658.5,668.8 658.8,678.5 659.0,664.3 659.2,671.4 659.4,683.1 659.6,667.1 659.8,676.1 660.0,673.1 660.2,663.8 660.5,670.3 660.7,665.6 660.9,665.4 661.1,677.1 661.3,672.4 661.5,673.3 661.7,674.0 661.9,674.0 662.1,676.4 662.4,672.1 662.6,672.9 662.8,666.0 663.0,669.6 663.2,677.1 663.4,666.1 663.6,662.9 663.8,670.4 664.0,670.6 664.3,669.3 664.5,670.7 664.7,670.4 664.9,675.5 665.1,662.1 665.3,673.9 665.5,665.3 665.7,675.9 665.9,662.6 666.1,662.1 666.3,681.9 666.6,673.9 666.8,662.9 667.0,665.3 667.2,668.0 667.4,675.1 667.6,675.0 667.8,676.1 668.0,668.4 668.2,670.7 668.4,670.9 668.6,672.0 668.9,670.3 669.1,669.8 669.3,675.8 669.5,664.1 669.7,666.2 669.9,661.2 670.1,664.1 670.3,662.9 670.5,675.1 670.7,662.0 670.9,675.8 671.1,669.2 671.3,661.6 671.6,673.4 671.8,673.7 672.0,663.1 672.2,661.0 672.4,666.5 672.6,679.6 672.8,667.9 673.0,662.4 673.2,674.9 673.4,666.8 673.6,668.7 673.8,668.4 674.0,671.4 674.2,671.1 674.4,663.8 674.6,668.3 674.9,665.6 675.1,667.1 675.3,678.8 675.5,672.4 675.7,668.9 675.9,670.0 676.1,660.0 676.3,672.2 676.5,669.1 676.7,672.9 676.9,663.9 677.1,665.5 677.3,671.4 677.5,663.7 677.7,662.1 677.9,661.9 678.1,657.5 678.3,667.4 678.5,672.8 678.7,673.6 678.9,669.7 679.1,661.2 679.3,665.0 679.6,668.1 679.8,667.4 680.0,662.2 680.2,665.2 680.4,668.7 680.6,665.1 680.8,664.8 681.0,663.6 681.2,661.3 681.4,667.9 681.6,665.9 681.8,663.4 682.0,662.2 682.2,672.5 682.4,659.5 682.6,673.1 682.8,667.0 683.0,664.8 683.2,662.7 683.4,670.3 683.6,663.6 683.8,660.7 684.0,664.1 684.2,670.2 684.4,669.8 684.6,660.1 684.8,672.1 685.0,665.0 685.2,668.7 685.4,668.2 685.6,663.8 685.8,669.8 686.0,659.2 686.2,659.7 686.4,663.9 686.6,660.1 686.8,671.9 687.0,660.8 687.2,666.6 687.4,671.2 687.6,667.4 687.8,659.5 688.0,662.4 688.2,670.6 688.4,671.2 688.6,667.6 688.8,667.0 689.0,659.5 689.2,664.8 689.4,666.9 689.6,664.8 689.8,650.3 690.0,660.4 690.2,657.5 690.4,658.0 690.6,653.5 690.8,668.0 691.0,656.9 691.2,667.7 691.4,663.7 691.6,658.3 691.8,669.6 692.0,663.1 692.2,661.4 692.4,662.3 692.6,668.1 692.8,663.2 693.0,675.4 693.2,655.4 693.4,659.8 693.6,658.1 693.8,663.6 694.0,662.7 694.2,669.3 694.4,667.9 694.5,656.5 694.7,658.7 694.9,657.4 695.1,654.1 695.3,666.5 695.5,660.5 695.7,660.0 695.9,665.6 696.1,666.6 696.3,665.7 696.5,656.7 696.7,664.4 696.9,668.4 697.1,658.3 697.3,654.3 697.5,667.9 697.7,659.3 697.9,664.4 698.1,660.6 698.3,668.8 698.5,668.6 698.7,658.3 698.9,668.2 699.0,651.3 699.2,652.2 699.4,660.9 699.6,658.8 699.8,653.8 700.0,659.8 700.2,665.0 700.4,664.9 700.6,653.5 700.8,660.4 701.0,655.7 701.2,654.5 701.4,661.4 701.6,666.0 701.8,663.3 702.0,658.6 702.2,652.4 702.3,662.1 702.5,666.9 702.7,653.7 702.9,659.5 703.1,657.8 703.3,659.1 703.5,663.8 703.7,662.0 703.9,662.5 704.1,651.7 704.3,656.5 704.5,660.1 704.7,652.8 704.9,663.5 705.0,653.8 705.2,655.2 705.4,663.9 705.6,660.2 705.8,665.2 706.0,653.9 706.2,662.9 706.4,661.9 706.6,654.1 706.8,661.0 707.0,661.2 707.2,664.5 707.3,654.1 707.5,653.4 707.7,657.1 707.9,661.6 708.1,651.6 708.3,666.6 708.5,651.9 708.7,664.4 708.9,659.2 709.1,649.6 709.3,663.9 709.4,664.4 709.6,656.8 709.8,651.6 710.0,661.9 710.2,658.8 710.4,649.8 710.6,654.8 710.8,665.1 711.0,651.7 711.2,661.3 711.3,651.4 711.5,656.4 711.7,657.9 711.9,650.7 712.1,649.2 712.3,652.9 712.5,656.1 712.7,662.4 712.9,648.8 713.0,648.7 713.2,660.6 713.4,662.6 713.6,660.7 713.8,658.9 714.0,650.5 714.2,663.6 714.4,653.5 714.6,661.4 714.7,647.5 714.9,659.7 715.1,656.3 715.3,651.2 715.5,657.4 715.7,661.0 715.9,661.5 716.1,668.0 716.2,665.7 716.4,656.8 716.6,657.2 716.8,650.7 717.0,659.0 717.2,651.6 717.4,653.0 717.6,650.9 717.7,649.5 717.9,660.3 718.1,651.1 718.3,654.1 718.5,651.3 718.7,663.7 718.9,654.5 719.1,648.6 719.2,658.2 719.4,651.0 719.6,669.4 719.8,651.8 720.0,649.4 720.2,649.8 720.4,660.8 720.5,653.6 720.7,649.1 720.9,659.7 721.1,660.9 721.3,655.3 721.5,655.1 721.7,651.9 721.8,656.9 722.0,647.0 722.2,654.0 722.4,650.5 722.6,653.6 722.8,656.0 722.9,660.6 723.1,641.7 723.3,663.8 723.5,659.3 723.7,650.9 723.9,656.8 724.1,662.4 724.2,652.8 724.4,647.8 724.6,663.7 724.8,657.9 725.0,652.8 725.2,664.4 725.3,655.0 725.5,656.7 725.7,651.2 725.9,651.0 726.1,662.3 726.3,662.6 726.4,651.4 726.6,648.4 726.8,658.7 727.0,652.3 727.2,661.8 727.4,660.4 727.5,654.7 727.7,657.2 727.9,661.3 728.1,647.7 728.3,655.9 728.5,649.3 728.6,662.6 728.8,653.2 729.0,659.4 729.2,656.1 729.4,651.1 729.5,655.7 729.7,658.5 729.9,658.8 730.1,650.6 730.3,653.4 730.5,653.2 730.6,647.2 730.8,660.3 731.0,650.8 731.2,654.4 731.4,650.1 731.5,657.5 731.7,648.9 731.9,650.1 732.1,663.1 732.3,658.0 732.5,648.8 732.6,661.5 732.8,657.0 733.0,666.1 733.2,651.1 733.4,649.9 733.5,656.7 733.7,646.0 733.9,657.3 734.1,651.3 734.3,648.2 734.4,654.0 734.6,652.1 734.8,661.3 735.0,650.8 735.2,660.6 735.3,660.3 735.5,646.8 735.7,647.5 735.9,662.4 736.1,646.1 736.2,652.4 736.4,660.4 736.6,651.4 736.8,640.5 737.0,657.7 737.1,653.3 737.3,658.7 737.5,652.4 737.7,656.9 737.8,658.0 738.0,658.7 738.2,660.0 738.4,661.2 738.6,662.3 738.7,653.6 738.9,654.1 739.1,656.4 739.3,649.4 739.5,668.0 739.6,655.0 739.8,646.8 740.0,650.0 740.2,660.7 740.3,650.7 740.5,649.0 740.7,657.8 740.9,651.0 741.1,660.4 741.2,651.2 741.4,662.1 741.6,648.3 741.8,660.2 741.9,647.6 742.1,667.2 742.3,650.3 742.5,649.4 742.7,655.7 742.8,647.9 743.0,650.9 743.2,654.0 743.4,653.3 743.5,653.1 743.7,661.5 743.9,654.9 744.1,648.5 744.2,661.2 744.4,644.1 744.6,648.2 744.8,648.6 744.9,643.9 745.1,659.8 745.3,655.7 745.5,643.7 745.6,652.9 745.8,645.5 746.0,657.9 746.2,659.0 746.4,644.5 746.5,659.2 746.7,646.9 746.9,637.9 747.1,646.2 747.2,653.3 747.4,653.1 747.6,654.9 747.8,648.4 747.9,643.8 748.1,659.1 748.3,653.5 748.5,659.4 748.6,652.8 748.8,646.5 749.0,652.4 749.1,648.6 749.3,649.3 749.5,659.9 749.7,649.0 749.8,658.7 750.0,646.2 750.2,653.2 750.4,659.0 750.5,650.6 750.7,646.9 750.9,658.3 751.1,650.4 751.2,642.5 751.4,637.0 751.6,655.9 751.8,649.1 751.9,648.6 752.1,639.8 752.3,656.8 752.5,655.6 752.6,658.1 752.8,659.3 753.0,656.2 753.1,647.7 753.3,652.0 753.5,643.8 753.7,653.1 753.8,645.1 754.0,642.5 754.2,642.6 754.4,665.3 754.5,651.6 754.7,658.9 754.9,659.1 755.0,658.6 755.2,652.6 755.4,646.1 755.6,659.6 755.7,646.6 755.9,647.2 756.1,655.1 756.2,657.8 756.4,646.5 756.6,644.2 756.8,659.2 756.9,646.7 757.1,648.2 757.3,650.3 757.4,651.1 757.6,655.9 757.8,654.7 758.0,654.6 758.1,656.1 758.3,658.5 758.5,651.8 758.6,656.5 758.8,645.7 759.0,658.4 759.2,659.9 759.3,651.8 759.5,651.1 759.7,645.4 759.8,655.9 760.0,658.5 760.2,651.8 760.3,659.3 760.5,652.4 760.7,637.2 760.9,657.3 761.0,648.2 761.2,655.1 761.4,650.8 761.5,642.6 761.7,657.3 761.9,653.3 762.0,646.5 762.2,647.7 762.4,652.6 762.6,647.2 762.7,657.9 762.9,658.1 763.1,657.4 763.2,650.2 763.4,655.4 763.6,648.6 763.7,646.3 763.9,649.1 764.1,655.1 764.2,659.6 764.4,649.5 764.6,643.5 764.7,649.0 764.9,653.4 765.1,648.2 765.3,656.8 765.4,649.5 765.6,656.5 765.8,645.4 765.9,648.5 766.1,645.6 766.3,651.5 766.4,643.0 766.6,663.7 766.8,644.5 766.9,659.9 767.1,647.9 767.3,653.4 767.4,655.6 767.6,645.4 767.8,652.7 767.9,646.3 768.1,649.8 768.3,655.8 768.4,659.0 768.6,647.2 768.8,642.2 768.9,645.2 769.1,655.6 769.3,658.0 769.4,651.9 769.6,647.9 769.8,658.5 769.9,654.7 770.1,646.6 770.3,659.6 770.4,641.7 770.6,659.2 770.8,643.8 770.9,655.9 771.1,663.0 771.3,664.2 771.4,643.8 771.6,657.8 771.8,654.5 771.9,647.1 772.1,642.8 772.3,644.5 772.4,648.2 772.6,651.4 772.8,651.3 772.9,645.6 773.1,658.8 773.3,648.5 773.4,648.1 773.6,658.5 773.8,658.9 773.9,654.6 774.1,656.2 774.3,648.0 774.4,644.3 774.6,649.9 774.8,643.1 774.9,657.2 775.1,646.7 775.3,649.5 775.4,657.0 775.6,642.9 775.8,643.2 775.9,664.3 776.1,643.2 776.3,658.7 776.4,639.1 776.6,635.2 776.8,639.1 776.9,656.4 777.1,643.0 777.3,651.4 777.4,652.8 777.6,653.8 777.8,647.3 777.9,656.4 778.1,649.8 778.3,653.0 778.4,646.8 778.6,656.2 778.8,656.9 778.9,651.6 779.1,648.0 779.3,649.0 779.4,655.4 779.6,657.1 779.8,653.9 779.9,653.8 780.1,643.0 780.3,655.6 780.4,645.9 780.6,656.8 780.8,651.3 780.9,642.3 781.1,643.2 781.3,652.0 781.4,647.9 781.6,655.0 781.8,651.5 781.9,640.1 782.1,649.6 782.3,646.3 782.4,648.7 782.6,646.1 782.8,654.0 782.9,643.0 783.1,651.8 783.3,654.7 783.4,661.9 783.6,637.5 783.8,657.6 783.9,651.1 784.1,652.5 784.3,639.6 784.4,644.7 784.6,653.3 784.8,653.5 784.9,653.9 785.1,642.0 785.3,638.9 785.4,640.6 785.6,663.1 785.8,652.2 785.9,646.2 786.1,653.8 786.3,643.0 786.4,644.6 786.6,651.5 786.8,639.6 786.9,647.6 787.1,647.8 787.3,646.2 787.4,647.1 787.6,645.4 787.8,655.4 787.9,649.9 788.1,641.3 788.3,651.4 788.4,652.6 788.6,652.8 788.8,653.7 788.9,644.2 789.1,656.9 789.3,654.9 789.4,640.8 789.6,661.8 789.8,654.0 789.9,656.0 790.1,654.5 790.3,648.7 790.4,645.7 790.6,649.5 790.8,646.7 790.9,651.2 791.1,654.1 791.3,648.8 791.4,656.6 791.6,639.8 791.8,651.5 791.9,651.3 792.1,639.7 792.3,647.0 792.4,655.4 792.6,652.4 792.8,647.3 792.9,646.6 793.1,644.3 793.3,643.6 793.4,641.0 793.6,655.4 793.8,641.6 793.9,648.3 794.1,640.0 794.3,645.3 794.4,652.8 794.6,647.8 794.8,643.7 794.9,648.3 795.1,646.1 795.3,654.1 795.4,639.5 795.6,652.4 795.8,648.1 795.9,643.4 796.1,651.1 796.3,655.1 796.4,640.1 796.6,648.5 796.8,657.1 796.9,640.0 797.1,642.6 797.3,650.2 797.4,650.1 797.6,654.4 797.8,654.3 797.9,655.8 798.1,652.1 798.3,655.8 798.4,640.9 798.6,659.0 798.8,642.6 798.9,643.7 799.1,644.9 799.3,652.5 799.4,643.3 799.6,644.5 799.8,652.7 799.9,646.3 800.1,646.9 800.3,644.1 800.4,654.7 800.6,639.6 800.8,648.0 800.9,639.1 801.1,648.4 801.3,638.5 801.4,656.3 801.6,644.1 801.8,650.3 801.9,644.0 802.1,662.5 802.3,652.9 802.4,653.6 802.6,640.9 802.8,656.4 802.9,654.7 803.1,653.1 803.3,652.8 803.4,655.5 803.6,652.2 803.8,640.0 803.9,648.4 804.1,639.8 804.3,655.1 804.4,653.5 804.6,644.3 804.8,654.7 804.9,639.0 805.1,641.3 805.3,655.5 805.4,643.7 805.6,641.4 805.8,651.5 805.9,641.0 806.1,655.3 806.3,648.8 806.4,655.7 806.6,641.6 806.8,643.1 806.9,650.0 807.1,654.3 807.3,653.6 807.4,651.7 807.6,649.2 807.8,641.2 807.9,644.8 808.1,656.9 808.3,635.2 808.4,643.4 808.6,636.4 808.8,638.9 808.9,644.8 809.1,647.6 809.3,656.9 809.4,641.0 809.6,642.8 809.8,654.5 809.9,643.9 810.1,645.0 810.3,654.1 810.4,652.2 810.6,649.8 810.8,647.7 810.9,639.3 811.1,655.1 811.3,649.4 811.4,643.8 811.6,639.6 811.8,639.4 811.9,652.6 812.1,648.3 812.3,643.6 812.4,643.0 812.6,649.6 812.8,655.8 812.9,648.6 813.1,643.4 813.3,642.9 813.4,640.1 813.6,640.6 813.8,645.8 813.9,653.1 814.1,653.4 814.3,639.7 814.4,657.6 814.6,648.6 814.8,656.4 814.9,646.1 815.1,655.8 815.3,638.8 815.4,649.4 815.6,640.7 815.8,653.3 815.9,662.9 816.1,654.5 816.3,654.7 816.4,648.2 816.6,653.2 816.8,642.7 816.9,649.6 817.1,641.0 817.3,647.0 817.4,654.3 817.6,647.5 817.8,639.3 817.9,643.6 818.1,649.3 818.3,641.3 818.4,646.5 818.6,644.6 818.8,638.9 818.9,656.2 819.1,644.9 819.3,633.2 819.4,639.1 819.6,650.3 819.8,639.0 819.9,640.8 820.1,655.8 820.3,648.0 820.4,653.0 820.6,648.0 820.8,644.1 820.9,649.7 821.1,648.5 821.3,641.5 821.4,653.4 821.6,647.0 821.8,638.3 821.9,643.0 822.1,642.9 822.3,652.4 822.4,644.6 822.6,652.6 822.8,639.7 822.9,641.2 823.1,650.7 823.3,637.4 823.4,646.1 823.6,632.5 823.8,645.4 823.9,649.7 824.1,645.0 824.3,651.3 824.4,646.8 824.6,640.0 824.8,644.2 824.9,641.2 825.1,644.4 825.3,637.3 825.4,654.6 825.6,650.1 825.8,655.7 825.9,637.5 826.1,651.2 826.3,644.3 826.4,645.0 826.6,640.3 826.8,648.7 826.9,650.0 827.1,643.2 827.3,654.6 827.4,630.0 827.6,654.5 827.8,650.2 827.9,652.1 828.1,658.6 828.3,636.4 828.4,650.5 828.6,640.0 828.8,650.2 828.9,656.1 829.1,649.6 829.3,640.7 829.4,646.4 829.6,639.7 829.8,649.1 829.9,646.1 830.1,651.4 830.3,647.8 830.4,640.3 830.6,649.0 830.8,647.4 830.9,645.5 831.1,643.8 831.3,644.6 831.4,651.1 831.6,643.9 831.8,646.6 831.9,647.6 832.1,648.0 832.3,643.1 832.4,640.2 832.6,649.0 832.8,649.9 832.9,647.8 833.1,648.1 833.3,646.1 833.4,639.3 833.6,647.9 833.8,645.2 833.9,645.6 834.1,639.7 834.3,639.9 834.4,640.0 834.6,651.3 834.8,640.1 834.9,647.6 835.1,648.6 835.3,639.5 835.4,641.5 835.6,642.6 835.8,637.4 835.9,646.7 836.1,639.7 836.3,652.7 836.4,648.4 836.6,646.4 836.8,637.4 836.9,640.6 837.1,634.1 837.3,633.6 837.4,641.8 837.6,638.9 837.8,644.5 837.9,638.7 838.1,639.9 838.3,643.6 838.4,644.9 838.6,633.3 838.8,634.2 838.9,650.9 839.1,642.3 839.3,634.9 839.4,642.6 839.6,639.5 839.8,649.4 839.9,651.4 840.1,649.6 840.3,643.7 840.4,642.7 840.6,636.8 840.8,655.8 840.9,647.0 841.1,645.8 841.3,638.8 841.4,638.6 841.6,651.2 841.8,631.0 841.9,649.6 842.1,648.6 842.3,635.1 842.4,630.9 842.6,646.2 842.8,636.0 842.9,649.8 843.1,628.3 843.3,640.4 843.4,646.7 843.6,635.1 843.8,637.4 843.9,639.5 844.1,648.6 844.3,639.4 844.4,636.9 844.6,642.0 844.8,647.3 844.9,647.9 845.1,638.6 845.3,649.0 845.4,648.3 845.6,640.6 845.8,647.3 845.9,635.1 846.1,644.9 846.3,634.1 846.4,646.4 846.6,644.3 846.8,646.0 846.9,632.7 847.1,636.0 847.3,641.2 847.4,635.3 847.6,641.8 847.8,650.9 847.9,633.6 848.1,646.9 848.3,634.4 848.4,642.9 848.6,647.8 848.8,634.6 848.9,646.6 849.1,637.9 849.3,650.6 849.4,641.5 849.6,648.8 849.8,639.4 849.9,640.3 850.1,644.9 850.3,632.7 850.4,630.3 850.6,640.4 850.8,649.6 850.9,650.1 851.1,641.6 851.3,643.1 851.4,635.0 851.6,639.6 851.8,639.1 851.9,628.7 852.1,641.4 852.3,640.6 852.4,647.4 852.6,653.3 852.8,646.6 852.9,646.2 853.1,655.1 853.3,647.7 853.4,648.0 853.6,632.3 853.8,636.5 853.9,636.2 854.1,638.5 854.3,632.9 854.4,640.9 854.6,631.2 854.8,646.1 854.9,631.2 855.1,634.6 855.3,636.8 855.4,636.5 855.6,635.7 855.8,648.6 855.9,635.2 856.1,641.8 856.3,634.5 856.4,643.8 856.6,638.7 856.8,644.4 856.9,633.3 857.1,648.1 857.3,632.1 857.4,634.3 857.6,645.1 857.8,641.3 857.9,645.8 858.1,642.8 858.3,640.0 858.4,638.4 858.6,630.0 858.8,647.3 858.9,634.8 859.1,637.9 859.3,631.3 859.4,641.1 859.6,639.8 859.8,643.0 859.9,638.3 860.1,637.9 860.3,630.2 860.4,643.2 860.6,633.2 860.8,623.5 860.9,631.9 861.1,641.9 861.3,642.8 861.4,645.1 861.6,627.8 861.8,631.0 861.9,632.4 862.1,632.3 862.3,642.2 862.4,626.6 862.6,640.9 862.8,635.5 862.9,637.0 863.1,643.7 863.3,642.0 863.4,646.6 863.6,641.5 863.8,637.4 863.9,632.2 864.1,641.2 864.3,639.8 864.4,637.4 864.6,646.1 864.8,648.0 864.9,643.5 865.1,638.4 865.3,628.0 865.4,636.0 865.6,640.0 865.8,629.8 865.9,637.6 866.1,645.8 866.3,645.8 866.4,644.9 866.6,645.7 866.8,634.9 866.9,646.6 867.1,641.5 867.3,638.9 867.4,636.0 867.6,639.3 867.8,637.4 867.9,635.6 868.1,640.5 868.3,637.3 868.4,630.6 868.6,645.9 868.8,630.2 868.9,628.4 869.1,639.6 869.3,629.8 869.4,637.5 869.6,623.2 869.8,637.8 869.9,624.3 870.1,641.6 870.3,636.9 870.4,625.2 870.6,646.4 870.8,639.4 870.9,641.6 871.1,634.7 871.3,631.5 871.4,628.8 871.6,644.6 871.8,638.1 871.9,643.9 872.1,638.9 872.3,627.2 872.4,638.0 872.6,642.7 872.8,642.8 872.9,630.0 873.1,645.3 873.3,633.1 873.4,628.3 873.6,644.0 873.8,630.1 873.9,636.1 874.1,640.7 874.3,632.4 874.4,640.9 874.6,636.3 874.8,630.4 874.9,646.0 875.1,637.4 875.3,644.7 875.4,640.8 875.6,641.7 875.8,638.4 875.9,635.6 876.1,632.0 876.3,633.6 876.4,627.6 876.6,633.6 876.8,632.8 876.9,636.8 877.1,626.9 877.3,620.3 877.4,634.2 877.6,629.2 877.8,630.5 877.9,642.5 878.1,633.9 878.3,630.3 878.4,632.6 878.6,630.6 878.8,628.1 878.9,636.1 879.1,636.2 879.3,649.1 879.4,636.3 879.6,635.2 879.8,641.4 879.9,634.1 880.1,637.6 880.3,629.6 880.4,638.4 880.6,643.6 880.8,625.5 880.9,640.2 881.1,643.9 881.3,629.5 881.4,638.5 881.6,633.5 881.8,643.4 881.9,623.6 882.1,630.2 882.3,630.6 882.4,638.6 882.6,631.5 882.8,628.9 882.9,633.4 883.1,637.7 883.3,642.6 883.4,637.5 883.6,631.7 883.8,639.3 883.9,630.8 884.1,632.2 884.3,636.2 884.4,629.1 884.6,633.6 884.8,635.6 884.9,628.0 885.1,632.5 885.3,638.2 885.4,626.9 885.6,629.4 885.8,636.6 885.9,637.3 886.1,629.2 886.3,626.9 886.4,642.8 886.6,633.7 886.8,632.7 886.9,643.8 887.1,635.8 887.3,631.6 887.4,618.2 887.6,637.2 887.8,630.6 887.9,633.1 888.1,641.2 888.3,627.4 888.4,641.7 888.6,640.8 888.8,642.7 888.9,640.2 889.1,639.3 889.3,628.3 889.4,639.9 889.6,630.9 889.8,623.9 889.9,640.1 890.1,626.3 890.3,626.9 890.4,640.9 890.6,627.5 890.8,629.4 890.9,633.4 891.1,626.1 891.3,642.7 891.4,623.6 891.6,624.1 891.8,639.1 891.9,627.9 892.1,632.0 892.3,625.2 892.4,634.3 892.6,638.4 892.8,628.7 892.9,630.6 893.1,629.1 893.3,632.8 893.4,628.7 893.6,642.2 893.8,638.7 893.9,638.5 894.1,630.2 894.3,635.4 894.4,637.0 894.6,629.7 894.8,635.5 894.9,628.2 895.1,626.6 895.3,628.6 895.4,628.5 895.6,638.7 895.8,627.8 895.9,638.4 896.1,637.8 896.3,632.3 896.4,624.6 896.6,638.0 896.8,640.4 896.9,630.3 897.1,632.5 897.3,627.9 897.4,635.1 897.6,633.4 897.8,641.2 897.9,636.0 898.1,631.9 898.3,628.1 898.4,627.8 898.6,635.5 898.8,628.2 898.9,630.3 899.1,639.9 899.3,626.8 899.4,633.8 899.6,644.6 899.8,625.6 899.9,627.8 900.1,630.6 900.3,633.0 900.4,633.8 900.6,635.2 900.8,626.5 900.9,640.5 901.1,633.8 901.3,641.1 901.4,634.9 901.6,638.7 901.8,638.2 901.9,640.3 902.1,627.5 902.3,638.7 902.4,624.2 902.6,640.3 902.8,624.8 902.9,636.9 903.1,640.3 903.3,626.0 903.4,640.0 903.6,644.8 903.8,634.2 903.9,643.8 904.1,631.1 904.3,644.5 904.4,627.5 904.6,629.8 904.8,627.6 904.9,635.2 905.1,624.7 905.3,640.1 905.4,630.6 905.6,644.9 905.8,634.2 905.9,637.8 906.1,638.7 906.3,620.8 906.4,635.4 906.6,642.2 906.8,636.2 906.9,634.6 907.1,644.4 907.3,639.3 907.4,643.3 907.6,642.2 907.8,635.0 907.9,637.9 908.1,644.0 908.3,634.4 908.4,639.0 908.6,628.9 908.8,644.2 908.9,630.5 909.1,627.7 909.3,633.5 909.4,635.5 909.6,632.6 909.8,643.3 909.9,639.9 910.1,631.9 910.3,642.3 910.4,636.8 910.6,628.2 910.8,628.4 910.9,637.2 911.1,643.1 911.3,636.0 911.4,633.2 911.6,636.3 911.8,646.9 911.9,644.4 912.1,635.5 912.3,641.4 912.4,632.0 912.6,641.7 912.8,631.4 912.9,634.2 913.1,636.8 913.3,647.5 913.4,642.6 913.6,642.7 913.8,647.8 913.9,636.4 914.1,635.1 914.3,638.9 914.4,642.7 914.6,646.3 914.8,642.8 914.9,634.3 915.1,645.9 915.3,636.5 915.4,640.6 915.6,637.5 915.8,638.5 915.9,632.6 916.1,649.6 916.3,630.7 916.4,645.6 916.6,643.4 916.8,640.2 916.9,636.9 917.1,639.2 917.3,648.0 917.4,633.4 917.6,645.6 917.8,642.0 917.9,640.5 918.1,646.6 918.3,633.6 918.4,649.7 918.6,639.6 918.8,631.2 918.9,641.5 919.1,643.2 919.3,645.9 919.4,637.5 919.6,636.1 919.8,636.7 919.9,629.7 920.1,648.5 920.3,648.6 920.4,641.2 920.6,636.5 920.8,632.1 920.9,633.1 921.1,635.6 921.3,631.8 921.4,646.4 921.6,645.7 921.8,652.9 921.9,640.6 922.1,646.0 922.3,636.0 922.4,644.9 922.6,641.0 922.8,639.2 922.9,643.4 923.1,640.1 923.3,639.4 923.4,638.8 923.6,630.1 923.8,648.3 923.9,640.1 924.1,628.1 924.3,647.7 924.4,632.5 924.6,655.0 924.8,638.7 924.9,655.0 925.1,624.8 925.3,640.3 925.4,653.9 925.6,636.3 925.8,635.3 925.9,637.9 926.1,640.2 926.3,638.1 926.4,646.4 926.6,632.9 926.8,635.9 926.9,644.2 927.1,634.9 927.3,643.9 927.4,634.8 927.6,625.3 927.8,641.3 927.9,635.5 928.1,630.0 928.3,642.8 928.4,647.9 928.6,635.9 928.8,647.1 928.9,629.8 929.1,637.2 929.3,631.4 929.4,644.6 929.6,638.8 929.8,629.5 929.9,629.4 930.1,637.7 930.3,638.6 930.4,644.1 930.6,634.3 930.8,636.9 930.9,631.0 931.1,636.6 931.3,647.9 931.4,655.5 931.6,640.3 931.8,629.5 931.9,637.9 932.1,640.9 932.3,637.7 932.4,646.2 932.6,645.4 932.8,644.2 932.9,642.3 933.1,642.5 933.3,642.5 933.4,645.4 933.6,635.3 933.8,638.7 933.9,644.4 934.1,647.1 934.3,655.7 934.4,640.1 934.6,644.4 934.8,631.4 934.9,647.6 935.1,637.1 935.3,631.5 935.4,655.6 935.6,642.0 935.8,648.9 935.9,649.0 936.1,639.8 936.3,652.8 936.4,636.1 936.6,643.1 936.8,636.6" stroke="#00ff00" stroke-width="1" fill="none" shape-rendering="crispEdges"/>
<polyline points="937.2,675.0 937.4,672.8 937.5,674.3 937.7,670.1 937.9,678.0 938.0,665.6 938.2,684.0 938.4,665.7 938.5,673.7 938.7,679.4 938.9,679.1 939.0,668.3 939.2,669.6 939.4,675.1 939.5,666.0 939.7,669.0 939.9,678.5 940.0,672.5 940.2,675.1 940.4,679.5 940.5,679.0 940.7,676.2 940.9,673.1 941.0,669.1 941.2,676.7 941.4,669.9 941.5,667.2 941.7,672.2 941.9,667.0 942.0,671.8 942.2,669.6 942.4,669.6 942.5,668.3 942.7,674.9 942.9,671.5 943.0,673.3 943.2,661.0 943.4,676.1 943.5,677.9 943.7,664.5 943.9,676.5 944.0,673.7 944.2,672.9 944.4,671.4 944.5,678.0 944.7,671.5 944.9,667.4 945.0,662.6 945.2,670.2 945.4,660.0 945.5,677.3 945.7,666.5 945.9,676.9 946.0,673.4 946.2,684.1 946.4,671.9 946.5,671.5 946.7,666.7 946.9,676.8 947.0,675.2 947.2,674.2 947.4,678.1 947.5,673.6 947.7,665.7 947.9,669.1 948.0,670.5 948.2,678.3 948.4,672.7 948.5,664.8 948.7,679.8 948.9,677.3 949.0,667.8 949.2,667.7 949.4,672.9 949.5,676.0 949.7,674.0 949.9,675.0 950.0,669.7 950.2,675.4 950.4,679.5 950.5,673.4 950.7,675.5 950.9,676.5 951.0,677.0 951.2,670.2 951.4,671.2 951.5,666.5 951.7,677.3 951.9,668.8 952.0,661.7 952.2,669.5 952.4,677.8 952.5,678.7 952.7,667.3 952.9,667.8 953.0,673.7 953.2,674.4 953.4,669.7 953.5,668.9 953.7,670.5 953.9,668.4 954.0,677.9 954.2,665.3 954.4,676.8 954.5,678.5 954.7,676.2 954.9,676.4 955.0,671.0 955.2,668.3 955.4,677.2 955.5,675.9 955.7,680.4 955.9,680.2 956.0,669.5 956.2,666.1 956.4,675.7 956.5,672.5 956.7,675.5 956.9,665.7 957.0,668.7 957.2,667.1 957.4,677.8 957.5,672.9 957.7,674.2 957.9,665.7 958.0,666.7 958.2,679.1 958.4,667.4 958.5,667.3 958.7,671.4 958.9,671.0 959.0,678.5 959.2,674.1 959.4,667.3 959.5,666.9 959.7,666.6 959.9,676.3 960.0,666.6 960.2,678.3 960.4,670.4 960.5,668.6 960.7,678.3 960.9,676.2 961.0,670.9 961.2,660.0 961.4,674.4 961.5,675.4 961.7,665.8 961.9,674.8 962.0,668.7 962.2,675.1 962.4,673.2 962.5,669.6 962.7,675.7 962.9,673.7 963.0,671.4 963.2,676.5 963.4,665.5 963.5,679.4 963.7,672.6 963.9,680.8 964.0,677.2 964.2,672.3 964.4,674.7 964.5,676.2 964.7,665.0 964.9,678.6 965.0,676.1 965.2,668.8 965.4,675.4 965.5,667.3 965.7,671.5 965.9,679.8 966.0,669.1 966.2,674.3 966.4,678.8 966.5,667.4 966.7,671.1 966.9,679.0 967.0,667.1 967.2,675.7 967.4,671.5 967.5,675.2 967.7,680.5 967.9,676.6 968.0,678.9 968.2,676.8 968.4,676.7 968.5,667.5 968.7,672.5 968.9,677.3 969.0,675.2 969.2,671.4 969.4,675.3 969.5,678.4 969.7,671.9 969.9,678.1 970.0,674.5 970.2,674.1 970.4,676.2 970.5,675.7 970.7,669.0 970.9,677.0 971.0,679.4 971.2,673.0 971.4,679.8 971.5,673.9 971.7,680.2 971.9,677.5 972.0,672.6 972.2,671.9 972.4,677.4 972.5,671.6 972.7,668.9 972.9,673.1 973.0,675.2 973.2,683.6 973.4,667.0 973.5,676.2 973.7,673.9 973.9,669.6 974.0,668.2 974.2,670.1 974.4,676.4 974.5,667.0 974.7,673.1 974.9,677.6 975.0,675.5 975.2,673.9 975.4,680.0 975.5,674.5 975.7,678.6 975.9,675.2 976.0,667.6 976.2,666.8 976.4,666.5 976.5,675.5 976.7,668.5 976.9,670.6 977.0,667.0 977.2,668.7 977.4,669.8 977.5,672.0 977.7,670.3 977.9,677.7 978.0,672.7 978.2,671.6 978.4,660.8 978.5,680.6 978.7,678.2 978.9,669.2 979.0,660.9 979.2,674.3 979.4,680.7 979.5,677.0 979.7,671.0 979.9,679.6 980.0,680.3 980.2,660.9 980.4,673.3 980.5,679.2 980.7,670.3 980.9,669.9 981.0,679.7 981.2,678.4 981.4,669.5 981.5,678.1 981.7,667.6 981.9,672.3 982.0,679.7 982.2,673.2 982.4,679.0 982.5,666.1 982.7,668.1 982.9,668.6 983.0,673.3 983.2,679.4 983.4,667.4 983.5,679.4 983.7,663.5 983.9,676.1 984.0,668.8 984.2,679.6 984.4,675.3 984.5,673.8 984.7,677.7 984.9,677.6 985.0,671.7 985.2,680.7 985.4,667.7 985.5,670.2 985.7,668.8 985.9,668.1 986.0,668.7 986.2,677.7 986.4,672.7 986.5,672.3 986.7,660.6 986.9,668.9 987.0,677.9 987.2,665.8 987.4,668.6 987.5,678.6 987.7,677.2 987.9,674.7 988.0,674.0 988.2,666.9 988.4,668.4 988.5,670.5 988.7,671.4 988.9,676.7 989.0,674.6 989.2,681.8 989.4,671.4 989.5,675.8 989.7,673.9 989.9,676.5 990.0,674.1 990.2,670.5 990.4,679.4 990.5,669.4 990.7,665.9 990.9,672.1 991.0,669.7 991.2,673.5 991.4,678.3 991.5,671.2 991.7,675.6 991.9,671.3 992.0,675.7 992.2,665.6 992.4,679.5 992.5,665.2 992.7,676.8 992.9,671.2 993.0,671.4 993.2,676.8 993.4,672.8 993.5,673.7 993.7,678.3 993.9,673.3 994.0,671.3 994.2,675.3 994.4,676.0 994.5,681.4 994.7,675.9 994.9,672.8 995.0,675.6 995.2,671.5 995.4,671.2 995.5,677.2 995.7,671.9 995.9,663.8 996.0,660.6 996.2,667.3 996.4,669.2 996.5,673.0 996.7,675.2 996.9,672.8 997.0,675.9 997.2,677.1 997.4,665.3 997.5,665.1 997.7,669.1 997.9,668.1 998.0,677.5 998.2,675.2 998.4,675.0 998.5,669.3 998.7,667.2 998.9,662.9 999.0,677.1 999.2,676.2 999.4,672.6 999.5,673.8 999.7,670.7 999.9,674.8 1000.0,662.6 1000.2,675.2 1000.4,663.6 1000.5,671.1 1000.7,667.2 1000.9,677.1 1001.0,675.6 1001.2,676.3 1001.4,675.0 1001.5,677.6 1001.7,675.6 1001.9,670.3 1002.0,671.6 1002.2,664.7 1002.4,669.6 1002.5,677.5 1002.7,661.8 1002.9,675.3 1003.0,668.1 1003.2,660.7 1003.4,669.7 1003.5,663.8 1003.7,662.7 1003.9,667.8 1004.0,665.9 1004.2,673.3 1004.4,663.4 1004.5,662.9 1004.7,672.3 1004.9,670.5 1005.0,676.9 1005.2,666.0 1005.4,672.5 1005.5,675.6 1005.7,665.1 1005.9,667.5 1006.0,662.3 1006.2,677.3 1006.4,668.6 1006.5,677.0 1006.7,675.1 1006.9,673.3 1007.0,682.1 1007.2,664.4 1007.4,668.8 1007.5,673.5 1007.7,663.9 1007.9,675.8 1008.0,663.1 1008.2,674.3 1008.4,666.2 1008.5,675.1 1008.7,671.2 1008.9,673.7 1009.0,673.3 1009.2,668.3 1009.4,665.7 1009.5,671.4 1009.7,671.4 1009.9,663.4 1010.0,666.7 1010.2,669.2 1010.4,656.5 1010.5,665.9 1010.7,662.7 1010.9,662.0 1011.0,681.4 1011.2,668.9 1011.4,671.7 1011.5,666.6 1011.7,681.2 1011.9,667.0 1012.0,674.3 1012.2,667.6 1012.4,674.1 1012.5,672.4 1012.7,666.5 1012.9,671.4 1013.0,667.9 1013.2,673.8 1013.4,674.6 1013.5,667.6 1013.7,664.5 1013.9,665.5 1014.0,666.5 1014.2,664.7 1014.4,665.5 1014.5,674.4 1014.7,675.9 1014.9,662.6 1015.0,657.6 1015.2,664.4 1015.4,672.6 1015.5,671.9 1015.7,673.2 1015.9,674.1 1016.0,673.9 1016.2,665.0 1016.4,661.8 1016.5,662.2 1016.7,670.3 1016.9,665.7 1017.0,672.4 1017.2,672.9 1017.4,665.3 1017.5,661.2 1017.7,675.1 1017.9,670.4 1018.0,666.7 1018.2,660.1 1018.4,664.1 1018.5,671.5 1018.7,666.5 1018.9,672.2 1019.0,675.4 1019.2,666.3 1019.4,662.0 1019.5,664.8 1019.7,670.9 1019.9,663.7 1020.0,663.7 1020.2,670.7 1020.4,665.8 1020.5,669.1 1020.7,661.6 1020.9,665.7 1021.0,672.2 1021.2,659.2 1021.4,665.6 1021.5,668.8 1021.7,674.2 1021.9,672.1 1022.0,660.5 1022.2,671.1 1022.4,667.8 1022.5,666.2 1022.7,663.4 1022.9,670.5 1023.0,667.7 1023.2,669.8 1023.4,668.6 1023.5,669.8 1023.7,659.8 1023.9,658.6 1024.0,663.4 1024.2,673.5 1024.4,671.1 1024.5,661.7 1024.7,661.0 1024.9,663.0 1025.0,670.1 1025.2,662.9 1025.4,668.1 1025.5,668.5 1025.7,667.6 1025.9,673.1 1026.0,668.1 1026.2,665.9 1026.4,670.5 1026.5,662.9 1026.7,658.7 1026.9,671.0 1027.0,662.5 1027.2,664.6 1027.4,660.8 1027.5,663.8 1027.7,663.4 1027.9,658.6 1028.0,663.9 1028.2,661.1 1028.4,671.2 1028.5,666.7 1028.7,666.6 1028.9,659.9 1029.0,658.1 1029.2,665.4 1029.4,672.5 1029.5,671.7 1029.7,665.7 1029.9,668.8 1030.0,667.6 1030.2,658.0 1030.4,665.1 1030.5,652.4 1030.7,659.8 1030.9,660.1 1031.0,663.8 1031.2,662.1 1031.4,672.5 1031.5,663.8 1031.7,672.6 1031.9,657.8 1032.0,659.2 1032.2,668.0 1032.4,660.4 1032.5,668.3 1032.7,663.4 1032.9,658.1 1033.0,656.6 1033.2,656.5 1033.4,668.5 1033.5,660.7 1033.7,667.2 1033.9,669.6 1034.0,656.4 1034.2,665.3 1034.4,655.3 1034.5,665.2 1034.7,669.3 1034.9,671.4 1035.0,662.0 1035.2,665.1 1035.4,676.3 1035.5,664.3 1035.7,669.9 1035.9,663.9 1036.0,670.3 1036.2,657.8 1036.4,660.2 1036.5,661.1 1036.7,657.1 1036.9,669.3 1037.0,664.6 1037.2,667.9 1037.4,656.4 1037.5,655.5 1037.7,666.3 1037.9,666.7 1038.0,658.9 1038.2,663.1 1038.4,663.9 1038.5,660.2 1038.7,668.8 1038.9,654.8 1039.0,658.5 1039.2,666.3 1039.4,667.2 1039.5,654.9 1039.7,659.6 1039.9,664.2 1040.0,665.3 1040.2,666.2 1040.4,662.7 1040.5,658.6 1040.7,660.6 1040.9,665.4 1041.0,667.1 1041.2,669.6 1041.4,654.0 1041.5,667.7 1041.7,665.6 1041.9,663.7 1042.0,667.0 1042.2,669.3 1042.4,664.1 1042.5,666.7 1042.7,661.7 1042.9,657.2 1043.0,667.0 1043.2,655.9 1043.4,665.4 1043.5,662.1 1043.7,666.7 1043.9,661.1 1044.0,658.3 1044.2,663.0 1044.4,655.9 1044.5,660.0 1044.7,668.6 1044.9,662.4 1045.0,653.4 1045.2,660.0 1045.4,668.1 1045.5,657.5 1045.7,658.6 1045.9,655.2 1046.0,667.6 1046.2,667.6 1046.4,657.9 1046.5,666.4 1046.7,653.0 1046.9,659.7 1047.0,656.1 1047.2,653.6 1047.4,665.1 1047.5,672.1 1047.7,660.8 1047.9,653.4 1048.0,654.7 1048.2,664.6 1048.4,664.8 1048.5,651.7 1048.7,656.6 1048.9,662.5 1049.0,666.2 1049.2,656.3 1049.4,662.1 1049.5,661.6 1049.7,658.1 1049.9,654.1 1050.0,655.1 1050.2,651.4 1050.4,652.2 1050.5,663.9 1050.7,654.2 1050.9,658.8 1051.0,647.2 1051.2,660.5 1051.4,664.1 1051.5,649.5 1051.7,664.5 1051.9,655.4 1052.0,655.0 1052.2,646.7 1052.4,664.5 1052.5,656.5 1052.7,647.7 1052.9,666.8 1053.0,653.3 1053.2,656.3 1053.4,650.9 1053.5,657.6 1053.7,663.3 1053.9,662.7 1054.0,655.2 1054.2,656.9 1054.4,664.0 1054.5,663.6 1054.7,656.6 1054.9,650.7 1055.0,664.1 1055.2,658.6 1055.4,659.3 1055.5,656.4 1055.7,659.7 1055.9,657.8 1056.0,657.4 1056.2,659.8 1056.4,653.8 1056.5,664.9 1056.7,661.4 1056.9,645.3 1057.0,663.4 1057.2,650.7 1057.4,663.4 1057.5,652.3 1057.7,657.2 1057.9,656.7 1058.0,659.8 1058.2,657.4 1058.4,650.6 1058.5,656.9 1058.7,658.9 1058.9,652.2 1059.0,669.6 1059.2,651.7 1059.4,651.1 1059.5,651.6 1059.7,645.0 1059.9,649.7 1060.0,660.1 1060.2,652.8 1060.4,659.2 1060.5,664.5 1060.7,650.4 1060.9,661.2 1061.0,662.3 1061.2,659.1 1061.4,651.6 1061.5,660.7 1061.7,662.2 1061.9,650.4 1062.0,650.5 1062.2,652.2 1062.4,652.8 1062.5,659.1 1062.7,659.7 1062.9,654.9 1063.0,657.7 1063.2,644.2 1063.4,663.4 1063.5,653.6 1063.7,652.9 1063.9,644.1 1064.0,656.4 1064.2,655.0 1064.4,649.8 1064.5,649.0 1064.7,653.3 1064.9,661.3 1065.0,650.4 1065.2,658.7 1065.4,656.1 1065.5,655.8 1065.7,664.8 1065.9,656.4 1066.0,659.5 1066.2,656.0 1066.4,651.9 1066.5,659.0 1066.7,651.3 1066.9,653.6 1067.0,652.1 1067.2,651.7 1067.4,668.4 1067.5,655.1 1067.7,662.7 1067.9,649.7 1068.0,649.3 1068.2,663.0 1068.4,652.4 1068.5,656.0 1068.7,652.3 1068.9,651.1 1069.0,654.8 1069.2,650.4 1069.4,658.2 1069.5,650.0 1069.7,669.5 1069.9,662.2 1070.0,648.9 1070.2,662.6 1070.4,664.0 1070.5,657.3 1070.7,649.4 1070.9,649.1 1071.0,656.7 1071.2,656.5 1071.4,660.3 1071.5,664.1 1071.7,653.1 1071.9,659.1 1072.0,656.1 1072.2,648.7 1072.4,649.5 1072.5,653.7 1072.7,649.5 1072.9,646.8 1073.0,652.3 1073.2,656.7 1073.4,660.6 1073.5,656.6 1073.7,652.6 1073.9,647.7 1074.0,661.1 1074.2,644.9 1074.4,658.2 1074.5,647.6 1074.7,656.3 1074.9,653.1 1075.0,663.9 1075.2,652.5 1075.4,646.4 1075.5,648.1 1075.7,651.5 1075.9,660.2 1076.0,657.4 1076.2,655.9 1076.4,645.5 1076.5,647.1 1076.7,656.5 1076.9,647.7 1077.0,660.3 1077.2,649.1 1077.4,658.4 1077.5,650.9 1077.7,660.4 1077.9,655.9 1078.0,659.0 1078.2,663.5 1078.4,648.1 1078.5,647.4 1078.7,646.9 1078.9,657.1 1079.0,661.5 1079.2,653.7 1079.4,647.7 1079.5,658.6 1079.7,659.7 1079.9,659.2 1080.0,643.9 1080.2,658.7 1080.4,653.9 1080.5,659.0 1080.7,657.2 1080.9,645.4 1081.0,652.5 1081.2,657.3 1081.4,654.3 1081.5,656.3 1081.7,650.7 1081.9,666.8 1082.0,656.1 1082.2,646.0 1082.4,657.2 1082.5,647.3 1082.7,647.3 1082.9,649.0 1083.0,650.2 1083.2,655.6 1083.4,658.4 1083.5,654.3 1083.7,651.7 1083.9,649.4 1084.0,655.5 1084.2,649.1 1084.4,657.4 1084.5,658.2 1084.7,658.3 1084.9,664.8 1085.0,647.9 1085.2,649.9 1085.4,652.5 1085.5,645.4 1085.7,644.8 1085.9,656.3 1086.0,651.5 1086.2,645.0 1086.4,643.3 1086.5,652.1 1086.7,645.1 1086.9,654.5 1087.0,651.1 1087.2,652.0 1087.4,646.8 1087.5,648.6 1087.7,640.6 1087.9,644.8 1088.0,645.1 1088.2,654.5 1088.4,655.6 1088.5,653.6 1088.7,641.5 1088.9,643.5 1089.0,650.3 1089.2,659.5 1089.4,634.1 1089.5,645.1 1089.7,661.6 1089.9,644.6 1090.0,645.8 1090.2,644.7 1090.4,642.9 1090.5,640.3 1090.7,641.8 1090.9,653.3 1091.0,645.5 1091.2,644.8 1091.4,653.3 1091.5,639.2 1091.7,647.1 1091.9,642.2 1092.0,650.9 1092.2,658.7 1092.4,643.8 1092.5,653.0 1092.7,645.6 1092.9,644.1 1093.0,641.2 1093.2,648.9 1093.4,650.9 1093.5,640.9 1093.7,641.2 1093.9,652.0 1094.0,644.3 1094.2,641.3 1094.4,628.6 1094.5,646.8 1094.7,642.1 1094.9,641.5 1095.0,635.1 1095.2,632.8 1095.4,637.6 1095.5,636.9 1095.7,638.6 1095.9,635.4 1096.0,651.5 1096.2,636.9 1096.4,630.4 1096.5,632.4 1096.7,639.3 1096.9,632.8 1097.0,629.2 1097.2,638.0 1097.4,635.3 1097.5,640.1 1097.7,635.8 1097.9,633.8 1098.0,628.1 1098.2,634.0 1098.4,635.4 1098.5,644.3 1098.7,632.7 1098.9,626.7 1099.0,638.3 1099.2,640.7 1099.4,623.9 1099.5,634.0 1099.7,628.2 1099.9,635.4 1100.0,634.5 1100.2,619.6 1100.4,617.2 1100.5,617.1 1100.7,634.6 1100.9,618.7 1101.0,616.3 1101.2,630.2 1101.4,626.3 1101.5,614.6 1101.7,622.5 1101.9,619.2 1102.0,616.8 1102.2,621.5 1102.4,624.0 1102.5,623.3 1102.7,611.2 1102.9,602.1 1103.0,618.2 1103.2,622.2 1103.4,615.7 1103.5,619.9 1103.7,607.9 1103.9,605.1 1104.0,612.8 1104.2,603.1 1104.4,610.4 1104.5,617.9 1104.7,617.4 1104.9,603.3 1105.0,610.1 1105.2,611.8 1105.4,611.0 1105.5,606.4 1105.7,620.2 1105.9,608.3 1106.0,613.0 1106.2,607.5 1106.4,601.6 1106.5,602.8 1106.7,601.0 1106.9,602.4 1107.0,602.8 1107.2,598.4 1107.4,597.5 1107.5,601.6 1107.7,595.6 1107.9,596.6 1108.0,590.2 1108.2,597.3 1108.4,599.8 1108.5,592.9 1108.7,602.2 1108.9,603.2 1109.0,590.0 1109.2,606.6 1109.4,587.8 1109.5,583.3 1109.7,594.6 1109.9,600.8 1110.0,590.3 1110.2,592.7 1110.4,591.7 1110.5,601.1 1110.7,588.5 1110.9,606.1 1111.0,602.8 1111.2,588.1 1111.4,600.9 1111.5,584.9 1111.7,591.1 1111.9,581.9 1112.0,582.3 1112.2,595.6 1112.4,582.7 1112.5,586.8 1112.7,597.9 1112.9,587.5 1113.0,589.1 1113.2,589.2 1113.4,595.5 1113.5,589.1 1113.7,585.9 1113.9,600.2 1114.0,590.7 1114.2,589.0 1114.4,584.1 1114.5,589.3 1114.7,582.0 1114.9,589.8 1115.0,583.3 1115.2,601.2 1115.4,585.5 1115.5,600.8 1115.7,586.3 1115.9,592.9 1116.0,596.2 1116.2,599.0 1116.4,595.9 1116.5,599.2 1116.7,585.5 1116.9,583.7 1117.0,591.0 1117.2,599.1 1117.4,578.5 1117.5,584.2 1117.7,587.9 1117.9,588.5 1118.0,598.2 1118.2,594.6 1118.4,591.3 1118.5,598.5 1118.7,588.3 1118.9,595.2 1119.0,597.2 1119.2,591.6 1119.4,609.4 1119.5,595.6 1119.7,601.4 1119.9,599.3 1120.0,591.8 1120.2,604.5 1120.4,594.2 1120.5,619.9 1120.7,612.7 1120.9,594.3 1121.0,598.5 1121.2,606.1 1121.4,613.2 1121.5,603.6 1121.7,610.8 1121.9,592.0 1122.0,614.7 1122.2,603.8 1122.4,601.0 1122.5,602.6 1122.7,598.4 1122.9,608.2 1123.0,616.0 1123.2,612.7 1123.4,621.5 1123.5,623.9 1123.7,613.3 1123.9,626.0 1124.0,627.7 1124.2,638.0 1124.4,631.0 1124.5,612.3 1124.7,616.2 1124.9,618.6 1125.0,624.7 1125.2,627.9 1125.4,624.8 1125.5,632.7 1125.7,629.5 1125.9,631.8 1126.0,628.6 1126.2,621.7 1126.4,618.4 1126.5,627.1 1126.7,625.2 1126.9,621.6 1127.0,631.2 1127.2,633.5 1127.4,611.3 1127.5,631.6 1127.7,632.8 1127.9,629.4 1128.0,627.8 1128.2,627.0 1128.4,629.7 1128.5,638.1 1128.7,627.0 1128.9,629.9 1129.0,626.1 1129.2,631.2 1129.4,630.3 1129.5,642.4 1129.7,618.7 1129.9,631.2 1130.0,626.6 1130.2,630.8 1130.4,629.3 1130.5,640.1 1130.7,631.1 1130.9,644.6 1131.0,622.7 1131.2,634.9 1131.4,638.8 1131.5,621.0 1131.7,622.7 1131.9,630.7 1132.0,636.7 1132.2,636.8 1132.4,634.6 1132.5,627.6 1132.7,626.9 1132.9,629.1 1133.0,631.8 1133.2,628.6 1133.4,640.5 1133.5,639.3 1133.7,627.8 1133.9,624.3 1134.0,624.0 1134.2,637.0 1134.4,621.0 1134.5,629.6 1134.7,626.4 1134.9,634.8 1135.0,636.5 1135.2,630.2 1135.4,638.3 1135.5,629.0 1135.7,633.9 1135.9,640.3 1136.0,641.4 1136.2,620.3 1136.4,620.7 1136.5,628.9 1136.7,626.4 1136.9,641.3 1137.0,631.4 1137.2,632.4 1137.4,637.3 1137.5,632.7 1137.7,627.0 1137.9,625.9 1138.0,639.7 1138.2,627.4 1138.4,628.6 1138.5,631.6 1138.7,625.1 1138.9,636.8 1139.0,620.2 1139.2,632.6 1139.4,623.5 1139.5,632.1 1139.7,639.7 1139.9,631.8 1140.0,630.1 1140.2,624.0 1140.4,638.2 1140.5,633.8 1140.7,629.1 1140.9,624.1 1141.0,648.4 1141.2,632.7 1141.4,627.6 1141.5,630.7 1141.7,641.6 1141.9,628.6 1142.0,630.0 1142.2,640.3 1142.4,630.9 1142.5,622.0 1142.7,629.3 1142.9,640.8 1143.0,623.3 1143.2,629.7 1143.4,641.0 1143.5,639.5 1143.7,629.9 1143.9,631.2 1144.0,639.2 1144.2,632.2 1144.4,636.4 1144.5,637.3 1144.7,631.4 1144.9,643.1 1145.0,625.8 1145.2,634.0 1145.4,627.1 1145.5,632.6 1145.7,619.6 1145.9,625.9 1146.0,619.6 1146.2,641.1 1146.4,631.3 1146.5,637.5 1146.7,625.9 1146.9,623.6 1147.0,621.5 1147.2,622.8 1147.4,636.8 1147.5,628.9 1147.7,619.9 1147.9,629.4 1148.0,634.5 1148.2,636.5 1148.4,619.3 1148.5,637.4 1148.7,636.9 1148.9,619.4 1149.0,640.1 1149.2,629.3 1149.4,616.0 1149.5,619.7 1149.7,636.3 1149.9,628.4 1150.0,635.4 1150.2,623.4 1150.4,631.0 1150.5,639.3 1150.7,635.2 1150.9,632.8 1151.0,638.2 1151.2,631.0 1151.4,628.5 1151.5,638.0 1151.7,640.7 1151.9,628.5 1152.0,638.7 1152.2,633.9 1152.4,625.0 1152.5,619.1 1152.7,636.5 1152.9,626.5 1153.0,636.2 1153.2,637.8 1153.4,627.6 1153.5,615.8 1153.7,624.7 1153.9,619.3 1154.0,620.1 1154.2,624.4 1154.4,637.9 1154.5,638.2 1154.7,625.9 1154.9,617.3 1155.0,626.6 1155.2,618.4 1155.4,624.4 1155.5,627.1 1155.7,625.2 1155.9,621.1 1156.0,637.3 1156.2,632.7 1156.4,619.2 1156.5,631.5 1156.7,629.9 1156.9,637.7 1157.0,621.7 1157.2,624.6 1157.4,633.9 1157.5,623.7 1157.7,620.7 1157.9,625.5 1158.0,623.2 1158.2,634.7 1158.4,620.3 1158.5,636.3 1158.7,624.1 1158.9,621.3 1159.0,626.5 1159.2,620.1 1159.4,634.1 1159.5,619.6 1159.7,607.6 1159.9,618.2 1160.0,616.3 1160.2,636.7 1160.4,615.1 1160.5,632.9 1160.7,630.2 1160.9,617.4 1161.0,617.1 1161.2,642.3 1161.4,615.9 1161.5,633.0 1161.7,620.5 1161.9,621.8 1162.0,633.9 1162.2,630.2 1162.4,634.2 1162.5,622.3 1162.7,621.0 1162.9,608.0 1163.0,613.5 1163.2,626.8 1163.4,620.1 1163.5,629.1 1163.7,616.9 1163.9,628.1 1164.0,614.6 1164.2,632.9 1164.4,641.4 1164.5,622.2 1164.7,609.8 1164.9,620.4 1165.0,607.8 1165.2,628.1 1165.4,641.1 1165.5,613.4 1165.7,624.9 1165.9,631.4 1166.0,628.8 1166.2,632.8 1166.4,631.9 1166.5,631.9 1166.7,622.0 1166.9,615.8 1167.0,624.2 1167.2,620.7 1167.4,615.0 1167.5,619.1 1167.7,626.8 1167.9,615.2 1168.0,633.1 1168.2,633.1 1168.4,625.0 1168.5,629.6 1168.7,626.8 1168.9,630.2 1169.0,626.9 1169.2,622.9 1169.4,620.8 1169.5,631.8 1169.7,628.6 1169.9,633.0 1170.0,617.2 1170.2,627.3 1170.4,618.4 1170.5,614.2 1170.7,621.7 1170.9,615.6 1171.0,617.1 1171.2,626.6 1171.4,611.1 1171.5,614.0 1171.7,617.5 1171.9,623.0 1172.0,612.6 1172.2,629.7 1172.4,611.1 1172.5,619.2 1172.7,627.2 1172.9,631.9 1173.0,623.0 1173.2,627.5 1173.4,612.3 1173.5,609.8 1173.7,613.2 1173.9,624.5 1174.0,630.6 1174.2,626.7 1174.4,625.7 1174.5,611.6 1174.7,638.2 1174.9,628.6 1175.0,620.1 1175.2,621.5 1175.4,626.5 1175.5,619.3 1175.7,627.0 1175.9,636.1 1176.0,624.1 1176.2,629.8 1176.4,627.3 1176.5,624.7 1176.7,616.9 1176.9,619.1 1177.0,631.1 1177.2,628.1 1177.4,625.8 1177.5,619.3 1177.7,617.6 1177.9,626.9 1178.0,608.5 1178.2,618.8 1178.4,613.5 1178.5,617.7 1178.7,609.4 1178.9,611.2 1179.0,624.6 1179.2,625.4 1179.4,607.2 1179.5,615.1 1179.7,619.8 1179.9,621.4 1180.0,620.5 1180.2,614.9 1180.4,606.4 1180.5,616.6 1180.7,626.9 1180.9,609.8 1181.0,609.4 1181.2,611.7 1181.4,625.5 1181.5,611.3 1181.7,618.9 1181.9,620.0 1182.0,617.6 1182.2,616.2 1182.4,619.6 1182.5,605.8 1182.7,615.0 1182.9,611.3 1183.0,611.7 1183.2,625.5 1183.4,617.7 1183.5,620.3 1183.7,621.3 1183.9,611.0 1184.0,615.4 1184.2,622.7 1184.4,611.8 1184.5,622.9 1184.7,615.5 1184.9,606.6 1185.0,613.5 1185.2,621.3 1185.4,605.1 1185.5,604.1 1185.7,606.9 1185.9,614.6 1186.0,612.2 1186.2,608.9 1186.4,612.8 1186.5,615.0 1186.7,604.5 1186.9,608.7 1187.0,615.0 1187.2,606.2 1187.4,611.2 1187.5,620.3 1187.7,616.3 1187.9,603.5 1188.0,613.5 1188.2,605.3 1188.4,617.6 1188.5,613.9 1188.7,607.8 1188.9,604.2 1189.0,600.5 1189.2,604.4 1189.4,620.9 1189.5,603.8 1189.7,606.1 1189.9,615.7 1190.0,622.8 1190.2,605.2 1190.4,608.1 1190.5,613.0 1190.7,613.0 1190.9,613.3 1191.0,615.6 1191.2,601.3 1191.4,609.3 1191.5,606.5 1191.7,617.5 1191.9,606.0 1192.0,613.0 1192.2,618.6 1192.4,612.1 1192.5,608.2 1192.7,605.2 1192.9,607.3 1193.0,618.6 1193.2,613.5 1193.4,606.5 1193.5,594.1 1193.7,611.4 1193.9,599.7 1194.0,604.2 1194.2,605.5 1194.4,602.2 1194.5,600.8 1194.7,610.8 1194.9,606.1 1195.0,601.9 1195.2,610.6 1195.4,611.5 1195.5,591.0 1195.7,612.9 1195.9,613.1 1196.0,603.4 1196.2,603.3 1196.4,604.0 1196.5,603.1 1196.7,604.7 1196.9,601.3 1197.0,615.7 1197.2,599.3 1197.4,602.5 1197.5,612.1 1197.7,609.9 1197.9,602.0 1198.0,607.2 1198.2,598.3 1198.4,612.2 1198.5,601.0 1198.7,611.1 1198.9,608.8 1199.0,602.7 1199.2,603.1 1199.4,609.8 1199.5,598.3 1199.7,614.1 1199.9,600.8 1200.0,608.3 1200.2,604.1 1200.4,607.4 1200.5,602.4 1200.7,596.4 1200.9,607.3 1201.0,603.2 1201.2,598.0 1201.4,599.6 1201.5,607.6 1201.7,594.2 1201.9,611.6 1202.0,600.1 1202.2,603.6 1202.4,602.1 1202.5,600.1 1202.7,601.2 1202.9,611.4 1203.0,612.5 1203.2,611.0 1203.4,611.3 1203.5,610.0 1203.7,605.8 1203.9,607.1 1204.0,599.8 1204.2,606.0 1204.4,608.6 1204.5,610.2 1204.7,611.4 1204.9,616.9 1205.0,607.7 1205.2,622.5 1205.4,613.9 1205.5,613.7 1205.7,610.6 1205.9,602.6 1206.0,608.1 1206.2,616.1 1206.4,627.2 1206.5,604.7 1206.7,614.5 1206.9,604.0 1207.0,604.8 1207.2,619.3 1207.4,604.8 1207.5,628.4 1207.7,609.9 1207.9,618.5 1208.0,615.7 1208.2,610.9 1208.4,601.2 1208.5,608.1 1208.7,625.9 1208.9,625.5 1209.0,607.6 1209.2,614.1 1209.4,622.8 1209.5,609.9 1209.7,616.1 1209.9,614.5 1210.0,627.6 1210.2,620.0 1210.4,606.5 1210.5,635.3 1210.7,618.6 1210.9,611.4 1211.0,623.6 1211.2,629.7 1211.4,629.6 1211.5,613.3 1211.7,629.6 1211.9,619.4 1212.0,621.1 1212.2,622.6 1212.4,621.9 1212.5,626.0 1212.7,619.8 1212.9,624.1 1213.0,631.8 1213.2,629.7 1213.4,616.8 1213.5,626.7 1213.7,628.6 1213.9,634.9 1214.0,631.8 1214.2,626.9 1214.4,631.7 1214.5,633.7 1214.7,637.2 1214.9,628.7 1215.0,620.8 1215.2,633.4 1215.4,633.2 1215.5,632.9 1215.7,627.8 1215.9,639.6 1216.0,639.2 1216.2,647.2 1216.4,636.2 1216.5,640.5 1216.7,631.6 1216.9,630.9 1217.0,638.6 1217.2,626.6 1217.4,631.5 1217.5,635.7 1217.7,628.5 1217.9,642.3 1218.0,629.2 1218.2,651.1 1218.4,639.7 1218.5,642.8 1218.7,627.2 1218.9,630.7 1219.0,645.0 1219.2,640.3 1219.4,635.5 1219.5,645.2 1219.7,633.3 1219.9,643.3 1220.0,636.2 1220.2,641.8 1220.4,636.4 1220.5,643.3 1220.7,636.3 1220.9,629.2 1221.0,632.9 1221.2,647.7 1221.4,633.7 1221.5,634.8 1221.7,629.8 1221.9,645.5 1222.0,642.4 1222.2,639.6 1222.4,638.4 1222.5,644.9 1222.7,637.2 1222.9,639.5 1223.0,635.2 1223.2,648.4 1223.4,637.1 1223.5,637.0 1223.7,645.8 1223.9,640.7 1224.0,634.9 1224.2,646.3 1224.4,649.4 1224.5,646.9 1224.7,642.1 1224.9,640.4 1225.0,631.1 1225.2,631.8 1225.4,638.4 1225.5,643.8 1225.7,641.5 1225.9,637.2 1226.0,648.5 1226.2,638.5 1226.4,644.6 1226.5,649.4 1226.7,636.7 1226.9,642.5 1227.0,644.8 1227.2,644.3 1227.4,645.8 1227.5,651.3 1227.7,645.5 1227.9,648.4 1228.0,639.5 1228.2,648.8 1228.4,636.3 1228.5,651.7 1228.7,636.0 1228.9,651.1 1229.0,634.1 1229.2,633.9 1229.4,636.1 1229.5,642.3 1229.7,642.6 1229.9,650.8 1230.0,640.5 1230.2,637.0 1230.4,642.4 1230.5,644.2 1230.7,652.9 1230.9,643.5 1231.0,638.1 1231.2,648.1 1231.4,635.7 1231.5,636.5 1231.7,636.6 1231.9,645.9 1232.0,649.2 1232.2,635.3 1232.4,636.5 1232.5,637.1 1232.7,634.1 1232.9,650.0 1233.0,644.9 1233.2,637.8 1233.4,634.0 1233.5,635.3 1233.7,635.2 1233.9,636.8 1234.0,630.2 1234.2,650.2 1234.4,648.9 1234.5,642.8 1234.7,646.5 1234.9,641.4 1235.0,646.8 1235.2,637.3 1235.4,643.5 1235.5,648.3 1235.7,646.3 1235.9,641.7 1236.0,649.1 1236.2,636.0 1236.4,649.9 1236.5,649.5 1236.7,640.2 1236.9,645.8 1237.0,627.3 1237.2,640.7 1237.4,641.8 1237.5,635.6 1237.7,634.4 1237.9,649.9 1238.0,650.0 1238.2,641.6 1238.4,634.9 1238.5,643.3 1238.7,647.9 1238.9,634.5 1239.0,645.0 1239.2,637.9 1239.4,642.5 1239.5,636.3 1239.7,649.6 1239.9,646.5 1240.0,641.0 1240.2,643.9 1240.4,645.6 1240.5,637.0 1240.7,647.4 1240.9,636.8 1241.0,643.3 1241.2,637.7 1241.4,638.5 1241.5,633.2 1241.7,647.1 1241.9,647.3 1242.0,652.3 1242.2,639.8 1242.4,643.1 1242.5,638.9 1242.7,636.8 1242.9,647.2 1243.0,647.0 1243.2,639.5 1243.4,636.1 1243.5,645.5 1243.7,651.6 1243.9,646.1 1244.0,636.5 1244.2,633.1 1244.4,638.7 1244.5,645.6 1244.7,639.0 1244.9,646.7 1245.0,628.7 1245.2,640.4 1245.4,632.0 1245.5,636.3 1245.7,634.5 1245.9,646.7 1246.0,633.1 1246.2,637.4 1246.4,638.7 1246.5,644.0 1246.7,643.2 1246.9,641.9 1247.0,639.5 1247.2,648.0 1247.4,647.9 1247.5,641.4 1247.7,644.9 1247.9,626.1 1248.0,632.1 1248.2,635.0 1248.4,645.2 1248.5,642.3 1248.7,633.5 1248.9,640.5 1249.0,632.9 1249.2,641.8 1249.4,639.4 1249.5,640.8 1249.7,633.0 1249.9,648.7 1250.0,634.7 1250.2,642.4 1250.4,637.5 1250.5,638.1 1250.7,644.2 1250.9,641.7 1251.0,631.0 1251.2,637.9 1251.4,641.6 1251.5,632.5 1251.7,638.7 1251.9,641.3 1252.0,634.6 1252.2,646.6 1252.4,631.4 1252.5,631.7 1252.7,640.5 1252.9,630.3 1253.0,639.6 1253.2,643.2 1253.4,645.5 1253.5,633.0 1253.7,639.9 1253.9,644.3 1254.0,642.6 1254.2,630.3 1254.4,641.9 1254.5,637.5 1254.7,635.6 1254.9,644.3 1255.0,631.3 1255.2,641.2 1255.4,641.0 1255.5,646.0 1255.7,633.2 1255.9,635.1 1256.0,645.5 1256.2,632.2 1256.4,630.7 1256.5,641.2 1256.7,637.6 1256.9,635.9 1257.0,634.6 1257.2,638.6 1257.4,643.9 1257.5,633.9 1257.7,642.7 1257.9,634.3 1258.0,644.7 1258.2,637.0 1258.4,636.5 1258.5,638.6 1258.7,641.8 1258.9,643.0 1259.0,640.8 1259.2,631.8 1259.4,628.6 1259.5,632.0 1259.7,645.7 1259.9,631.5 1260.0,628.5 1260.2,630.0 1260.4,643.2 1260.5,638.2 1260.7,631.4 1260.9,636.8 1261.0,627.2 1261.2,629.0 1261.4,633.0 1261.5,639.0 1261.7,632.5 1261.9,646.1 1262.0,628.2 1262.2,649.4 1262.4,630.8 1262.5,639.9 1262.7,632.8 1262.9,631.0 1263.0,644.9 1263.2,641.9 1263.4,637.2 1263.5,630.8 1263.7,633.3 1263.9,632.3 1264.0,631.5 1264.2,641.0 1264.4,634.8 1264.5,644.1 1264.7,639.4 1264.9,637.4 1265.0,632.3 1265.2,626.7 1265.4,639.0 1265.5,632.7 1265.7,635.8 1265.9,629.5 1266.0,639.8 1266.2,636.7 1266.4,631.1 1266.5,631.3 1266.7,628.8 1266.9,629.3 1267.0,625.7 1267.2,637.7 1267.4,635.8 1267.5,641.2 1267.7,618.1 1267.9,633.1 1268.0,626.6 1268.2,631.7 1268.4,642.8 1268.5,632.0 1268.7,628.0 1268.9,630.2 1269.0,625.6 1269.2,636.8 1269.4,640.7 1269.5,627.6 1269.7,635.3 1269.9,635.1 1270.0,638.9 1270.2,638.6 1270.4,640.7 1270.5,629.6 1270.7,625.0 1270.9,637.9 1271.0,623.8 1271.2,639.3 1271.4,638.4 1271.5,635.2 1271.7,629.3 1271.9,636.0 1272.0,636.5 1272.2,646.1 1272.4,645.2 1272.5,623.8 1272.7,633.0 1272.9,635.3 1273.0,639.3 1273.2,629.2 1273.4,632.8 1273.5,629.4 1273.7,634.2 1273.9,638.8 1274.0,635.9 1274.2,638.0 1274.4,626.7 1274.5,626.4 1274.7,636.9 1274.9,631.9 1275.0,628.2 1275.2,622.8 1275.4,633.4 1275.5,636.4 1275.7,639.7 1275.9,625.0 1276.0,633.9 1276.2,631.5 1276.4,633.6 1276.5,623.8 1276.7,630.4 1276.9,640.2 1277.0,622.5 1277.2,638.4 1277.4,624.2 1277.5,623.1 1277.7,640.3 1277.9,638.1 1278.0,631.1 1278.2,635.7 1278.4,625.3 1278.5,638.6 1278.7,634.7 1278.9,630.2 1279.0,629.7 1279.2,627.8 1279.4,637.8 1279.5,633.3 1279.7,630.9 1279.9,636.0 1280.0,624.8 1280.2,626.2 1280.4,625.4 1280.5,631.5 1280.7,627.0 1280.9,636.8 1281.0,619.3 1281.2,633.7 1281.4,622.6 1281.5,629.0 1281.7,632.3 1281.9,620.4 1282.0,623.7 1282.2,620.2 1282.4,634.9 1282.5,636.0 1282.7,630.7 1282.9,633.7 1283.0,629.3 1283.2,612.1 1283.4,626.1 1283.5,622.4 1283.7,625.9 1283.9,631.6 1284.0,639.1 1284.2,620.7 1284.4,616.8 1284.5,629.2 1284.7,627.8 1284.9,625.4 1285.0,622.8 1285.2,619.0 1285.4,617.8 1285.5,615.8 1285.7,622.3 1285.9,635.3 1286.0,635.4 1286.2,621.5 1286.4,614.9 1286.5,622.7 1286.7,617.5 1286.9,627.3 1287.0,626.9 1287.2,618.3 1287.4,621.1 1287.5,609.2 1287.7,608.1 1287.9,620.0 1288.0,625.2 1288.2,625.5 1288.4,609.6 1288.5,612.7 1288.7,622.7 1288.9,608.9 1289.0,608.3 1289.2,624.5 1289.4,612.3 1289.5,610.5 1289.7,608.2 1289.9,611.0 1290.0,624.7 1290.2,609.0 1290.4,613.1 1290.5,616.0 1290.7,607.5 1290.9,622.0 1291.0,609.2 1291.2,629.9 1291.4,617.4 1291.5,619.8 1291.7,610.1 1291.9,614.1 1292.0,624.7 1292.2,618.8 1292.4,613.9 1292.5,610.0 1292.7,619.7 1292.9,618.2 1293.0,611.8 1293.2,613.4 1293.4,610.2 1293.5,625.5 1293.7,622.4 1293.9,611.9 1294.0,620.1 1294.2,613.7 1294.4,623.8 1294.5,626.0 1294.7,615.9 1294.9,620.4 1295.0,616.3 1295.2,619.5 1295.4,625.2 1295.5,620.4 1295.7,618.2 1295.9,610.3 1296.0,612.4 1296.2,610.7 1296.4,619.8 1296.5,617.3 1296.7,620.8 1296.9,613.5 1297.0,611.9 1297.2,613.2 1297.4,622.3 1297.5,618.2 1297.7,619.7 1297.9,611.0 1298.0,627.0 1298.2,620.8 1298.4,626.0 1298.5,626.2 1298.7,625.2 1298.9,613.3 1299.0,615.0 1299.2,628.5 1299.4,617.4 1299.5,621.7 1299.7,615.3 1299.9,623.5 1300.0,625.4 1300.2,610.1 1300.4,618.6 1300.5,622.8 1300.7,623.6 1300.9,612.9 1301.0,624.4 1301.2,620.3 1301.4,620.6 1301.5,612.4 1301.7,615.0 1301.9,625.8 1302.0,617.9 1302.2,622.9 1302.4,626.5 1302.5,613.4 1302.7,619.4 1302.9,631.1 1303.0,615.8 1303.2,626.6 1303.4,621.1 1303.5,623.7 1303.7,633.6 1303.9,627.1 1304.0,625.9 1304.2,619.6 1304.4,627.8 1304.5,613.4 1304.7,611.3 1304.9,620.6 1305.0,623.2 1305.2,624.5 1305.4,627.2 1305.5,618.3 1305.7,619.2 1305.9,624.3 1306.0,607.6 1306.2,614.9 1306.4,628.0 1306.5,628.0 1306.7,611.0 1306.9,622.5 1307.0,604.2 1307.2,612.9 1307.4,618.8 1307.5,623.0 1307.7,621.5 1307.9,625.7 1308.0,627.9 1308.2,616.9 1308.4,616.2 1308.5,617.0 1308.7,626.4 1308.9,620.5 1309.0,628.2 1309.2,626.8 1309.4,612.2 1309.5,619.7 1309.7,621.7 1309.9,615.4 1310.0,614.0 1310.2,622.8 1310.4,613.0 1310.5,621.9 1310.7,618.4 1310.9,617.1 1311.0,614.3 1311.2,621.1 1311.4,616.9 1311.5,628.5 1311.7,617.6 1311.9,626.6 1312.0,619.0 1312.2,625.2 1312.4,627.6 1312.5,618.6 1312.7,615.8 1312.9,604.8 1313.0,620.1 1313.2,617.9 1313.4,625.3 1313.5,617.7 1313.7,611.5 1313.9,634.7 1314.0,618.3 1314.2,626.9 1314.4,614.0 1314.5,623.1 1314.7,623.9 1314.9,614.8 1315.0,613.5 1315.2,614.6 1315.4,619.0 1315.5,621.2 1315.7,614.3 1315.9,625.9 1316.0,617.2 1316.2,611.2 1316.4,623.3 1316.5,621.4 1316.7,624.7 1316.9,623.5 1317.0,616.4 1317.2,619.2 1317.4,613.3 1317.5,629.3 1317.7,624.7 1317.9,625.9 1318.0,620.2 1318.2,608.3 1318.4,611.1 1318.5,628.2 1318.7,625.1 1318.9,613.5 1319.0,614.0 1319.2,622.4 1319.4,622.6 1319.5,622.0 1319.7,613.2 1319.9,620.1 1320.0,628.0 1320.2,617.7 1320.4,619.5 1320.5,623.3 1320.7,621.7 1320.9,613.1 1321.0,621.9 1321.2,623.9 1321.4,615.2 1321.5,616.5 1321.7,616.8 1321.9,613.1 1322.0,629.7 1322.2,628.3 1322.4,622.3 1322.5,621.1 1322.7,612.0 1322.9,622.5 1323.0,624.3 1323.2,615.4 1323.4,616.2 1323.5,619.2 1323.7,617.8 1323.9,619.8 1324.0,616.2 1324.2,628.9 1324.4,622.7 1324.5,627.1 1324.7,629.6 1324.9,627.7 1325.0,620.2 1325.2,614.6 1325.4,620.7 1325.5,619.0 1325.7,609.9 1325.9,618.1 1326.0,613.1 1326.2,613.3 1326.4,618.2 1326.5,625.1 1326.7,615.7 1326.9,619.4 1327.0,612.3 1327.2,616.8 1327.4,620.9 1327.5,614.1 1327.7,628.6 1327.9,624.0 1328.0,622.1 1328.2,623.4 1328.4,620.7 1328.5,622.5 1328.7,612.6 1328.9,618.3 1329.0,617.2 1329.2,612.6 1329.4,628.6 1329.5,613.8 1329.7,611.3 1329.9,623.4 1330.0,621.7 1330.2,612.3 1330.4,618.9 1330.5,619.7 1330.7,613.8 1330.9,612.0 1331.0,614.0 1331.2,625.9 1331.4,610.9 1331.5,607.1 1331.7,617.4 1331.9,612.8 1332.0,622.0 1332.2,615.9 1332.4,618.0 1332.5,619.8 1332.7,624.7 1332.9,623.1 1333.0,613.8 1333.2,618.1 1333.4,624.7 1333.5,613.5 1333.7,616.3 1333.9,609.8 1334.0,625.1 1334.2,611.8 1334.4,621.8 1334.5,625.4 1334.7,620.8 1334.9,621.7 1335.0,619.3 1335.2,602.7 1335.4,609.6 1335.5,619.7 1335.7,616.0 1335.9,618.6 1336.0,608.9 1336.2,622.5 1336.4,616.9 1336.5,620.8 1336.7,609.7 1336.9,625.7 1337.0,625.9 1337.2,611.6 1337.4,613.1 1337.5,618.6 1337.7,618.6 1337.9,623.0 1338.0,610.9 1338.2,620.4 1338.4,608.9 1338.5,620.8 1338.7,607.8 1338.9,610.3 1339.0,618.0 1339.2,606.9 1339.4,613.8 1339.5,615.2 1339.7,623.6 1339.9,618.4 1340.0,611.9 1340.2,613.2 1340.4,620.6 1340.5,615.1 1340.7,624.8 1340.9,615.0 1341.0,615.3 1341.2,608.2 1341.4,606.9 1341.5,614.5 1341.7,616.0 1341.9,618.5 1342.0,610.6 1342.2,616.6 1342.4,622.7 1342.5,623.6 1342.7,600.2 1342.9,614.6 1343.0,617.1 1343.2,608.5 1343.4,609.0 1343.5,613.2 1343.7,612.9 1343.9,614.9 1344.0,618.5 1344.2,623.0 1344.4,613.5 1344.5,629.4 1344.7,620.6 1344.9,609.4 1345.0,624.0 1345.2,616.4 1345.4,618.5 1345.5,614.7 1345.7,615.8 1345.9,621.4 1346.0,605.2 1346.2,625.0 1346.4,619.8 1346.5,622.4 1346.7,608.4 1346.9,613.7 1347.0,609.5 1347.2,617.5 1347.4,609.1 1347.5,614.1 1347.7,621.9 1347.9,606.5 1348.0,613.6 1348.2,608.2 1348.4,616.3 1348.5,610.7 1348.7,613.0 1348.9,614.6 1349.0,621.4 1349.2,616.4 1349.4,616.9 1349.5,610.3 1349.7,605.6 1349.9,603.8 1350.0,613.2 1350.2,609.5 1350.4,608.9 1350.5,611.3 1350.7,615.4 1350.9,612.3 1351.0,610.5 1351.2,616.9 1351.4,616.5 1351.5,611.3 1351.7,603.3 1351.9,616.6 1352.0,623.3 1352.2,610.0 1352.4,616.0 1352.5,616.5 1352.7,612.0 1352.9,621.2 1353.0,608.5 1353.2,619.1 1353.4,611.0 1353.5,609.8 1353.7,606.9 1353.9,611.8 1354.0,604.2 1354.2,614.3 1354.4,616.8 1354.5,613.4 1354.7,614.1 1354.9,617.6 1355.0,613.0 1355.2,616.9 1355.4,613.1 1355.5,609.6 1355.7,623.3 1355.9,600.9 1356.0,615.1 1356.2,610.5 1356.4,612.1 1356.5,612.7 1356.7,606.8 1356.9,622.4 1357.0,607.8 1357.2,606.4 1357.4,618.9 1357.5,611.8 1357.7,609.3 1357.9,618.4 1358.0,606.0 1358.2,602.7 1358.4,626.1 1358.5,613.4 1358.7,615.0 1358.9,613.7 1359.0,617.4 1359.2,611.4 1359.4,604.3 1359.5,602.9 1359.7,607.2 1359.9,610.0 1360.0,609.0 1360.2,614.8 1360.4,618.4 1360.5,602.6 1360.7,616.0 1360.9,617.8 1361.0,606.7 1361.2,618.9 1361.4,625.1 1361.5,611.2 1361.7,607.0 1361.9,621.0 1362.0,616.1 1362.2,615.4 1362.4,620.5 1362.5,608.5 1362.7,607.4 1362.9,606.2 1363.0,614.0 1363.2,605.4 1363.4,628.5 1363.5,613.7 1363.7,620.1 1363.9,620.1 1364.0,612.4 1364.2,605.8 1364.4,610.5 1364.5,611.9 1364.7,610.0 1364.9,613.6 1365.0,620.9 1365.2,618.2 1365.4,607.9 1365.5,616.3 1365.7,620.9 1365.9,623.9 1366.0,611.0 1366.2,619.8 1366.4,624.1 1366.5,621.9 1366.7,624.2 1366.9,612.0 1367.0,618.3 1367.2,609.8 1367.4,624.1 1367.5,619.3 1367.7,607.6 1367.9,611.2 1368.0,617.7 1368.2,609.6 1368.4,618.6 1368.5,606.9 1368.7,614.8 1368.9,620.2 1369.0,621.2 1369.2,613.1 1369.4,613.1 1369.5,617.5 1369.7,607.7 1369.9,606.4 1370.0,612.8 1370.2,622.1 1370.4,609.5 1370.5,608.7 1370.7,608.7 1370.9,621.0 1371.0,607.0 1371.2,606.4 1371.4,613.9 1371.5,622.7 1371.7,613.9 1371.9,611.6 1372.0,608.9 1372.2,609.4 1372.4,614.3 1372.5,618.5 1372.7,619.7 1372.9,609.2 1373.0,609.3 1373.2,606.3 1373.4,609.6 1373.5,607.0 1373.7,605.6 1373.9,607.5 1374.0,614.9 1374.2,617.3 1374.4,618.5 1374.5,616.9 1374.7,618.3 1374.9,605.9 1375.0,604.7 1375.2,606.0 1375.4,619.2 1375.5,615.7 1375.7,613.5 1375.9,609.3 1376.0,621.3 1376.2,612.1 1376.4,601.9 1376.5,620.2 1376.7,605.8 1376.9,617.0 1377.0,618.6 1377.2,619.1 1377.4,608.3 1377.5,615.9 1377.7,620.9 1377.9,604.5 1378.0,611.4 1378.2,615.2 1378.4,607.5 1378.5,604.0 1378.7,610.1 1378.9,603.8 1379.0,602.6 1379.2,604.3 1379.4,605.5 1379.5,604.4 1379.7,620.2 1379.9,620.5 1380.0,603.9 1380.2,614.7 1380.4,619.4 1380.5,604.1 1380.7,604.4 1380.9,604.0 1381.0,619.1 1381.2,611.6 1381.4,609.3 1381.5,608.0 1381.7,613.3 1381.9,611.0 1382.0,608.6 1382.2,611.1 1382.4,605.9 1382.5,618.5 1382.7,604.8 1382.9,601.7 1383.0,601.4 1383.2,614.4 1383.4,604.6 1383.5,606.8 1383.7,611.3 1383.9,608.9 1384.0,612.7 1384.2,623.1 1384.4,615.8 1384.5,606.0 1384.7,615.4 1384.9,618.6 1385.0,618.9 1385.2,604.0 1385.4,616.9 1385.5,611.5 1385.7,610.4 1385.9,607.3 1386.0,616.0 1386.2,601.0 1386.4,613.8 1386.5,600.3 1386.7,615.3 1386.9,605.9 1387.0,611.9 1387.2,615.3 1387.4,610.6 1387.5,610.5 1387.7,598.6 1387.9,613.9 1388.0,608.9 1388.2,615.4 1388.4,603.1 1388.5,605.8 1388.7,604.1 1388.9,613.7 1389.0,616.2 1389.2,605.6 1389.4,604.3 1389.5,613.3 1389.7,608.4 1389.9,605.6 1390.0,599.9 1390.2,613.2 1390.4,610.2 1390.5,613.8 1390.7,609.3 1390.9,614.0 1391.0,603.9 1391.2,599.4 1391.4,608.2 1391.5,602.8 1391.7,611.2 1391.9,607.3 1392.0,605.9 1392.2,610.1 1392.4,604.4 1392.5,612.1 1392.7,608.7 1392.9,602.4 1393.0,622.6 1393.2,607.0 1393.4,613.9 1393.5,609.7 1393.7,611.6 1393.9,605.6 1394.0,601.4 1394.2,607.6 1394.4,608.2 1394.5,604.5 1394.7,606.1 1394.9,606.2 1395.0,614.9 1395.2,611.1 1395.4,603.0 1395.5,599.9 1395.7,601.7 1395.9,610.1 1396.0,613.0 1396.2,598.3 1396.4,600.0 1396.5,603.4 1396.7,608.2 1396.9,613.4 1397.0,609.4 1397.2,618.9 1397.4,616.0 1397.5,608.8 1397.7,607.3 1397.9,604.9 1398.0,599.4 1398.2,609.4 1398.4,598.3 1398.5,606.6 1398.7,603.2 1398.9,612.9 1399.0,598.5 1399.2,606.8 1399.4,615.6 1399.5,613.9 1399.7,612.5 1399.9,614.3 1400.0,614.6 1400.2,610.6 1400.4,604.0 1400.5,603.4 1400.7,609.5 1400.9,609.7 1401.0,609.9 1401.2,600.5 1401.4,615.6 1401.5,599.9 1401.7,615.0 1401.9,601.9 1402.0,603.4 1402.2,612.5 1402.4,603.3 1402.5,606.5 1402.7,600.4 1402.9,615.7 1403.0,617.5 1403.2,601.2 1403.4,597.9 1403.5,614.1 1403.7,611.2 1403.9,602.8 1404.0,602.1 1404.2,597.7 1404.4,601.4 1404.5,611.6 1404.7,598.6 1404.9,611.1 1405.0,611.6 1405.2,611.6 1405.4,608.6 1405.5,604.1 1405.7,605.4 1405.9,612.4 1406.0,608.9 1406.2,605.1 1406.4,599.7 1406.5,611.3 1406.7,603.6 1406.9,599.2 1407.0,621.4 1407.2,606.4 1407.4,614.2 1407.5,609.3 1407.7,606.4 1407.9,599.3 1408.0,601.3 1408.2,605.8 1408.4,599.9 1408.5,598.9 1408.7,612.0 1408.9,609.6 1409.0,603.2 1409.2,604.2 1409.4,602.2 1409.5,598.1 1409.7,597.8 1409.9,609.1 1410.0,604.3 1410.2,614.6 1410.4,609.2 1410.5,603.7 1410.7,602.3 1410.9,613.8 1411.0,605.5 1411.2,607.7 1411.4,606.7 1411.5,606.8 1411.7,612.9 1411.9,606.6 1412.0,609.1 1412.2,606.2 1412.4,606.8 1412.5,601.2 1412.7,598.4 1412.9,614.8 1413.0,601.1 1413.2,608.6 1413.4,608.6 1413.5,598.6 1413.7,599.1 1413.9,600.9 1414.0,613.8 1414.2,608.8 1414.4,604.6 1414.5,597.7 1414.7,613.6 1414.9,614.7 1415.0,602.0 1415.2,614.2 1415.4,614.6 1415.5,608.9 1415.7,614.0 1415.9,605.7 1416.0,607.2 1416.2,599.4 1416.4,606.4 1416.5,604.1 1416.7,609.0 1416.9,603.2 1417.0,602.1 1417.2,604.5 1417.4,597.1 1417.5,603.6 1417.7,604.2 1417.9,606.3 1418.0,609.9 1418.2,607.4 1418.4,600.3 1418.5,608.8 1418.7,607.8 1418.9,612.3 1419.0,605.2 1419.2,607.4 1419.4,600.2 1419.5,600.9 1419.7,608.6 1419.9,610.6 1420.0,611.3 1420.2,611.4 1420.4,603.3 1420.5,608.3 1420.7,603.7 1420.9,612.3 1421.0,604.1 1421.2,609.6 1421.4,600.6 1421.5,599.1 1421.7,611.9 1421.9,598.5 1422.0,609.3 1422.2,602.7 1422.4,599.5 1422.5,602.4 1422.7,609.9 1422.9,610.1 1423.0,614.3 1423.2,611.6 1423.4,603.9 1423.5,590.1 1423.7,612.0 1423.9,604.3 1424.0,606.9 1424.2,608.0 1424.4,606.0 1424.5,596.8 1424.7,597.0 1424.9,609.3 1425.0,612.8 1425.2,606.1 1425.4,599.1 1425.5,608.3 1425.7,598.0 1425.9,602.3 1426.0,610.2 1426.2,597.4 1426.4,607.6 1426.5,614.3 1426.7,604.9 1426.9,609.3 1427.0,608.0 1427.2,596.7 1427.4,600.8 1427.5,612.9 1427.7,592.6 1427.9,601.5 1428.0,607.9 1428.2,610.4 1428.4,602.0 1428.5,597.3 1428.7,613.7 1428.9,609.8 1429.0,613.4 1429.2,610.8 1429.4,603.5 1429.5,602.8 1429.7,606.4 1429.9,598.1 1430.0,602.1 1430.2,607.7 1430.4,598.5 1430.5,605.2 1430.7,608.9 1430.9,606.9 1431.0,593.2 1431.2,609.3 1431.4,612.9 1431.5,610.7 1431.7,598.9 1431.9,606.1 1432.0,607.2 1432.2,605.3 1432.4,598.5 1432.5,598.5 1432.7,595.3 1432.9,606.8 1433.0,600.3 1433.2,597.3 1433.4,600.3 1433.5,611.0 1433.7,598.6 1433.9,611.3 1434.0,598.8 1434.2,601.7 1434.4,611.7 1434.5,600.6 1434.7,601.3 1434.9,607.2 1435.0,604.7 1435.2,598.8 1435.4,603.6 1435.5,596.5 1435.7,600.2 1435.9,596.7 1436.0,594.0 1436.2,611.9 1436.4,610.9 1436.5,611.4 1436.7,605.3 1436.9,608.8 1437.0,601.8 1437.2,604.2 1437.4,612.2 1437.5,595.8 1437.7,603.9 1437.9,604.7 1438.0,612.0 1438.2,602.3 1438.4,607.7 1438.5,609.0 1438.7,604.7 1438.9,601.6 1439.0,604.1 1439.2,607.4 1439.4,595.1 1439.5,594.7 1439.7,592.7 1439.9,610.2 1440.0,603.9 1440.2,594.5 1440.4,606.3 1440.5,602.9 1440.7,605.9 1440.9,607.8 1441.0,603.0 1441.2,600.9 1441.4,594.5 1441.5,610.4 1441.7,597.8 1441.9,600.1 1442.0,609.1 1442.2,604.0 1442.4,596.7 1442.5,606.3 1442.7,616.4 1442.9,601.4 1443.0,610.3 1443.2,597.4 1443.4,610.1 1443.5,609.1 1443.7,612.4 1443.9,595.9 1444.0,595.6 1444.2,603.0 1444.4,597.1 1444.5,593.5 1444.7,600.3 1444.9,605.3 1445.0,606.2 1445.2,598.9 1445.4,603.0 1445.5,603.9 1445.7,602.5 1445.9,604.6 1446.0,607.3 1446.2,593.2 1446.4,617.0 1446.5,599.3 1446.7,598.1 1446.9,602.4 1447.0,606.3 1447.2,594.8 1447.4,594.5 1447.5,601.8 1447.7,598.0 1447.9,606.1 1448.0,597.8 1448.2,603.6 1448.4,598.6 1448.5,610.6 1448.7,610.2 1448.9,600.2 1449.0,602.1 1449.2,603.6 1449.4,594.8 1449.5,605.4 1449.7,611.8 1449.9,608.6 1450.0,593.4 1450.2,604.8 1450.4,603.8 1450.5,600.0 1450.7,608.4 1450.9,606.8 1451.0,600.5 1451.2,593.7 1451.4,598.8 1451.5,613.5 1451.7,594.5 1451.9,599.8 1452.0,599.0 1452.2,596.1 1452.4,594.6 1452.5,615.9 1452.7,594.8 1452.9,591.7 1453.0,593.6 1453.2,600.2 1453.4,599.2 1453.5,607.6 1453.7,598.7 1453.9,604.6 1454.0,602.8 1454.2,612.7 1454.4,601.9 1454.5,596.2 1454.7,608.6 1454.9,597.8 1455.0,601.1 1455.2,607.5 1455.4,591.9 1455.5,599.4 1455.7,610.6 1455.9,608.1 1456.0,598.1 1456.2,606.5 1456.4,601.1 1456.5,605.5 1456.7,607.4 1456.9,603.3 1457.0,598.5 1457.2,605.4 1457.4,600.0 1457.5,608.2 1457.7,594.2 1457.9,603.6 1458.0,600.6 1458.2,606.4 1458.4,605.8 1458.5,614.9 1458.7,601.5 1458.9,604.8 1459.0,597.4 1459.2,606.6 1459.4,606.4 1459.5,603.2 1459.7,604.0 1459.9,598.4 1460.0,613.5 1460.2,587.4 1460.4,597.4 1460.5,603.2 1460.7,606.7 1460.9,605.8 1461.0,599.8 1461.2,598.9 1461.4,593.7 1461.5,606.6 1461.7,594.5 1461.9,598.1 1462.0,597.4 1462.2,600.7 1462.4,593.8 1462.5,590.4 1462.7,590.7 1462.9,584.1 1463.0,594.5 1463.2,604.2 1463.4,597.9 1463.5,604.2 1463.7,597.2 1463.9,593.2 1464.0,606.6 1464.2,594.6 1464.4,602.0 1464.5,607.3 1464.7,597.3 1464.9,607.5 1465.0,593.1 1465.2,599.1 1465.4,603.6 1465.5,603.3 1465.7,591.8 1465.9,601.3 1466.0,594.7 1466.2,600.6 1466.4,587.0 1466.5,604.2 1466.7,610.7 1466.9,591.0 1467.0,605.5 1467.2,601.3 1467.4,594.0 1467.5,600.6 1467.7,595.1 1467.9,592.7 1468.0,594.0 1468.2,607.6 1468.4,603.4 1468.5,592.6 1468.7,598.7 1468.9,604.1 1469.0,598.8 1469.2,597.5 1469.4,601.6 1469.5,603.3 1469.7,603.5 1469.9,605.2 1470.0,593.8 1470.2,598.1 1470.4,601.7 1470.5,600.0 1470.7,594.0 1470.9,605.4 1471.0,603.9 1471.2,600.1 1471.4,593.9 1471.5,601.5 1471.7,603.4 1471.9,599.1 1472.0,590.3 1472.2,596.0 1472.4,595.5 1472.5,599.7 1472.7,604.2 1472.9,590.4 1473.0,594.5 1473.2,595.6 1473.4,599.7 1473.5,594.3 1473.7,601.0 1473.9,583.0 1474.0,602.3 1474.2,591.6 1474.4,592.5 1474.5,590.5 1474.7,598.2 1474.9,601.0 1475.0,598.0 1475.2,605.9 1475.4,592.0 1475.5,600.5 1475.7,595.0 1475.9,587.8 1476.0,589.2 1476.2,590.3 1476.4,598.2 1476.5,597.7 1476.7,597.9 1476.9,589.5 1477.0,590.8 1477.2,611.9 1477.4,595.8 1477.5,597.8 1477.7,588.3 1477.9,596.5 1478.0,604.0 1478.2,589.5 1478.4,602.5 1478.5,598.6 1478.7,598.9 1478.9,588.0 1479.0,601.0 1479.2,602.5 1479.4,587.1 1479.5,598.0 1479.7,588.8 1479.9,603.3 1480.0,597.6 1480.2,595.5 1480.4,589.5 1480.5,603.2 1480.7,602.9 1480.9,604.7 1481.0,605.8 1481.2,593.5 1481.4,592.2 1481.5,588.1 1481.7,592.4 1481.9,588.2 1482.0,592.0 1482.2,602.2 1482.4,590.8 1482.5,603.2 1482.7,595.8 1482.9,588.1 1483.0,587.5 1483.2,588.8 1483.4,591.6 1483.5,602.1 1483.7,592.8 1483.9,589.2 1484.0,594.6 1484.2,598.8 1484.4,607.1 1484.5,594.9 1484.7,597.9 1484.9,597.1 1485.0,588.3 1485.2,593.1 1485.4,597.1 1485.5,597.3 1485.7,607.2 1485.9,601.6 1486.0,602.2 1486.2,592.2 1486.4,608.6 1486.5,593.2 1486.7,602.5 1486.9,600.0 1487.0,600.7 1487.2,593.3 1487.4,595.9 1487.5,593.5 1487.7,593.7 1487.9,597.0 1488.0,584.0 1488.2,597.6 1488.4,601.4 1488.5,596.1 1488.7,593.3 1488.9,591.1 1489.0,599.0 1489.2,598.8 1489.4,590.4 1489.5,593.7 1489.7,603.6 1489.9,593.9 1490.0,595.3 1490.2,592.2 1490.4,597.6 1490.5,604.9 1490.7,597.5 1490.9,594.2 1491.0,597.1 1491.2,596.4 1491.4,591.3 1491.5,588.4 1491.7,590.7 1491.9,593.4 1492.0,594.4 1492.2,587.5 1492.4,585.7 1492.5,597.2 1492.7,592.4 1492.9,593.6 1493.0,598.8 1493.2,589.9 1493.4,593.2 1493.5,599.5 1493.7,604.4 1493.9,596.1 1494.0,600.3 1494.2,596.0 1494.4,590.3 1494.5,589.7 1494.7,593.0 1494.9,599.1 1495.0,595.3 1495.2,596.7 1495.4,596.5 1495.5,587.9 1495.7,596.0 1495.9,598.9 1496.0,594.7 1496.2,599.3 1496.4,592.5 1496.5,593.3 1496.7,589.1 1496.9,603.0 1497.0,588.8 1497.2,596.3 1497.4,589.8 1497.5,593.5 1497.7,595.1 1497.9,590.5 1498.0,590.8 1498.2,609.0 1498.4,593.4 1498.5,592.5 1498.7,600.1 1498.9,591.2 1499.0,586.0 1499.2,595.4 1499.4,603.8 1499.5,601.3 1499.7,590.1 1499.9,592.9 1500.0,589.2 1500.2,590.0 1500.4,598.1 1500.5,602.3 1500.7,598.3 1500.9,603.7 1501.0,587.1 1501.2,599.5 1501.4,604.6 1501.5,598.8 1501.7,588.6 1501.9,591.6 1502.0,583.8 1502.2,586.4 1502.4,599.7 1502.5,600.5 1502.7,594.8 1502.9,600.5 1503.0,591.3 1503.2,602.0 1503.4,587.8 1503.5,595.4 1503.7,602.3 1503.9,598.5 1504.0,589.1 1504.2,593.5 1504.4,598.3 1504.5,591.3 1504.7,593.7 1504.9,593.8 1505.0,610.1 1505.2,595.2 1505.4,595.6 1505.5,600.7 1505.7,594.4 1505.9,586.0 1506.0,587.3 1506.2,591.9 1506.4,602.2 1506.5,603.8 1506.7,601.4 1506.9,587.9 1507.0,595.8 1507.2,587.0 1507.4,602.1 1507.5,586.2 1507.7,597.5 1507.9,589.5 1508.0,593.9 1508.2,593.9 1508.4,600.3 1508.5,594.0 1508.7,602.3 1508.9,578.8 1509.0,588.6 1509.2,594.3 1509.4,599.3 1509.5,587.2 1509.7,591.5 1509.9,597.4 1510.0,598.3 1510.2,599.5 1510.4,592.5 1510.5,602.2 1510.7,596.5 1510.9,584.7 1511.0,578.2 1511.2,599.4 1511.4,586.3 1511.5,598.8 1511.7,588.6 1511.9,595.7 1512.0,593.5 1512.2,600.2 1512.4,585.1 1512.5,596.4 1512.7,599.3 1512.9,593.5 1513.0,601.3 1513.2,593.6 1513.4,593.4 1513.5,584.9 1513.7,590.4 1513.9,587.1 1514.0,586.6 1514.2,587.1 1514.4,599.2 1514.5,586.1 1514.7,585.3 1514.9,597.3 1515.0,591.6 1515.2,592.5 1515.4,600.6 1515.5,585.1 1515.7,590.0 1515.9,600.7 1516.0,583.5 1516.2,591.5 1516.4,583.2 1516.5,585.8 1516.7,583.1 1516.9,592.6 1517.0,598.0 1517.2,595.7 1517.4,594.6 1517.5,577.3 1517.7,589.3 1517.9,593.3 1518.0,581.5 1518.2,598.7 1518.4,586.8 1518.5,582.6 1518.7,593.6 1518.9,596.1 1519.0,585.0 1519.2,587.7 1519.4,587.0 1519.5,585.7 1519.7,595.6 1519.9,572.2 1520.0,585.7 1520.2,593.9 1520.4,590.3 1520.5,586.1 1520.7,587.9 1520.9,594.6 1521.0,570.8 1521.2,587.3 1521.4,587.1 1521.5,579.9 1521.7,584.3 1521.9,586.1 1522.0,576.4 1522.2,594.0 1522.4,591.7 1522.5,591.9 1522.7,592.2 1522.9,571.0 1523.0,583.6 1523.2,584.4 1523.4,581.4 1523.5,590.2 1523.7,579.6 1523.9,585.1 1524.0,576.1 1524.2,581.9 1524.4,585.3 1524.5,576.3 1524.7,587.6 1524.9,576.9 1525.0,581.5 1525.2,579.8 1525.4,583.1 1525.5,578.1 1525.7,594.8 1525.9,586.0 1526.0,583.9 1526.2,586.0 1526.4,581.3 1526.5,577.4 1526.7,585.6 1526.9,592.1 1527.0,583.9 1527.2,578.1 1527.4,576.7 1527.5,574.8 1527.7,591.2 1527.9,592.9 1528.0,591.1 1528.2,587.1 1528.4,592.3 1528.5,584.4 1528.7,578.3 1528.9,578.9 1529.0,589.2 1529.2,587.0 1529.4,583.6 1529.5,579.9 1529.7,587.2 1529.9,588.8 1530.0,585.2 1530.2,601.8 1530.4,584.8 1530.5,585.5 1530.7,581.5 1530.9,585.9 1531.0,586.9 1531.2,596.3 1531.4,578.9 1531.5,579.3 1531.7,595.9 1531.9,581.7 1532.0,584.6 1532.2,594.5 1532.4,583.8 1532.5,592.0 1532.7,586.2 1532.9,590.2 1533.0,582.3 1533.2,577.7 1533.4,584.2 1533.5,581.9 1533.7,592.1 1533.9,576.4 1534.0,594.8 1534.2,593.6 1534.4,580.7 1534.5,586.7 1534.7,582.1 1534.9,588.0 1535.0,587.8 1535.2,593.6 1535.4,594.3 1535.5,583.0 1535.7,594.1 1535.9,589.8 1536.0,594.5 1536.2,595.1 1536.4,584.6 1536.5,586.8 1536.7,593.0 1536.9,582.6 1537.0,593.0 1537.2,578.5 1537.4,577.6 1537.5,586.8 1537.7,589.9 1537.9,587.3 1538.0,586.1 1538.2,577.3 1538.4,580.8 1538.5,590.5 1538.7,581.2 1538.9,582.3 1539.0,593.1 1539.2,591.4 1539.4,584.0 1539.5,593.7 1539.7,591.9 1539.9,580.6 1540.0,589.4 1540.2,592.1 1540.4,584.9 1540.5,580.1 1540.7,587.0 1540.9,582.0 1541.0,593.5 1541.2,590.3 1541.4,591.3 1541.5,578.0 1541.7,587.2 1541.9,582.9 1542.0,592.0 1542.2,594.7 1542.4,581.3 1542.5,579.0 1542.7,588.4 1542.9,585.1 1543.0,583.5 1543.2,592.2 1543.4,588.4 1543.5,593.8 1543.7,582.0 1543.9,585.5 1544.0,588.5 1544.2,582.5 1544.4,590.7 1544.5,581.5 1544.7,590.0 1544.9,591.0 1545.0,588.3 1545.2,581.6 1545.4,591.6 1545.5,584.5 1545.7,576.0 1545.9,588.4 1546.0,582.7 1546.2,589.8 1546.4,574.9 1546.5,579.2 1546.7,587.5 1546.9,580.4 1547.0,579.5 1547.2,573.0 1547.4,580.3 1547.5,594.1 1547.7,579.2 1547.9,592.1 1548.0,581.3 1548.2,575.7 1548.4,582.8 1548.5,579.0 1548.7,581.4 1548.9,591.5 1549.0,583.5 1549.2,586.0 1549.4,582.6 1549.5,578.1 1549.7,582.0 1549.9,575.3 1550.0,592.4 1550.2,587.9 1550.4,581.1 1550.5,585.4 1550.7,591.7 1550.9,590.5 1551.0,589.3 1551.2,592.9 1551.4,589.3 1551.5,584.5 1551.7,579.6 1551.9,574.8 1552.0,589.8 1552.2,582.9 1552.4,588.6 1552.5,575.4 1552.7,581.3 1552.9,583.6 1553.0,579.5 1553.2,581.5 1553.4,592.8 1553.5,579.9 1553.7,585.0 1553.9,587.2 1554.0,588.3 1554.2,581.2 1554.4,583.9 1554.5,579.2 1554.7,589.5 1554.9,574.6 1555.0,584.6 1555.2,592.3 1555.4,579.2 1555.5,581.1 1555.7,591.9 1555.9,579.5 1556.0,576.7 1556.2,586.0 1556.4,591.7 1556.5,592.1 1556.7,577.6 1556.9,581.6 1557.0,574.2 1557.2,583.9 1557.4,588.0 1557.5,574.7 1557.7,576.9 1557.9,580.2 1558.0,580.7 1558.2,584.6 1558.4,580.1 1558.5,574.0 1558.7,587.3 1558.9,586.4 1559.0,591.3 1559.2,576.2 1559.4,581.4 1559.5,582.0 1559.7,597.6 1559.9,591.1 1560.0,592.1 1560.2,591.7 1560.4,586.9 1560.5,576.9 1560.7,576.5 1560.9,583.6 1561.0,586.5 1561.2,569.1 1561.4,598.1 1561.5,576.7 1561.7,584.5 1561.9,589.5 1562.0,581.3 1562.2,592.2 1562.4,574.7 1562.5,578.6 1562.7,573.3 1562.9,588.5 1563.0,584.4 1563.2,586.0 1563.4,578.9 1563.5,589.6 1563.7,582.3 1563.9,588.7 1564.0,583.6 1564.2,578.9 1564.4,575.9 1564.5,584.2 1564.7,584.7 1564.9,583.7 1565.0,587.5 1565.2,576.8 1565.4,581.9 1565.5,577.5 1565.7,579.2 1565.9,587.0 1566.0,573.0 1566.2,579.3 1566.4,579.7 1566.5,576.4 1566.7,584.5 1566.9,590.8 1567.0,578.2 1567.2,586.9 1567.4,579.0 1567.5,575.5 1567.7,578.7 1567.9,573.2 1568.0,576.8 1568.2,586.6 1568.4,575.6 1568.5,575.6 1568.7,597.1 1568.9,587.5 1569.0,581.8 1569.2,587.7 1569.4,590.7 1569.5,574.5 1569.7,584.7 1569.9,576.5 1570.0,589.4 1570.2,583.4 1570.4,581.3 1570.5,586.3 1570.7,580.6 1570.9,571.8 1571.0,577.6 1571.2,583.9 1571.4,572.1 1571.5,587.4 1571.7,590.4 1571.9,575.7 1572.0,589.7 1572.2,586.9 1572.4,580.8 1572.5,585.3 1572.7,586.4 1572.9,587.6 1573.0,582.1 1573.2,580.1 1573.4,576.4 1573.5,583.6 1573.7,584.8 1573.9,586.2 1574.0,585.6 1574.2,572.0 1574.4,580.4 1574.5,571.3 1574.7,581.4 1574.9,583.0 1575.0,571.0 1575.2,571.1 1575.4,571.6 1575.5,585.1 1575.7,579.7 1575.9,577.3 1576.0,578.3 1576.2,587.3 1576.4,571.7 1576.5,576.0 1576.7,588.9 1576.9,578.2 1577.0,583.8 1577.2,581.8 1577.4,572.5 1577.5,576.6 1577.7,583.9 1577.9,579.6 1578.0,573.7 1578.2,582.2 1578.4,584.9 1578.5,581.7 1578.7,584.1 1578.9,576.5 1579.0,587.7 1579.2,575.4 1579.4,581.1 1579.5,572.9 1579.7,584.5 1579.9,572.2 1580.0,581.5 1580.2,581.0 1580.4,586.8 1580.5,570.1 1580.7,572.3 1580.9,575.4 1581.0,570.6 1581.2,576.3 1581.4,576.2 1581.5,584.5 1581.7,579.6 1581.9,584.0 1582.0,575.3 1582.2,570.6 1582.4,587.7 1582.5,574.7 1582.7,573.4 1582.9,586.5 1583.0,579.2 1583.2,582.5 1583.4,578.3 1583.5,568.8 1583.7,583.2 1583.9,587.6 1584.0,584.3 1584.2,586.5 1584.4,585.0 1584.5,588.1 1584.7,581.3 1584.9,584.0 1585.0,591.2 1585.2,577.9 1585.4,574.2 1585.5,574.1 1585.7,582.5 1585.9,571.2 1586.0,583.2 1586.2,573.2 1586.4,580.3 1586.5,569.0 1586.7,578.5 1586.9,580.4 1587.0,584.2 1587.2,573.4 1587.4,587.2 1587.5,574.4 1587.7,579.7 1587.9,577.0 1588.0,574.0 1588.2,581.6 1588.4,583.5 1588.5,568.6 1588.7,579.9 1588.9,573.3 1589.0,582.2 1589.2,571.2 1589.4,580.6 1589.5,581.1 1589.7,583.0 1589.9,585.6 1590.0,579.9 1590.2,572.1 1590.4,573.4 1590.5,582.0 1590.7,582.6 1590.9,584.8 1591.0,568.6 1591.2,572.2 1591.4,586.2 1591.5,584.6 1591.7,577.4 1591.9,571.1 1592.0,573.2 1592.2,584.9 1592.4,569.0 1592.5,582.9 1592.7,577.9 1592.9,583.5 1593.0,571.5 1593.2,574.9 1593.4,584.1 1593.5,568.4 1593.7,568.7 1593.9,576.3 1594.0,567.1 1594.2,577.0 1594.4,562.4 1594.5,573.9 1594.7,580.9 1594.9,574.6 1595.0,568.4 1595.2,578.0 1595.4,568.7 1595.5,569.4 1595.7,575.0 1595.9,584.6 1596.0,576.1 1596.2,586.5 1596.4,574.3 1596.5,570.9 1596.7,579.9 1596.9,592.9 1597.0,569.0 1597.2,585.0 1597.4,582.1 1597.5,592.3 1597.7,586.2 1597.9,575.9 1598.0,573.3 1598.2,583.1 1598.4,579.6 1598.5,583.5 1598.7,568.4 1598.9,577.0 1599.0,578.3 1599.2,579.5 1599.4,576.4 1599.5,580.6 1599.7,570.9 1599.9,576.1 1600.0,574.3 1600.2,585.8 1600.4,592.4 1600.5,579.7 1600.7,582.7 1600.9,584.8 1601.0,573.2 1601.2,580.6 1601.4,567.1 1601.5,582.3 1601.7,569.8 1601.9,579.1 1602.0,577.8 1602.2,571.0 1602.4,571.2 1602.5,575.5 1602.7,582.2 1602.9,576.8 1603.0,566.4 1603.2,568.9 1603.4,582.4 1603.5,570.5 1603.7,584.4 1603.9,572.5 1604.0,572.9 1604.2,581.5 1604.4,568.9 1604.5,567.9 1604.7,573.2 1604.9,572.7 1605.0,576.3 1605.2,567.8 1605.4,581.4 1605.5,570.9 1605.7,573.4 1605.9,572.6 1606.0,581.7 1606.2,571.6 1606.4,570.7 1606.5,579.5 1606.7,576.8 1606.9,581.1 1607.0,568.5 1607.2,566.4 1607.4,578.5 1607.5,567.0 1607.7,582.0 1607.9,565.9 1608.0,581.4 1608.2,578.8 1608.4,579.8 1608.5,573.2 1608.7,571.3 1608.9,573.9 1609.0,575.0 1609.2,565.3 1609.4,577.4 1609.5,570.6 1609.7,578.2 1609.9,579.9 1610.0,577.1 1610.2,567.1 1610.4,578.9 1610.5,568.6 1610.7,584.9 1610.9,573.2 1611.0,576.9 1611.2,566.6 1611.4,570.6 1611.5,576.3 1611.7,569.9 1611.9,558.8 1612.0,581.1 1612.2,580.4 1612.4,566.7 1612.5,590.3 1612.7,579.6 1612.9,574.1 1613.0,571.0 1613.2,570.5 1613.4,571.6 1613.5,579.8 1613.7,575.6 1613.9,590.8 1614.0,582.1 1614.2,567.5 1614.4,571.9 1614.5,581.6 1614.7,582.0 1614.9,566.9 1615.0,558.3 1615.2,568.8 1615.4,567.2 1615.5,570.9 1615.7,581.1 1615.9,580.5 1616.0,573.3 1616.2,571.7 1616.4,565.4 1616.5,583.1 1616.7,578.6 1616.9,577.9 1617.0,581.2 1617.2,574.3 1617.4,586.0 1617.5,573.6 1617.7,569.1 1617.9,576.3 1618.0,561.4 1618.2,580.9 1618.4,569.7 1618.5,571.4 1618.7,566.2 1618.9,571.8 1619.0,583.2 1619.2,574.3 1619.4,560.3 1619.5,568.5 1619.7,581.0 1619.9,557.7 1620.0,583.5 1620.2,582.2 1620.4,572.3 1620.5,582.0 1620.7,566.5 1620.9,570.0 1621.0,578.1 1621.2,567.9 1621.4,574.0 1621.5,570.6 1621.7,570.6 1621.9,576.8 1622.0,578.4 1622.2,565.6 1622.4,577.1 1622.5,574.4 1622.7,589.5 1622.9,564.5 1623.0,577.3 1623.2,575.9 1623.4,564.4 1623.5,577.3 1623.7,579.9 1623.9,577.9 1624.0,573.6 1624.2,580.4 1624.4,569.3 1624.5,567.7 1624.7,571.9 1624.9,564.2 1625.0,581.2 1625.2,565.0 1625.4,577.5 1625.5,568.1 1625.7,569.3 1625.9,571.0 1626.0,579.2 1626.2,573.6 1626.4,580.4 1626.5,563.0 1626.7,566.8 1626.9,581.3 1627.0,566.7 1627.2,567.8 1627.4,569.8 1627.5,571.8 1627.7,573.8 1627.9,573.9 1628.0,585.0 1628.2,566.0 1628.4,580.3 1628.5,572.4 1628.7,580.1 1628.9,567.5 1629.0,569.1 1629.2,576.1 1629.4,570.6 1629.5,569.8 1629.7,567.2 1629.9,569.5 1630.0,568.8 1630.2,572.1 1630.4,569.4 1630.5,564.7 1630.7,576.7 1630.9,577.5 1631.0,567.3 1631.2,562.4 1631.4,565.9 1631.5,581.2 1631.7,578.0 1631.9,580.5 1632.0,562.7 1632.2,564.5 1632.4,580.4 1632.5,567.3 1632.7,576.3 1632.9,565.4 1633.0,564.8 1633.2,571.0 1633.4,564.6 1633.5,581.9 1633.7,573.5 1633.9,566.4 1634.0,568.6 1634.2,570.6 1634.4,568.9 1634.5,578.1 1634.7,571.3 1634.9,564.9 1635.0,566.8 1635.2,573.9 1635.4,579.8 1635.5,561.7 1635.7,570.0 1635.9,566.2 1636.0,567.9 1636.2,576.2 1636.4,569.4 1636.5,561.9 1636.7,564.5 1636.9,586.5 1637.0,565.2 1637.2,564.2 1637.4,581.4 1637.5,571.1 1637.7,566.9 1637.9,571.1 1638.0,575.4 1638.2,578.3 1638.4,567.0 1638.5,567.3 1638.7,570.2 1638.9,563.2 1639.0,566.0 1639.2,564.1 1639.4,578.1 1639.5,574.8 1639.7,562.6 1639.9,570.2 1640.0,567.8 1640.2,561.5 1640.4,577.8 1640.5,563.7 1640.7,573.1 1640.9,563.0 1641.0,568.1 1641.2,579.1 1641.4,566.8 1641.5,574.9 1641.7,561.9 1641.9,562.2 1642.0,573.7 1642.2,576.2 1642.4,572.8 1642.5,562.9 1642.7,580.0 1642.9,561.6 1643.0,569.4 1643.2,561.2 1643.4,560.3 1643.5,575.3 1643.7,561.9 1643.9,579.7 1644.0,572.5 1644.2,562.9 1644.4,574.8 1644.5,570.1 1644.7,574.7 1644.9,575.8 1645.0,574.1 1645.2,578.9 1645.4,565.5 1645.5,585.3 1645.7,569.9 1645.9,582.9 1646.0,579.4 1646.2,560.0 1646.4,575.0 1646.5,577.4 1646.7,563.8 1646.9,577.5 1647.0,568.2 1647.2,560.0 1647.4,563.0 1647.5,563.0 1647.7,567.1 1647.9,571.3 1648.0,572.1 1648.2,567.2 1648.4,559.9 1648.5,570.2 1648.7,573.0 1648.9,560.1 1649.0,564.4 1649.2,571.3 1649.4,574.5 1649.5,562.4 1649.7,575.4 1649.9,578.2 1650.0,576.8 1650.2,561.4 1650.4,575.0 1650.5,576.0 1650.7,571.1 1650.9,571.0 1651.0,566.7 1651.2,576.4 1651.4,572.8 1651.5,576.7 1651.7,557.2 1651.9,578.5 1652.0,561.4 1652.2,576.3 1652.4,569.0 1652.5,571.6 1652.7,563.5 1652.9,570.1 1653.0,571.8 1653.2,568.1 1653.4,561.7 1653.5,566.5 1653.7,562.4 1653.9,573.4 1654.0,563.2 1654.2,555.4 1654.4,575.7 1654.5,570.6 1654.7,573.0 1654.9,567.4 1655.0,557.6 1655.2,564.2 1655.4,569.9 1655.5,572.8 1655.7,562.9 1655.9,562.1 1656.0,560.7 1656.2,564.6 1656.4,565.4 1656.5,566.2 1656.7,566.2 1656.9,566.7 1657.0,573.7 1657.2,558.8 1657.4,556.3 1657.5,570.7 1657.7,569.3 1657.9,559.7 1658.0,574.2 1658.2,571.0 1658.4,558.6 1658.5,563.1 1658.7,565.9 1658.9,580.9 1659.0,575.7 1659.2,553.1 1659.4,569.8 1659.5,553.6 1659.7,558.1 1659.9,558.7 1660.0,555.9 1660.2,571.8 1660.4,566.9 1660.5,572.5 1660.7,558.9 1660.9,572.5 1661.0,567.5 1661.2,559.5 1661.4,565.1 1661.5,567.4 1661.7,566.9 1661.9,565.6 1662.0,555.9 1662.2,557.5 1662.4,563.3 1662.5,570.4 1662.7,575.6 1662.9,566.1 1663.0,561.4 1663.2,572.2 1663.4,562.8 1663.5,559.9 1663.7,557.7 1663.9,561.5 1664.0,564.1 1664.2,563.2 1664.4,557.1 1664.5,560.6 1664.7,567.0 1664.9,555.2 1665.0,563.8 1665.2,574.5 1665.4,559.4 1665.5,557.2 1665.7,562.5 1665.9,554.7 1666.0,561.2 1666.2,559.0 1666.4,575.6 1666.5,564.4 1666.7,553.9" stroke="#00ff00" stroke-width="1" fill="none" shape-rendering="crispEdges"/>
<path d="M77.5 627.5V628.6M82.5 629.5V639.4M92.5 637.6V634.2M100.5 631.4V635.9M103.5 634.5V640.4M104.5 637.8V637.9M104.5 640.7V634.0M108.5 631.6V634.8M124.5 634.1V638.8M132.5 644.3V642.1M135.5 639.1V639.7M137.5 646.6V645.8M138.5 639.1V636.4M152.5 639.2V643.3M153.5 641.1V650.2M156.5 647.0V649.4M159.5 649.9V649.4M164.5 647.7V651.7M170.5 646.4V653.1M178.5 656.0V652.5M181.5 649.5V652.8M182.5 654.3V654.1M193.5 650.4V654.8M197.5 655.4V653.2M197.5 659.4V659.1M198.5 659.3V655.5M198.5 656.0V651.9M200.5 649.9V658.6M205.5 652.0V656.0M208.5 661.6V652.3M214.5 661.2V662.3M215.5 662.5V654.3M216.5 659.8V663.2M219.5 655.3V654.4M222.5 664.5V661.6M225.5 661.4V657.6M226.5 658.7V664.3M231.5 658.3V664.4M247.5 665.0V666.0M265.5 676.8V681.3M274.5 678.7V684.9M275.5 677.2V676.2M282.5 676.8V680.8M290.5 686.3V681.5M291.5 687.8V688.1M296.5 686.8V680.9M298.5 683.7V686.3M299.5 688.2V686.5M317.5 691.1V688.5M318.5 690.8V696.7M322.5 698.0V700.0M328.5 695.9V695.8M338.5 704.6V700.7M344.5 705.0V697.7M347.5 706.3V707.0M353.5 701.8V708.2M357.5 710.6V710.1M369.5 704.2V713.0M370.5 704.8V708.5M376.5 706.8V715.1M376.5 713.4V712.1M384.5 709.2V714.5M386.5 709.7V713.6M396.5 705.3V711.8M407.5 709.7V707.6M412.5 715.9V708.7M419.5 707.9V717.7M420.5 707.7V715.9M422.5 706.8V709.1M433.5 715.0V708.8M433.5 713.1V706.4M439.5 711.2V715.7M439.5 715.7V706.0M444.5 709.7V712.0M445.5 716.7V711.7M451.5 711.6V715.1M461.5 707.7V718.0M462.5 714.0V709.0M465.5 717.2V717.1M477.5 714.7V712.7M480.5 711.7V715.4M482.5 709.3V715.3M485.5 714.8V716.0M502.5 708.2V713.3M513.5 704.9V710.8M515.5 710.9V712.9M519.5 705.5V707.3M520.5 711.8V706.5M521.5 712.2V708.1M525.5 711.7V707.7M534.5 700.8V702.9M535.5 704.7V698.9M537.5 696.7V705.3M539.5 703.4V699.3M540.5 700.7V702.5M543.5 701.8V698.4M547.5 699.2V697.6M560.5 688.4V697.5M569.5 688.4V689.2M572.5 683.8V688.5M589.5 688.4V687.3M590.5 689.4V681.6M604.5 681.5V678.1M608.5 675.2V686.2M613.5 681.2V683.5M621.5 672.3V679.8M629.5 682.4V677.8M649.5 671.5V676.7M657.5 669.9V678.2M665.5 676.0V672.7M665.5 676.7V673.9M672.5 667.0V661.4M684.5 672.4V664.4M687.5 664.9V658.0M687.5 667.7V660.7M687.5 666.8V658.5M702.5 667.1V653.1M706.5 663.0V664.7M708.5 660.1V660.3M708.5 656.2V650.0M725.5 653.4V647.5M725.5 651.3V648.7M729.5 653.7V649.0M730.5 649.7V658.0M730.5 653.0V651.0M730.5 651.7V658.8M733.5 662.9V648.6M749.5 646.6V643.4M751.5 650.6V646.6M751.5 654.8V650.6M759.5 653.0V643.5M759.5 648.7V655.9M761.5 658.2V658.5M765.5 654.2V648.1M790.5 655.6V656.7M796.5 647.0V640.5M797.5 650.9V654.5M815.5 643.6V649.2M819.5 641.8V645.5M821.5 649.5V649.4M823.5 653.1V642.3M825.5 651.8V639.6M825.5 636.3V647.4M831.5 640.7V652.7M832.5 648.9V637.9M838.5 638.2V642.9M846.5 643.9V643.4M851.5 636.5V647.2M859.5 632.0V635.8M863.5 638.7V633.0M865.5 636.1V631.5M865.5 635.7V628.1M870.5 630.8V630.4M875.5 624.6V643.4M880.5 634.1V640.3M890.5 630.1V637.1M890.5 637.5V640.0M892.5 630.9V631.9M896.5 623.7V634.7M900.5 625.9V636.8M910.5 633.7V626.2M913.5 633.9V639.7M915.5 628.7V627.4M919.5 629.4V632.7M923.5 636.4V628.6M926.5 633.1V638.3M931.5 641.4V642.8M932.5 627.7V642.6M934.5 629.2V638.7M938.5 670.8V673.0M942.5 673.3V676.5M959.5 674.6V676.7M963.5 671.8V677.4M991.5 673.3V674.2M991.5 677.8V674.4M996.5 666.2V672.6M1001.5 665.3V669.3M1008.5 673.9V672.9M1013.5 675.5V673.0M1014.5 666.2V661.1M1026.5 669.0V661.6M1027.5 661.5V667.5M1030.5 657.4V667.5M1032.5 661.4V672.7M1043.5 667.1V667.3M1047.5 652.7V657.8M1052.5 665.6V655.9M1053.5 665.9V662.1M1062.5 657.2V654.1M1064.5 651.3V655.0M1068.5 664.2V664.2M1071.5 651.3V663.8M1071.5 649.0V659.0M1076.5 663.6V658.5M1084.5 658.1V659.3M1095.5 641.1V643.5M1102.5 608.4V617.8M1105.5 612.3V601.0M1114.5 579.2V584.1M1118.5 583.7V592.3M1126.5 620.5V607.7M1139.5 619.1V623.6M1140.5 616.0V622.8M1145.5 610.1V619.0M1152.5 624.6V606.7M1153.5 612.3V605.7M1163.5 617.5V616.9M1167.5 604.7V607.8M1167.5 615.5V602.0M1174.5 601.6V597.8M1177.5 598.7V612.2M1177.5 599.4V600.9M1180.5 588.2V604.9M1183.5 599.0V590.5M1184.5 589.9V590.6M1195.5 579.4V575.8M1211.5 588.7V602.6M1217.5 612.5V604.3M1220.5 616.2V609.7M1223.5 608.2V618.1M1224.5 624.8V613.2M1234.5 631.6V632.9M1245.5 640.6V629.9M1248.5 641.9V634.5M1249.5 632.5V641.6M1249.5 644.1V627.8M1254.5 631.1V628.0M1262.5 639.8V627.7M1264.5 627.7V637.4M1276.5 637.9V625.4M1278.5 632.8V639.3M1279.5 635.6V627.4M1281.5 623.7V614.8M1284.5 600.1V600.7M1285.5 607.9V606.3M1296.5 587.5V593.1M1298.5 592.5V590.4M1304.5 589.7V592.3M1310.5 593.9V596.5M1314.5 607.0V601.9M1325.5 607.5V610.5M1333.5 590.7V602.4M1335.5 592.4V602.4M1339.5 599.9V598.9M1359.5 591.7V580.8M1359.5 582.2V580.3M1369.5 609.5V613.5M1379.5 609.8V605.8M1380.5 607.9V612.1M1398.5 614.1V616.1M1400.5 607.8V614.5M1401.5 606.1V613.7M1406.5 615.8V599.9M1407.5 607.1V613.9M1419.5 606.6V605.2M1427.5 612.1V601.7M1429.5 598.6V603.6M1433.5 612.2V603.3M1441.5 596.0V598.5M1451.5 607.4V600.5M1453.5 602.1V604.6M1456.5 592.8V598.5M1458.5 602.9V595.2M1468.5 603.0V592.1M1469.5 600.6V593.2M1472.5 603.9V593.5M1475.5 596.9V597.5M1487.5 600.9V592.5M1494.5 604.7V598.9M1501.5 586.4V592.8M1503.5 596.6V594.6M1505.5 600.0V593.0M1509.5 601.0V590.8M1511.5 586.9V591.1M1511.5 588.2V595.9M1513.5 587.5V592.0M1534.5 581.3V581.3M1535.5 583.1V591.3M1536.5 586.3V580.1M1546.5 584.0V584.2M1549.5 580.0V578.3M1552.5 580.6V583.7M1553.5 581.7V587.4M1559.5 577.6V583.7M1562.5 583.5V583.8M1570.5 573.9V574.0M1574.5 576.4V578.7M1577.5 588.2V572.7M1577.5 579.9V578.8M1584.5 578.7V573.9M1586.5 573.5V588.3M1594.5 573.1V569.3M1596.5 584.2V568.5M1602.5 583.7V581.7M1605.5 576.1V572.1M1609.5 572.7V579.5M1611.5 576.7V580.0M1612.5 576.4V584.3M1612.5 576.0V569.1M1615.5 569.7V573.4M1626.5 578.3V574.9M1648.5 575.6V564.9M1650.5 575.0V559.2M1654.5 559.4V565.5M1654.5 575.7V559.9M1655.5 572.5V565.9M1655.5 571.3V569.9M1658.5 570.2V565.2M1659.5 574.1V556.6" stroke="#ff0000" stroke-width="1" fill="none" shape-rendering="crispEdges"/>
<path d="M1607.7 572V521" stroke="#00ff00" stroke-width="1.2"/>
<path d="M1606.8 572V538" stroke="#ff0000" stroke-width="1"/>
<rect x="75.60" y="13.40" width="1590.90" height="753.60" fill="none" stroke="#666" stroke-width="1.3"/>
<path d="M61.78 683.26 L68.90 683.26 L70.68 685.05 L70.68 697.58 L68.90 699.37 L61.78 699.37 L60.00 697.58 L60.00 685.05 Z M47.36 685.77 L49.14 683.26 L49.14 699.37 M61.78 607.82 L68.90 607.82 L70.68 609.61 L70.68 622.14 L68.90 623.93 L61.78 623.93 L60.00 622.14 L60.00 609.61 Z M43.80 609.61 L45.58 607.82 L52.70 607.82 L54.48 609.61 L54.48 611.94 L52.70 614.08 L46.11 617.31 L44.69 618.92 L43.80 623.93 L54.48 623.93 M61.78 532.38 L68.90 532.38 L70.68 534.17 L70.68 546.70 L68.90 548.49 L61.78 548.49 L60.00 546.70 L60.00 534.17 Z M45.05 532.38 L52.70 532.38 L54.48 534.53 L54.48 537.75 L52.70 539.72 L48.07 539.72 M52.70 539.72 L54.48 541.69 L54.48 546.70 L52.70 548.49 L45.58 548.49 L43.80 546.70 M61.78 456.94 L68.90 456.94 L70.68 458.73 L70.68 471.26 L68.90 473.05 L61.78 473.05 L60.00 471.26 L60.00 458.73 Z M52.70 473.05 L52.70 456.94 L48.25 460.16 L43.80 464.64 L43.80 466.79 L54.48 466.79 M61.78 381.50 L68.90 381.50 L70.68 383.29 L70.68 395.82 L68.90 397.61 L61.78 397.61 L60.00 395.82 L60.00 383.29 Z M54.48 381.50 L43.80 381.50 L43.80 388.30 L45.05 387.05 L50.56 387.05 L54.48 390.99 L54.48 393.67 L50.56 397.61 L45.58 397.61 L43.80 395.46 M61.78 306.06 L68.90 306.06 L70.68 307.85 L70.68 320.38 L68.90 322.17 L61.78 322.17 L60.00 320.38 L60.00 307.85 Z M52.70 306.06 L47.36 306.06 L43.80 309.64 L43.80 320.38 L45.58 322.17 L52.70 322.17 L54.48 320.38 L54.48 315.01 L52.70 313.04 L45.58 313.04 L43.80 314.29 M61.78 230.62 L68.90 230.62 L70.68 232.41 L70.68 244.94 L68.90 246.73 L61.78 246.73 L60.00 244.94 L60.00 232.41 Z M43.80 230.62 L54.48 230.62 L54.48 231.52 L47.00 246.73 M61.78 155.18 L68.90 155.18 L70.68 156.97 L70.68 169.50 L68.90 171.29 L61.78 171.29 L60.00 169.50 L60.00 156.97 Z M45.58 155.18 L52.70 155.18 L54.48 156.97 L54.48 160.55 L52.70 162.34 L45.58 162.34 L43.80 160.55 L43.80 156.97 Z M45.58 162.34 L43.80 164.49 L43.80 169.50 L45.58 171.29 L52.70 171.29 L54.48 169.50 L54.48 164.49 L52.70 162.34 M61.78 79.74 L68.90 79.74 L70.68 81.53 L70.68 94.06 L68.90 95.85 L61.78 95.85 L60.00 94.06 L60.00 81.53 Z M45.58 95.85 L50.92 95.85 L54.48 92.27 L54.48 81.53 L52.70 79.74 L45.58 79.74 L43.80 81.53 L43.80 86.00 L45.58 87.97 L54.48 87.97 M61.78 4.30 L68.90 4.30 L70.68 6.09 L70.68 18.62 L68.90 20.41 L61.78 20.41 L60.00 18.62 L60.00 6.09 Z M45.58 4.30 L52.70 4.30 L54.48 6.09 L54.48 18.62 L52.70 20.41 L45.58 20.41 L43.80 18.62 L43.80 6.09 Z M31.16 6.81 L32.94 4.30 L32.94 20.41 M62.20 771.20 L69.85 771.20 L71.63 773.29 L71.63 776.43 L69.85 778.35 L65.22 778.35 M69.85 778.35 L71.63 780.27 L71.63 785.15 L69.85 786.90 L62.73 786.90 L60.95 785.15 M78.73 771.20 L85.85 771.20 L87.63 772.94 L87.63 785.15 L85.85 786.90 L78.73 786.90 L76.95 785.15 L76.95 772.94 Z M602.41 773.64 L604.19 771.20 L604.19 786.90 M616.83 771.20 L623.95 771.20 L625.73 772.94 L625.73 785.15 L623.95 786.90 L616.83 786.90 L615.05 785.15 L615.05 772.94 Z M633.03 771.20 L640.15 771.20 L641.93 772.94 L641.93 785.15 L640.15 786.90 L633.03 786.90 L631.25 785.15 L631.25 772.94 Z M1639.11 773.64 L1640.89 771.20 L1640.89 786.90 M1653.63 771.20 L1660.75 771.20 L1662.53 772.94 L1662.53 785.15 L1660.75 786.90 L1653.63 786.90 L1651.85 785.15 L1651.85 772.94 Z M1669.73 771.20 L1676.85 771.20 L1678.63 772.94 L1678.63 785.15 L1676.85 786.90 L1669.73 786.90 L1667.95 785.15 L1667.95 772.94 Z M1685.73 771.20 L1692.85 771.20 L1694.63 772.94 L1694.63 785.15 L1692.85 786.90 L1685.73 786.90 L1683.95 785.15 L1683.95 772.94 Z" stroke="#5a5a5a" stroke-width="1.6" fill="none" stroke-linejoin="round" stroke-linecap="round"/>
<path d="M60.00 694.89 L62.14 693.64 L70.68 687.56 M60.00 619.45 L62.14 618.20 L70.68 612.12 M60.00 544.01 L62.14 542.76 L70.68 536.68 M60.00 468.57 L62.14 467.32 L70.68 461.24 M60.00 393.13 L62.14 391.88 L70.68 385.80 M60.00 317.69 L62.14 316.44 L70.68 310.36 M60.00 242.26 L62.14 241.00 L70.68 234.92 M60.00 166.81 L62.14 165.56 L70.68 159.48 M60.00 91.37 L62.14 90.12 L70.68 84.04 M60.00 15.94 L62.14 14.68 L70.68 8.60 M43.80 15.94 L45.94 14.68 L54.48 8.60 M76.95 782.54 L79.09 781.32 L87.63 775.39 M615.05 782.54 L617.19 781.32 L625.73 775.39 M631.25 782.54 L633.39 781.32 L641.93 775.39 M1651.85 782.54 L1653.99 781.32 L1662.53 775.39 M1667.95 782.54 L1670.09 781.32 L1678.63 775.39 M1683.95 782.54 L1686.09 781.32 L1694.63 775.39" stroke="#333" stroke-width="1.15" fill="none" stroke-linecap="round"/>
<path d="M766.40 795.20 L756.00 795.20 L756.00 810.00 M756.00 801.94 L763.28 801.94 M771.54 801.45 L771.54 810.00 M771.54 803.75 L774.14 801.45 L780.20 801.45 L781.94 803.42 M787.08 805.06 L797.48 805.06 L797.48 803.42 L795.75 801.45 L788.81 801.45 L787.08 803.42 L787.08 808.19 L788.81 810.00 L795.75 810.00 L797.48 808.35 M813.02 801.45 L813.02 817.39 M813.02 801.45 L804.35 801.45 L802.62 803.42 L802.62 808.19 L804.35 810.00 L811.28 810.00 L813.02 808.35 M818.16 801.45 L818.16 808.19 L819.89 810.00 L826.82 810.00 L828.56 808.35 M828.56 801.45 L828.56 810.00 M833.70 805.06 L844.10 805.06 L844.10 803.42 L842.37 801.45 L835.43 801.45 L833.70 803.42 L833.70 808.19 L835.43 810.00 L842.37 810.00 L844.10 808.35 M849.24 801.45 L849.24 810.00 M849.24 803.42 L850.97 801.45 L857.90 801.45 L859.64 803.42 L859.64 810.00 M875.18 803.42 L873.44 801.45 L866.51 801.45 L864.78 803.42 L864.78 808.19 L866.51 810.00 L873.44 810.00 L875.18 808.19 M880.32 801.45 L880.32 808.19 L882.05 810.00 L888.98 810.00 L890.72 808.35 M890.72 801.45 L890.72 815.42 L888.98 817.56 L882.05 817.56 M920.93 795.20 L915.91 798.49 L915.91 806.71 L920.93 810.00 M926.94 810.00 L926.94 795.20 L932.14 803.75 L937.34 795.20 L937.34 810.00 M942.48 795.20 L942.48 810.00 M952.88 795.20 L952.88 810.00 M942.48 802.60 L952.88 802.60 M958.02 801.45 L968.42 801.45 L958.02 810.00 L968.42 810.00 M975.29 795.20 L981.19 798.49 L981.19 806.71 L975.29 810.00" stroke="#4a4a4a" stroke-width="1.3" fill="none" stroke-linejoin="round" stroke-linecap="round"/>
<path d="M7.80 488.38 L20.40 488.38 M14.52 488.38 L13.12 489.85 L13.12 495.73 L14.52 497.20 L19.00 497.20 L20.40 495.73 L20.40 489.85 L19.00 488.38 M7.80 483.75 L20.40 483.75 L20.40 476.40 L19.00 474.93 L15.50 474.93 L14.10 476.40 L14.10 483.75 M14.10 476.40 L12.70 474.93 L9.20 474.93 L7.80 476.40 L7.80 483.75 M7.80 462.22 L10.60 466.48 L17.60 466.48 L20.40 462.22 M13.12 456.85 L18.86 456.85 L20.40 455.38 L20.40 449.50 L19.00 448.03 M13.12 448.03 L20.40 448.03 M7.80 443.40 L15.50 443.40 L20.40 438.99 L15.50 434.58 L7.80 434.58 M13.12 428.48 L13.12 422.60 L14.52 421.13 L19.00 421.13 L20.40 422.60 L20.40 428.48 L19.00 429.95 L14.52 429.95 Z M7.80 412.09 L20.40 412.09 M13.12 403.05 L13.12 396.44 M8.36 400.11 L19.00 400.11 L20.40 398.64 L20.40 395.70 L19.00 394.23 M14.24 380.78 L13.12 382.25 L13.12 388.13 L14.24 389.60 L15.64 389.60 L16.62 388.13 L16.62 382.25 L17.74 380.78 L19.28 380.78 L20.40 382.25 L20.40 388.13 L19.28 389.60 M20.40 376.15 L7.80 367.33 M13.12 362.70 L20.40 362.70 M14.24 362.70 L13.12 361.23 L13.12 359.76 L14.24 358.29 L20.40 358.29 M14.24 358.29 L13.12 356.82 L13.12 355.35 L14.24 353.88 L20.40 353.88 M16.20 349.25 L16.20 340.43 L14.80 340.43 L13.12 341.90 L13.12 347.78 L14.80 349.25 L18.86 349.25 L20.40 347.78 L20.40 341.90 L19.00 340.43 M13.12 335.80 L13.12 329.19 M8.36 332.86 L19.00 332.86 L20.40 331.39 L20.40 328.45 L19.00 326.98 M16.20 322.35 L16.20 313.53 L14.80 313.53 L13.12 315.00 L13.12 320.88 L14.80 322.35 L18.86 322.35 L20.40 320.88 L20.40 315.00 L19.00 313.53 M13.12 308.90 L20.40 308.90 M15.08 308.90 L13.12 306.69 L13.12 301.55 L14.80 300.08 M7.80 293.98 L10.60 288.98 L17.60 288.98 L20.40 293.98" stroke="#555" stroke-width="1.15" fill="none" stroke-linejoin="round" stroke-linecap="round"/>
<path d="M95.70 592.50 L104.95 592.50 L107.10 594.78 L107.10 598.20 L104.95 600.29 L99.36 600.29 M104.95 600.29 L107.10 602.38 L107.10 607.70 L104.95 609.60 L96.35 609.60 L94.20 607.70 M891.60 592.23 L893.65 590.30 L901.85 590.30 L903.90 592.23 L903.90 594.74 L901.85 597.05 L894.26 600.53 L892.62 602.27 L891.60 607.67 L903.90 607.67 M894.90 616.95 L894.90 599.40 L889.90 602.91 L884.90 607.78 L884.90 610.12 L896.90 610.12 M1120.20 544.30 L1108.20 544.30 L1108.20 551.60 L1109.60 550.25 L1115.80 550.25 L1120.20 554.48 L1120.20 557.36 L1115.80 561.58 L1110.20 561.58 L1108.20 559.28 M1109.00 549.50 L1117.00 549.50 L1119.00 551.42 L1119.00 555.26 L1117.00 557.18 L1109.00 557.18 L1107.00 555.26 L1107.00 551.42 Z M1109.00 557.18 L1107.00 559.48 L1107.00 564.86 L1109.00 566.78 L1117.00 566.78 L1119.00 564.86 L1119.00 559.48 L1117.00 557.18 M1198.65 543.10 L1192.80 543.10 L1188.90 546.94 L1188.90 558.46 L1190.85 560.38 L1198.65 560.38 L1200.60 558.46 L1200.60 552.70 L1198.65 550.59 L1190.85 550.59 L1188.90 551.93 M1600.20 497.10 L1611.42 497.10 L1611.42 498.04 L1603.57 513.93 M1602.07 513.93 L1607.68 513.93 L1611.42 510.19 L1611.42 498.97 L1609.55 497.10 L1602.07 497.10 L1600.20 498.97 L1600.20 503.65 L1602.07 505.70 L1611.42 505.70 M75.8 599.5V616 M96.40 616.80H105.40L107.00 618.40V623.70L105.40 625.30H96.40L94.80 623.70V618.40Z M893.70 614.20H902.10L903.70 615.80V620.90L902.10 622.50H893.70L892.10 620.90V615.80Z M887.40 622.40H894.80L896.40 624.00V629.60L894.80 631.20H887.40L885.80 629.60V624.00Z M1108.10 566.80H1118.40L1120.00 568.40V574.10L1118.40 575.70H1108.10L1106.50 574.10V568.40Z M1108.10 574.00H1117.40L1119.00 575.60V581.60L1117.40 583.20H1108.10L1106.50 581.60V575.60Z M1190.50 566.00H1199.00L1200.60 567.60V573.80L1199.00 575.40H1190.50L1188.90 573.80V567.60Z M1601.80 519.80H1609.80L1611.40 521.40V528.10L1609.80 529.70H1601.80L1600.20 528.10V521.40Z M75.8 622H79.8L81.3 623.5V630.2L79.8 631.7H75.8" stroke="#383838" stroke-width="1.45" fill="none" stroke-linejoin="round"/></svg>
</body></html>
